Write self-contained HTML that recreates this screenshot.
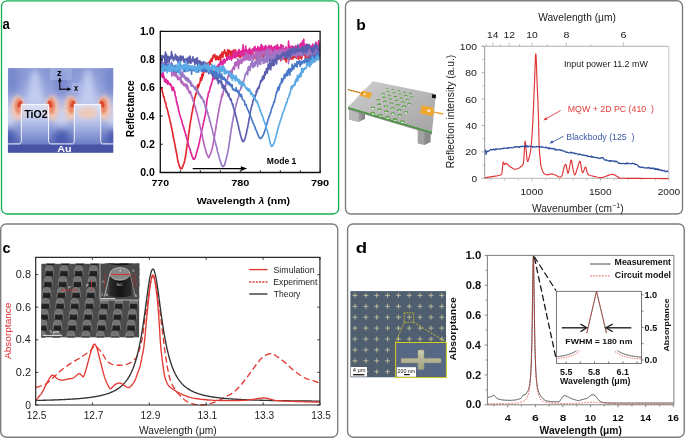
<!DOCTYPE html>
<html><head><meta charset="utf-8"><style>
html,body{margin:0;padding:0;background:#fff;}
svg{display:block;will-change:transform;}
text{font-family:"Liberation Sans", sans-serif;}
</style></head><body>
<svg width="685" height="438" viewBox="0 0 685 438">
<rect width="685" height="438" fill="#fff"/>
<rect x="1.5" y="0.8" width="337.1" height="213.2" rx="5.5" fill="none" stroke="#12b04f" stroke-width="1.3"/>
<rect x="345.5" y="0.8" width="337.0" height="213.2" rx="5.5" fill="none" stroke="#7d7d7d" stroke-width="1.4"/>
<rect x="0.7" y="224.0" width="337.0" height="213.2" rx="5.5" fill="none" stroke="#7d7d7d" stroke-width="1.4"/>
<rect x="347.6" y="224.0" width="336.6" height="213.2" rx="5.5" fill="none" stroke="#7d7d7d" stroke-width="1.4"/>
<defs>
<clipPath id="fmclip"><rect x="7.9" y="68.1" width="105.4" height="77"/></clipPath>
<filter id="blur3" x="-50%" y="-50%" width="200%" height="200%"><feGaussianBlur stdDeviation="3"/></filter>
<filter id="blur2" x="-50%" y="-50%" width="200%" height="200%"><feGaussianBlur stdDeviation="2"/></filter>
<filter id="blur1" x="-50%" y="-50%" width="200%" height="200%"><feGaussianBlur stdDeviation="1.2"/></filter>
<filter id="blur05a" x="-50%" y="-50%" width="200%" height="200%"><feGaussianBlur stdDeviation="0.7"/></filter>
<linearGradient id="fmbase" x1="0" y1="0" x2="0" y2="1">
<stop offset="0" stop-color="#8797d5"/><stop offset="0.35" stop-color="#97a5dc"/><stop offset="0.56" stop-color="#c2ccee"/><stop offset="0.78" stop-color="#8e9cd6"/><stop offset="1" stop-color="#5a6ab8"/>
</linearGradient>
<radialGradient id="hot" cx="0.5" cy="0.3" r="0.5">
<stop offset="0" stop-color="#e2583a"/><stop offset="0.35" stop-color="#ee9a7c"/><stop offset="0.7" stop-color="#e8d0d4" stop-opacity="0.8"/><stop offset="1" stop-color="#d8dcf0" stop-opacity="0"/>
</radialGradient>
<linearGradient id="pill1" x1="0" y1="0" x2="0" y2="1">
<stop offset="0" stop-color="#dde3f5"/><stop offset="0.4" stop-color="#bcc7ec"/><stop offset="1" stop-color="#6f7fc6"/>
</linearGradient>
</defs>
<g clip-path="url(#fmclip)">
<rect x="7.9" y="68.1" width="105.4" height="77" fill="url(#fmbase)"/>
<g filter="url(#blur3)">
<ellipse cx="8" cy="139" rx="8" ry="9" fill="#4c5cb0"/>
<ellipse cx="61.5" cy="139" rx="8" ry="9" fill="#4c5cb0"/>
<ellipse cx="114" cy="139" rx="8" ry="9" fill="#4c5cb0"/>
<ellipse cx="12" cy="80" rx="7" ry="14" fill="#7484ca" opacity="0.85"/>
<ellipse cx="61.5" cy="80" rx="7" ry="14" fill="#7484ca" opacity="0.85"/>
<ellipse cx="111" cy="80" rx="7" ry="14" fill="#7484ca" opacity="0.85"/>
<path d="M24,105 L46,105 L37.5,70 L32.5,70 Z" fill="#c2ccef"/>
<path d="M77,105 L99,105 L90.5,70 L85.5,70 Z" fill="#c2ccef"/>
<ellipse cx="8" cy="118" rx="9" ry="7" fill="#ccd4f0"/>
<ellipse cx="61.5" cy="118" rx="9" ry="7" fill="#ccd4f0"/>
<ellipse cx="114" cy="118" rx="9" ry="7" fill="#ccd4f0"/>
</g>
<g filter="url(#blur2)">
<ellipse cx="17.7" cy="108" rx="6.6" ry="12.5" fill="#f2c6b4"/>
<ellipse cx="52.2" cy="108" rx="6.6" ry="12.5" fill="#f2c6b4"/>
<ellipse cx="70.7" cy="108" rx="6.6" ry="12.5" fill="#f2c6b4"/>
<ellipse cx="104.3" cy="108" rx="6.6" ry="12.5" fill="#f2c6b4"/>
</g>
<g filter="url(#blur1)">
<ellipse cx="18.7" cy="106" rx="4.0" ry="8" fill="#ea8a6a"/>
<ellipse cx="51.2" cy="106" rx="4.0" ry="8" fill="#ea8a6a"/>
<ellipse cx="71.7" cy="106" rx="4.0" ry="8" fill="#ea8a6a"/>
<ellipse cx="103.3" cy="106" rx="4.0" ry="8" fill="#ea8a6a"/>
</g>
<g filter="url(#blur05a)">
<ellipse cx="19.8" cy="104.2" rx="2.2" ry="3.6" fill="#dc4c30" transform="rotate(20 19.8 104.2)"/>
<ellipse cx="50.1" cy="104.2" rx="2.2" ry="3.6" fill="#dc4c30" transform="rotate(-20 50.1 104.2)"/>
<ellipse cx="72.8" cy="104.2" rx="2.2" ry="3.6" fill="#dc4c30" transform="rotate(20 72.8 104.2)"/>
<ellipse cx="102.2" cy="104.2" rx="2.2" ry="3.6" fill="#dc4c30" transform="rotate(-20 102.2 104.2)"/>
</g>
<path d="M21.3,104.4 L48.6,104.4 L48.6,143.9 L21.3,143.9 Z" fill="url(#pill1)"/>
<path d="M74.3,104.4 L100.7,104.4 L100.7,143.9 L74.3,143.9 Z" fill="url(#pill1)"/>
<g filter="url(#blur2)"><ellipse cx="87.5" cy="113" rx="10" ry="6" fill="#f2c8b2" opacity="0.9"/><ellipse cx="23.5" cy="112" rx="1.6" ry="6" fill="#f0c0a8" opacity="0.7"/><ellipse cx="46.4" cy="112" rx="1.6" ry="6" fill="#f0c0a8" opacity="0.7"/></g>
<rect x="50" y="68.1" width="21.7" height="12" fill="#b4c0ea" opacity="0.45"/>
<rect x="71.7" y="82.9" width="12.9" height="10" fill="#b4c0ea" opacity="0.45"/>
</g>
<rect x="7.9" y="145" width="105.4" height="7.8" fill="#4953a6"/>
<path d="M7.9,143.9 L19.6,143.9 Q21.3,143.5 21.3,140.8 L21.3,104.4 L48.6,104.4 L48.6,140.8 Q48.6,143.5 50.3,143.9 L72.6,143.9 Q74.3,143.5 74.3,140.8 L74.3,104.4 L100.7,104.4 L100.7,140.8 Q100.7,143.5 102.4,143.9 L113.3,143.9" fill="none" stroke="#fff" stroke-width="0.9"/>
<text x="24.40" y="118.00" font-size="10.2" font-weight="bold" fill="#000" textLength="23.12" lengthAdjust="spacingAndGlyphs" >TiO2</text>
<text x="57.23" y="152.30" font-size="9.4" font-weight="bold" fill="#fff" textLength="14.30" lengthAdjust="spacingAndGlyphs" >Au</text>
<text x="57.13" y="75.90" font-size="8.4" font-weight="bold" fill="#000" textLength="4.59" lengthAdjust="spacingAndGlyphs" >z</text>
<text x="74.03" y="91.40" font-size="8.4" font-weight="bold" fill="#000" textLength="4.16" lengthAdjust="spacingAndGlyphs" >x</text>
<line x1="59.80" y1="89.60" x2="59.80" y2="80.50" stroke="#000" stroke-width="1.1" />
<line x1="59.30" y1="89.20" x2="68.50" y2="89.20" stroke="#000" stroke-width="1.1" />
<path d="M59.8,77.6 L57.9,81.4 L61.7,81.4 Z" fill="#000"/>
<path d="M71.2,89.2 L67.4,87.3 L67.4,91.1 Z" fill="#000"/>
<g fill="none" stroke-width="1.65" stroke-linejoin="round">
<path d="M160.9,89.1 L161.2,87.7 L161.6,88.6 L161.9,87.7 L162.2,91.6 L162.6,92.4 L162.9,93.4 L163.2,95.5 L163.5,96.8 L163.9,96.5 L164.2,97.9 L164.5,99.4 L164.9,101.5 L165.2,102.5 L165.5,102.2 L165.9,103.5 L166.2,105.9 L166.5,107.5 L166.8,107.6 L167.2,108.5 L167.5,110.6 L167.8,111.2 L168.2,112.9 L168.5,114.6 L168.8,115.6 L169.2,116.8 L169.5,118.5 L169.8,119.6 L170.1,121.2 L170.5,122.6 L170.8,124.2 L171.1,125.7 L171.5,127.4 L171.8,128.9 L172.1,130.6 L172.5,132.2 L172.8,133.9 L173.1,136.0 L173.4,136.8 L173.8,139.4 L174.1,140.6 L174.4,142.1 L174.8,144.1 L175.1,145.9 L175.4,147.9 L175.8,149.0 L176.1,151.1 L176.4,152.8 L176.7,154.1 L177.1,156.0 L177.4,158.2 L177.7,159.9 L178.1,161.5 L178.4,162.7 L178.7,163.9 L179.1,165.1 L179.4,166.5 L179.7,166.8 L180.0,167.8 L180.4,168.4 L180.7,168.1 L181.0,169.0 L181.4,168.2 L181.7,168.1 L182.0,168.4 L182.4,167.0 L182.7,166.4 L183.0,166.3 L183.3,164.7 L183.7,164.0 L184.0,163.2 L184.3,162.0 L184.7,160.7 L185.0,159.0 L185.3,157.5 L185.7,155.5 L186.0,153.3 L186.3,150.7 L186.6,148.5 L187.0,145.9 L187.3,144.5 L187.6,141.5 L188.0,140.0 L188.3,137.9 L188.6,134.5 L189.0,132.2 L189.3,129.8 L189.6,127.9 L189.9,125.1 L190.3,123.2 L190.6,121.1 L190.9,119.1 L191.3,117.6 L191.6,115.0 L191.9,113.5 L192.3,111.7 L192.6,110.2 L192.9,107.3 L193.2,106.9 L193.6,104.8 L193.9,103.4 L194.2,101.1 L194.6,97.9 L194.9,97.1 L195.2,97.0 L195.6,94.8 L195.9,93.4 L196.2,94.2 L196.5,93.7 L196.9,90.0 L197.2,91.5 L197.5,85.7 L197.9,84.7 L198.2,87.6 L198.5,85.2 L198.9,86.0 L199.2,84.6 L199.5,82.8 L199.8,83.0 L200.2,81.3 L200.5,77.8 L200.8,79.5 L201.2,78.5 L201.5,80.4 L201.8,74.5 L202.2,78.7 L202.5,73.8 L202.8,73.5 L203.1,75.9 L203.5,72.9 L203.8,70.7 L204.1,71.2 L204.5,71.7 L204.8,67.9 L205.1,68.7 L205.5,71.7 L205.8,70.0 L206.1,67.8 L206.4,66.5 L206.8,66.8 L207.1,63.6 L207.4,68.1 L207.8,66.5 L208.1,65.7 L208.4,62.3 L208.8,63.1 L209.1,65.1 L209.4,64.2 L209.7,62.3 L210.1,60.6 L210.4,64.4 L210.7,60.7 L211.1,59.0 L211.4,59.3 L211.7,58.2 L212.1,61.5 L212.4,58.0 L212.7,59.3 L213.0,55.6 L213.4,55.3 L213.7,56.7 L214.0,55.6 L214.4,56.2 L214.7,54.3 L215.0,56.8 L215.4,59.1 L215.7,58.7 L216.0,59.9 L216.3,56.2 L216.7,58.3 L217.0,56.1 L217.3,59.1 L217.7,56.9 L218.0,57.0 L218.3,57.0 L218.7,59.8 L219.0,57.5 L219.3,58.8 L219.6,55.9 L220.0,56.3 L220.3,54.7 L220.6,60.2 L221.0,56.6 L221.3,56.8 L221.6,55.8 L222.0,52.4 L222.3,52.4 L222.6,54.8 L222.9,57.5 L223.3,52.1 L223.6,52.6 L223.9,53.7 L224.3,52.2 L224.6,49.9 L224.9,52.4 L225.3,53.0 L225.6,52.3 L225.9,56.1 L226.2,52.7 L226.6,53.7 L226.9,56.5 L227.2,56.4 L227.6,49.9 L227.9,52.3 L228.2,55.4 L228.6,50.4 L228.9,50.1 L229.2,50.6 L229.5,50.6 L229.9,51.1 L230.2,53.8 L230.5,56.0 L230.9,56.6 L231.2,53.6 L231.5,51.3 L231.9,56.6 L232.2,53.1 L232.5,54.6 L232.8,53.7 L233.2,50.4 L233.5,54.9 L233.8,50.0 L234.2,52.8 L234.5,54.8 L234.8,55.0 L235.2,57.5 L235.5,49.7 L235.8,55.1 L236.1,55.9 L236.5,53.9 L236.8,55.9 L237.1,52.5 L237.5,56.0 L237.8,55.8 L238.1,52.8 L238.5,53.5 L238.8,54.5 L239.1,56.5 L239.4,57.0 L239.8,54.6 L240.1,57.6 L240.4,57.4 L240.8,55.2 L241.1,55.2 L241.4,53.2 L241.8,53.5 L242.1,53.6 L242.4,55.9 L242.7,53.4 L243.1,55.4 L243.4,55.6 L243.7,54.3 L244.1,54.9 L244.4,58.2 L244.7,58.6 L245.1,53.8 L245.4,55.0 L245.7,54.7 L246.0,54.9 L246.4,58.5 L246.7,56.8 L247.0,58.0 L247.4,59.0 L247.7,54.6 L248.0,55.1 L248.4,55.6 L248.7,57.6 L249.0,55.4 L249.3,56.9 L249.7,57.9 L250.0,57.3 L250.3,56.5 L250.7,54.1 L251.0,52.5 L251.3,57.9 L251.7,56.6 L252.0,55.5 L252.3,55.3 L252.6,54.8 L253.0,52.4 L253.3,56.3 L253.6,54.2 L254.0,55.2 L254.3,58.3 L254.6,55.6 L255.0,56.9 L255.3,56.7 L255.6,55.9 L255.9,55.9 L256.3,59.6 L256.6,55.5 L256.9,58.0 L257.3,54.1 L257.6,57.4 L257.9,56.3 L258.3,54.5 L258.6,50.7 L258.9,59.1 L259.2,53.7 L259.6,54.1 L259.9,56.3 L260.2,56.1 L260.6,56.6 L260.9,55.5 L261.2,53.0 L261.6,57.8 L261.9,54.3 L262.2,56.5 L262.5,57.2 L262.9,58.5 L263.2,55.7 L263.5,55.5 L263.9,55.7 L264.2,52.4 L264.5,54.6 L264.9,54.2 L265.2,53.9 L265.5,56.5 L265.8,55.6 L266.2,59.4 L266.5,59.2 L266.8,52.5 L267.2,56.5 L267.5,54.2 L267.8,57.4 L268.2,56.6 L268.5,58.1 L268.8,56.9 L269.1,57.8 L269.5,55.7 L269.8,51.3 L270.1,53.9 L270.5,54.6 L270.8,55.4 L271.1,54.3 L271.5,59.6 L271.8,56.0 L272.1,59.0 L272.4,55.7 L272.8,59.7 L273.1,54.0 L273.4,57.6 L273.8,53.7 L274.1,57.3 L274.4,59.6 L274.8,53.1 L275.1,54.7 L275.4,56.9 L275.7,56.1 L276.1,53.7 L276.4,58.8 L276.7,56.6 L277.1,59.0 L277.4,57.1 L277.7,53.7 L278.1,55.5 L278.4,59.2 L278.7,53.7 L279.0,55.6 L279.4,57.7 L279.7,58.5 L280.0,58.2 L280.4,53.6 L280.7,60.7 L281.0,56.2 L281.4,59.1 L281.7,56.5 L282.0,56.1 L282.3,54.6 L282.7,55.9 L283.0,59.2 L283.3,53.8 L283.7,51.7 L284.0,57.6 L284.3,57.2 L284.7,58.0 L285.0,60.0 L285.3,55.1 L285.6,56.9 L286.0,57.6 L286.3,62.1 L286.6,58.6 L287.0,54.9 L287.3,53.8 L287.6,56.0 L288.0,53.3 L288.3,58.8 L288.6,55.8 L288.9,55.8 L289.3,56.1 L289.6,59.6 L289.9,57.1 L290.3,55.7 L290.6,57.8 L290.9,52.1 L291.3,57.7 L291.6,59.2 L291.9,56.0 L292.2,58.1 L292.6,57.5 L292.9,58.8 L293.2,57.7 L293.6,56.6 L293.9,55.3 L294.2,57.1 L294.6,54.5 L294.9,55.5 L295.2,56.7 L295.5,57.6 L295.9,55.5 L296.2,54.9 L296.5,54.7 L296.9,58.7 L297.2,56.1 L297.5,56.1 L297.9,52.9 L298.2,56.4 L298.5,49.6 L298.8,59.2 L299.2,56.0 L299.5,56.5 L299.8,53.6 L300.2,57.1 L300.5,57.7 L300.8,56.1 L301.2,57.3 L301.5,59.0 L301.8,57.8 L302.1,52.7 L302.5,54.5 L302.8,54.2 L303.1,54.6 L303.5,52.3 L303.8,52.3 L304.1,54.9 L304.5,55.2 L304.8,55.3 L305.1,53.5 L305.4,59.2 L305.8,52.7 L306.1,53.6 L306.4,56.9 L306.8,55.8 L307.1,54.4 L307.4,57.9 L307.8,58.5 L308.1,59.0 L308.4,55.5 L308.7,56.3 L309.1,55.9 L309.4,56.4 L309.7,58.3 L310.1,55.3 L310.4,57.0 L310.7,51.8 L311.1,55.5 L311.4,59.5 L311.7,56.2 L312.0,58.3 L312.4,52.9 L312.7,55.5 L313.0,53.1 L313.4,56.8 L313.7,57.2 L314.0,53.4 L314.4,54.5 L314.7,55.0 L315.0,61.0 L315.3,55.4 L315.7,56.4 L316.0,56.8 L316.3,55.6 L316.7,53.2 L317.0,53.4 L317.3,56.9 L317.7,59.3 L318.0,56.6 L318.3,53.5 L318.6,53.3 L319.0,55.9 L319.3,56.1 L319.6,54.7" stroke="#e2262c"/>
<path d="M160.9,76.0 L161.2,73.7 L161.6,74.1 L161.9,75.1 L162.2,77.3 L162.6,73.2 L162.9,75.0 L163.2,72.7 L163.5,76.8 L163.9,78.2 L164.2,76.8 L164.5,81.2 L164.9,79.9 L165.2,81.9 L165.5,79.4 L165.9,82.4 L166.2,79.2 L166.5,81.0 L166.8,81.0 L167.2,80.6 L167.5,84.1 L167.8,84.0 L168.2,81.4 L168.5,83.7 L168.8,83.2 L169.2,83.6 L169.5,84.6 L169.8,83.4 L170.1,84.7 L170.5,85.2 L170.8,84.3 L171.1,85.4 L171.5,87.2 L171.8,86.5 L172.1,90.1 L172.5,90.4 L172.8,88.3 L173.1,89.3 L173.4,87.2 L173.8,89.7 L174.1,90.4 L174.4,91.6 L174.8,91.3 L175.1,95.1 L175.4,96.2 L175.8,96.6 L176.1,98.7 L176.4,101.0 L176.7,103.0 L177.1,102.2 L177.4,105.7 L177.7,105.0 L178.1,107.1 L178.4,108.8 L178.7,111.1 L179.1,111.9 L179.4,113.2 L179.7,114.7 L180.0,115.4 L180.4,116.3 L180.7,118.1 L181.0,118.7 L181.4,119.5 L181.7,120.5 L182.0,122.1 L182.4,123.8 L182.7,124.5 L183.0,125.4 L183.3,126.8 L183.7,127.1 L184.0,128.8 L184.3,129.6 L184.7,131.3 L185.0,131.7 L185.3,133.4 L185.7,134.3 L186.0,135.5 L186.3,136.9 L186.6,137.8 L187.0,139.5 L187.3,140.2 L187.6,140.8 L188.0,143.2 L188.3,144.3 L188.6,145.3 L189.0,146.7 L189.3,147.6 L189.6,148.2 L189.9,148.9 L190.3,150.2 L190.6,151.5 L190.9,152.8 L191.3,153.2 L191.6,154.4 L191.9,156.2 L192.3,156.4 L192.6,157.2 L192.9,157.8 L193.2,159.1 L193.6,159.1 L193.9,159.3 L194.2,159.4 L194.6,158.8 L194.9,158.4 L195.2,157.4 L195.6,156.6 L195.9,155.6 L196.2,154.5 L196.5,152.7 L196.9,151.8 L197.2,150.5 L197.5,149.2 L197.9,148.1 L198.2,147.5 L198.5,145.9 L198.9,144.2 L199.2,142.9 L199.5,141.7 L199.8,139.4 L200.2,138.3 L200.5,137.1 L200.8,135.6 L201.2,133.8 L201.5,132.1 L201.8,129.9 L202.2,128.8 L202.5,127.5 L202.8,126.2 L203.1,124.7 L203.5,122.4 L203.8,121.5 L204.1,120.3 L204.5,118.4 L204.8,117.1 L205.1,115.7 L205.5,113.9 L205.8,112.0 L206.1,109.6 L206.4,105.6 L206.8,101.9 L207.1,99.4 L207.4,98.0 L207.8,96.6 L208.1,95.8 L208.4,92.7 L208.8,92.1 L209.1,91.3 L209.4,91.9 L209.7,89.7 L210.1,87.7 L210.4,87.9 L210.7,85.9 L211.1,84.9 L211.4,85.0 L211.7,82.9 L212.1,82.0 L212.4,80.4 L212.7,78.6 L213.0,78.6 L213.4,74.1 L213.7,75.9 L214.0,78.3 L214.4,79.1 L214.7,74.0 L215.0,72.5 L215.4,70.6 L215.7,72.6 L216.0,70.9 L216.3,72.3 L216.7,66.3 L217.0,68.9 L217.3,67.5 L217.7,66.3 L218.0,69.0 L218.3,64.8 L218.7,64.2 L219.0,70.2 L219.3,64.6 L219.6,63.9 L220.0,64.8 L220.3,61.5 L220.6,63.9 L221.0,63.4 L221.3,61.6 L221.6,61.1 L222.0,64.7 L222.3,63.0 L222.6,65.2 L222.9,64.7 L223.3,59.7 L223.6,62.0 L223.9,59.8 L224.3,59.2 L224.6,62.7 L224.9,63.0 L225.3,60.2 L225.6,60.4 L225.9,60.1 L226.2,60.0 L226.6,59.9 L226.9,57.0 L227.2,60.1 L227.6,57.3 L227.9,56.1 L228.2,58.0 L228.6,58.7 L228.9,56.3 L229.2,58.6 L229.5,59.3 L229.9,56.1 L230.2,58.1 L230.5,57.6 L230.9,57.6 L231.2,58.0 L231.5,60.1 L231.9,58.0 L232.2,57.7 L232.5,56.4 L232.8,55.5 L233.2,57.7 L233.5,50.9 L233.8,54.7 L234.2,54.8 L234.5,56.4 L234.8,54.5 L235.2,57.8 L235.5,51.3 L235.8,57.8 L236.1,55.2 L236.5,56.3 L236.8,53.3 L237.1,56.2 L237.5,53.4 L237.8,54.4 L238.1,50.8 L238.5,54.7 L238.8,53.8 L239.1,49.6 L239.4,53.1 L239.8,52.7 L240.1,54.7 L240.4,51.6 L240.8,53.2 L241.1,55.3 L241.4,50.9 L241.8,56.3 L242.1,53.0 L242.4,51.9 L242.7,49.6 L243.1,44.8 L243.4,54.1 L243.7,51.1 L244.1,49.7 L244.4,54.0 L244.7,53.2 L245.1,52.0 L245.4,51.4 L245.7,46.1 L246.0,49.5 L246.4,51.4 L246.7,50.9 L247.0,53.1 L247.4,50.4 L247.7,51.9 L248.0,55.5 L248.4,52.3 L248.7,49.9 L249.0,49.3 L249.3,53.3 L249.7,48.3 L250.0,52.5 L250.3,54.0 L250.7,50.5 L251.0,52.3 L251.3,50.7 L251.7,53.4 L252.0,51.0 L252.3,49.0 L252.6,51.1 L253.0,50.2 L253.3,49.0 L253.6,49.7 L254.0,47.7 L254.3,48.4 L254.6,51.4 L255.0,46.3 L255.3,50.6 L255.6,50.0 L255.9,48.7 L256.3,52.7 L256.6,50.6 L256.9,48.6 L257.3,50.2 L257.6,54.9 L257.9,46.5 L258.3,50.1 L258.6,49.1 L258.9,50.4 L259.2,53.8 L259.6,48.2 L259.9,48.8 L260.2,47.1 L260.6,49.9 L260.9,50.7 L261.2,44.5 L261.6,52.4 L261.9,49.8 L262.2,45.7 L262.5,46.3 L262.9,50.3 L263.2,49.5 L263.5,53.5 L263.9,52.7 L264.2,51.8 L264.5,46.5 L264.9,50.0 L265.2,48.3 L265.5,48.2 L265.8,45.6 L266.2,48.3 L266.5,51.9 L266.8,47.8 L267.2,48.6 L267.5,49.3 L267.8,47.1 L268.2,49.6 L268.5,50.2 L268.8,48.5 L269.1,45.3 L269.5,52.1 L269.8,49.1 L270.1,48.9 L270.5,48.0 L270.8,47.7 L271.1,45.6 L271.5,48.8 L271.8,49.2 L272.1,50.9 L272.4,52.2 L272.8,47.4 L273.1,52.1 L273.4,49.0 L273.8,50.0 L274.1,46.8 L274.4,49.5 L274.8,46.9 L275.1,50.1 L275.4,46.2 L275.7,46.0 L276.1,47.9 L276.4,49.4 L276.7,49.9 L277.1,49.0 L277.4,44.6 L277.7,50.4 L278.1,50.5 L278.4,47.1 L278.7,50.1 L279.0,47.3 L279.4,48.3 L279.7,48.4 L280.0,48.4 L280.4,50.2 L280.7,44.9 L281.0,52.1 L281.4,45.0 L281.7,51.0 L282.0,49.7 L282.3,45.5 L282.7,49.2 L283.0,47.9 L283.3,46.1 L283.7,50.9 L284.0,50.7 L284.3,49.2 L284.7,51.8 L285.0,48.7 L285.3,52.9 L285.6,51.1 L286.0,46.9 L286.3,50.0 L286.6,50.6 L287.0,48.8 L287.3,48.6 L287.6,49.3 L288.0,48.8 L288.3,46.9 L288.6,41.1 L288.9,48.5 L289.3,45.3 L289.6,50.2 L289.9,47.3 L290.3,48.7 L290.6,49.7 L290.9,50.3 L291.3,46.3 L291.6,52.6 L291.9,51.8 L292.2,49.6 L292.6,46.3 L292.9,52.2 L293.2,49.4 L293.6,48.9 L293.9,47.5 L294.2,51.9 L294.6,51.0 L294.9,47.8 L295.2,54.3 L295.5,45.8 L295.9,49.7 L296.2,49.3 L296.5,49.3 L296.9,46.3 L297.2,47.1 L297.5,49.8 L297.9,50.0 L298.2,50.5 L298.5,47.2 L298.8,46.7 L299.2,50.4 L299.5,47.4 L299.8,46.5 L300.2,43.8 L300.5,44.0 L300.8,45.3 L301.2,43.4 L301.5,46.7 L301.8,46.8 L302.1,45.4 L302.5,41.2 L302.8,47.2 L303.1,43.8 L303.5,48.8 L303.8,39.2 L304.1,51.2 L304.5,44.3 L304.8,47.3 L305.1,46.5 L305.4,48.0 L305.8,53.1 L306.1,48.3 L306.4,44.0 L306.8,48.7 L307.1,46.6 L307.4,47.9 L307.8,49.2 L308.1,44.7 L308.4,48.3 L308.7,45.5 L309.1,46.8 L309.4,47.4 L309.7,48.5 L310.1,47.4 L310.4,46.4 L310.7,48.1 L311.1,49.0 L311.4,48.9 L311.7,51.2 L312.0,45.6 L312.4,47.3 L312.7,44.1 L313.0,45.4 L313.4,48.1 L313.7,49.4 L314.0,45.8 L314.4,47.7 L314.7,46.9 L315.0,47.8 L315.3,47.2 L315.7,45.8 L316.0,42.2 L316.3,43.7 L316.7,47.4 L317.0,49.0 L317.3,50.8 L317.7,46.7 L318.0,48.5 L318.3,44.2 L318.6,40.9 L319.0,45.8 L319.3,49.9 L319.6,50.1" stroke="#e0249a"/>
<path d="M160.9,62.9 L161.2,63.7 L161.6,64.2 L161.9,63.9 L162.2,62.0 L162.6,66.8 L162.9,64.8 L163.2,66.3 L163.5,66.9 L163.9,64.8 L164.2,63.5 L164.5,64.6 L164.9,65.2 L165.2,64.7 L165.5,65.9 L165.9,63.8 L166.2,66.0 L166.5,65.9 L166.8,67.8 L167.2,68.5 L167.5,71.3 L167.8,70.3 L168.2,69.5 L168.5,68.5 L168.8,68.8 L169.2,69.7 L169.5,68.8 L169.8,69.6 L170.1,68.2 L170.5,70.9 L170.8,68.8 L171.1,69.9 L171.5,70.1 L171.8,76.2 L172.1,72.0 L172.5,73.9 L172.8,70.2 L173.1,73.8 L173.4,72.6 L173.8,75.1 L174.1,73.1 L174.4,72.1 L174.8,75.8 L175.1,74.9 L175.4,72.9 L175.8,75.5 L176.1,73.4 L176.4,77.3 L176.7,76.6 L177.1,77.4 L177.4,75.6 L177.7,79.7 L178.1,76.9 L178.4,78.7 L178.7,78.1 L179.1,79.0 L179.4,77.3 L179.7,79.7 L180.0,80.0 L180.4,77.7 L180.7,82.2 L181.0,79.5 L181.4,80.5 L181.7,80.8 L182.0,83.9 L182.4,81.7 L182.7,82.2 L183.0,83.7 L183.3,83.8 L183.7,85.5 L184.0,83.7 L184.3,83.8 L184.7,83.8 L185.0,84.2 L185.3,86.3 L185.7,86.7 L186.0,85.9 L186.3,86.0 L186.6,84.2 L187.0,88.5 L187.3,89.2 L187.6,85.6 L188.0,87.5 L188.3,89.1 L188.6,91.4 L189.0,90.5 L189.3,92.2 L189.6,93.2 L189.9,92.8 L190.3,91.6 L190.6,91.9 L190.9,93.8 L191.3,95.7 L191.6,96.2 L191.9,95.8 L192.3,98.3 L192.6,97.8 L192.9,99.2 L193.2,101.2 L193.6,101.8 L193.9,102.4 L194.2,103.3 L194.6,105.1 L194.9,106.4 L195.2,107.2 L195.6,108.0 L195.9,109.9 L196.2,111.2 L196.5,111.5 L196.9,113.4 L197.2,114.2 L197.5,115.6 L197.9,117.2 L198.2,117.9 L198.5,119.6 L198.9,121.5 L199.2,122.8 L199.5,123.5 L199.8,124.8 L200.2,126.9 L200.5,128.0 L200.8,129.4 L201.2,130.3 L201.5,132.2 L201.8,133.2 L202.2,135.1 L202.5,137.3 L202.8,138.7 L203.1,140.4 L203.5,141.5 L203.8,143.2 L204.1,144.4 L204.5,146.5 L204.8,147.1 L205.1,148.0 L205.5,149.5 L205.8,151.2 L206.1,151.8 L206.4,153.2 L206.8,153.7 L207.1,154.8 L207.4,155.4 L207.8,156.0 L208.1,156.7 L208.4,157.2 L208.8,157.6 L209.1,156.9 L209.4,156.0 L209.7,155.5 L210.1,154.6 L210.4,154.2 L210.7,153.0 L211.1,152.2 L211.4,150.9 L211.7,150.5 L212.1,148.7 L212.4,147.7 L212.7,145.9 L213.0,145.0 L213.4,142.1 L213.7,140.8 L214.0,139.2 L214.4,136.8 L214.7,135.1 L215.0,132.9 L215.4,131.4 L215.7,129.0 L216.0,127.5 L216.3,124.5 L216.7,123.2 L217.0,120.7 L217.3,118.8 L217.7,117.1 L218.0,114.9 L218.3,113.0 L218.7,111.7 L219.0,109.0 L219.3,107.7 L219.6,106.8 L220.0,104.0 L220.3,104.0 L220.6,100.8 L221.0,100.5 L221.3,99.0 L221.6,95.9 L222.0,97.2 L222.3,93.8 L222.6,95.5 L222.9,94.6 L223.3,91.0 L223.6,90.7 L223.9,89.3 L224.3,86.6 L224.6,86.3 L224.9,86.2 L225.3,85.3 L225.6,86.1 L225.9,83.6 L226.2,81.6 L226.6,82.5 L226.9,81.8 L227.2,79.3 L227.6,79.1 L227.9,76.9 L228.2,76.7 L228.6,72.5 L228.9,72.3 L229.2,76.1 L229.5,72.7 L229.9,71.2 L230.2,73.5 L230.5,75.8 L230.9,73.3 L231.2,71.6 L231.5,70.3 L231.9,73.4 L232.2,72.8 L232.5,69.6 L232.8,67.8 L233.2,68.2 L233.5,68.6 L233.8,66.8 L234.2,65.6 L234.5,69.4 L234.8,62.8 L235.2,64.9 L235.5,65.6 L235.8,62.0 L236.1,62.5 L236.5,65.9 L236.8,62.0 L237.1,64.1 L237.5,60.8 L237.8,58.8 L238.1,62.2 L238.5,68.4 L238.8,62.4 L239.1,60.9 L239.4,64.4 L239.8,60.6 L240.1,59.4 L240.4,61.4 L240.8,62.8 L241.1,61.2 L241.4,62.4 L241.8,63.3 L242.1,58.4 L242.4,59.6 L242.7,59.1 L243.1,60.7 L243.4,56.1 L243.7,61.2 L244.1,56.3 L244.4,59.7 L244.7,56.1 L245.1,56.6 L245.4,59.7 L245.7,54.1 L246.0,59.5 L246.4,57.5 L246.7,53.1 L247.0,60.0 L247.4,55.4 L247.7,59.0 L248.0,56.8 L248.4,56.8 L248.7,60.2 L249.0,54.5 L249.3,56.8 L249.7,58.9 L250.0,56.2 L250.3,60.2 L250.7,55.7 L251.0,57.9 L251.3,55.6 L251.7,58.1 L252.0,54.8 L252.3,56.3 L252.6,57.8 L253.0,53.7 L253.3,60.1 L253.6,58.6 L254.0,55.1 L254.3,55.3 L254.6,57.3 L255.0,57.6 L255.3,52.7 L255.6,53.9 L255.9,50.4 L256.3,55.4 L256.6,56.7 L256.9,53.6 L257.3,52.8 L257.6,56.1 L257.9,54.1 L258.3,59.2 L258.6,58.0 L258.9,51.3 L259.2,56.3 L259.6,56.2 L259.9,56.2 L260.2,54.7 L260.6,51.8 L260.9,54.9 L261.2,53.5 L261.6,58.1 L261.9,55.7 L262.2,56.7 L262.5,51.0 L262.9,54.3 L263.2,53.8 L263.5,52.4 L263.9,53.2 L264.2,51.0 L264.5,54.3 L264.9,52.2 L265.2,54.2 L265.5,51.0 L265.8,53.3 L266.2,52.3 L266.5,55.3 L266.8,55.3 L267.2,52.6 L267.5,54.8 L267.8,48.3 L268.2,53.8 L268.5,54.4 L268.8,53.4 L269.1,50.1 L269.5,53.4 L269.8,55.3 L270.1,54.1 L270.5,49.1 L270.8,53.4 L271.1,56.8 L271.5,55.8 L271.8,56.3 L272.1,53.1 L272.4,54.8 L272.8,53.2 L273.1,53.1 L273.4,51.1 L273.8,53.2 L274.1,55.2 L274.4,53.4 L274.8,49.4 L275.1,54.3 L275.4,50.9 L275.7,54.1 L276.1,51.4 L276.4,55.7 L276.7,52.6 L277.1,55.0 L277.4,51.1 L277.7,52.5 L278.1,53.1 L278.4,50.0 L278.7,51.7 L279.0,51.7 L279.4,52.9 L279.7,52.8 L280.0,49.4 L280.4,55.0 L280.7,53.9 L281.0,51.4 L281.4,54.5 L281.7,52.1 L282.0,51.4 L282.3,49.8 L282.7,47.2 L283.0,58.4 L283.3,54.7 L283.7,53.6 L284.0,53.6 L284.3,56.2 L284.7,49.4 L285.0,53.7 L285.3,56.3 L285.6,52.0 L286.0,57.1 L286.3,51.7 L286.6,52.2 L287.0,48.4 L287.3,53.4 L287.6,53.9 L288.0,53.4 L288.3,52.7 L288.6,53.7 L288.9,51.8 L289.3,48.7 L289.6,52.7 L289.9,53.2 L290.3,57.6 L290.6,51.2 L290.9,52.3 L291.3,48.5 L291.6,48.4 L291.9,49.8 L292.2,54.8 L292.6,52.1 L292.9,50.7 L293.2,50.2 L293.6,52.3 L293.9,53.5 L294.2,52.9 L294.6,51.6 L294.9,52.0 L295.2,53.0 L295.5,53.0 L295.9,52.4 L296.2,51.0 L296.5,48.8 L296.9,50.6 L297.2,51.5 L297.5,51.3 L297.9,48.3 L298.2,49.1 L298.5,53.5 L298.8,50.0 L299.2,51.1 L299.5,50.3 L299.8,48.6 L300.2,52.6 L300.5,48.0 L300.8,51.1 L301.2,50.2 L301.5,51.1 L301.8,49.5 L302.1,53.0 L302.5,53.6 L302.8,52.4 L303.1,50.0 L303.5,48.2 L303.8,55.4 L304.1,46.9 L304.5,48.4 L304.8,51.5 L305.1,51.8 L305.4,45.6 L305.8,51.7 L306.1,47.9 L306.4,52.2 L306.8,51.5 L307.1,50.7 L307.4,52.9 L307.8,51.4 L308.1,46.0 L308.4,52.3 L308.7,51.2 L309.1,52.6 L309.4,50.2 L309.7,52.2 L310.1,49.9 L310.4,51.5 L310.7,52.4 L311.1,49.5 L311.4,49.3 L311.7,50.7 L312.0,52.1 L312.4,51.3 L312.7,50.9 L313.0,51.9 L313.4,51.2 L313.7,48.4 L314.0,53.1 L314.4,53.0 L314.7,50.5 L315.0,47.0 L315.3,52.8 L315.7,48.2 L316.0,50.3 L316.3,49.9 L316.7,53.6 L317.0,52.2 L317.3,51.2 L317.7,51.2 L318.0,49.0 L318.3,48.0 L318.6,51.5 L319.0,51.7 L319.3,50.2 L319.6,53.2" stroke="#b566bf"/>
<path d="M160.9,65.3 L161.2,59.9 L161.6,62.5 L161.9,58.4 L162.2,64.8 L162.6,63.4 L162.9,67.0 L163.2,67.3 L163.5,62.8 L163.9,64.8 L164.2,65.3 L164.5,62.2 L164.9,62.5 L165.2,64.0 L165.5,59.8 L165.9,60.0 L166.2,64.3 L166.5,63.7 L166.8,63.2 L167.2,68.8 L167.5,64.8 L167.8,66.9 L168.2,65.2 L168.5,64.9 L168.8,63.9 L169.2,61.9 L169.5,65.4 L169.8,64.1 L170.1,66.7 L170.5,63.8 L170.8,64.1 L171.1,65.7 L171.5,62.3 L171.8,64.2 L172.1,65.9 L172.5,65.6 L172.8,65.7 L173.1,66.8 L173.4,67.2 L173.8,71.9 L174.1,67.0 L174.4,65.8 L174.8,69.6 L175.1,68.7 L175.4,67.8 L175.8,71.4 L176.1,65.3 L176.4,69.6 L176.7,68.5 L177.1,70.1 L177.4,70.4 L177.7,70.7 L178.1,71.7 L178.4,69.4 L178.7,69.9 L179.1,73.0 L179.4,71.6 L179.7,71.2 L180.0,70.4 L180.4,72.4 L180.7,70.7 L181.0,75.7 L181.4,78.0 L181.7,74.7 L182.0,72.7 L182.4,76.3 L182.7,72.0 L183.0,76.0 L183.3,75.0 L183.7,77.1 L184.0,75.0 L184.3,76.5 L184.7,78.1 L185.0,76.5 L185.3,79.5 L185.7,77.0 L186.0,77.6 L186.3,80.6 L186.6,78.0 L187.0,78.8 L187.3,77.9 L187.6,78.2 L188.0,81.8 L188.3,80.7 L188.6,78.9 L189.0,80.1 L189.3,81.3 L189.6,83.0 L189.9,83.0 L190.3,83.1 L190.6,81.1 L190.9,86.0 L191.3,82.8 L191.6,84.1 L191.9,83.9 L192.3,86.4 L192.6,85.4 L192.9,86.4 L193.2,85.8 L193.6,86.0 L193.9,87.0 L194.2,87.9 L194.6,88.6 L194.9,89.0 L195.2,89.6 L195.6,86.5 L195.9,89.6 L196.2,90.4 L196.5,91.5 L196.9,90.2 L197.2,89.8 L197.5,89.6 L197.9,92.4 L198.2,91.1 L198.5,93.2 L198.9,94.9 L199.2,93.2 L199.5,94.0 L199.8,94.7 L200.2,94.7 L200.5,97.4 L200.8,95.8 L201.2,98.2 L201.5,97.6 L201.8,97.2 L202.2,98.7 L202.5,99.2 L202.8,99.0 L203.1,100.1 L203.5,102.1 L203.8,102.2 L204.1,100.8 L204.5,104.2 L204.8,104.8 L205.1,105.5 L205.5,108.0 L205.8,105.9 L206.1,108.1 L206.4,109.4 L206.8,109.0 L207.1,111.4 L207.4,112.0 L207.8,112.8 L208.1,114.9 L208.4,115.8 L208.8,116.4 L209.1,117.9 L209.4,118.7 L209.7,121.1 L210.1,121.2 L210.4,122.8 L210.7,123.9 L211.1,125.7 L211.4,126.5 L211.7,127.8 L212.1,129.2 L212.4,130.2 L212.7,131.8 L213.0,133.5 L213.4,134.9 L213.7,134.9 L214.0,137.0 L214.4,138.6 L214.7,139.8 L215.0,141.5 L215.4,142.4 L215.7,144.1 L216.0,144.7 L216.3,146.0 L216.7,147.1 L217.0,149.1 L217.3,150.4 L217.7,152.0 L218.0,152.9 L218.3,154.2 L218.7,155.1 L219.0,157.0 L219.3,157.8 L219.6,158.9 L220.0,160.5 L220.3,160.6 L220.6,162.1 L221.0,163.0 L221.3,164.1 L221.6,165.0 L222.0,165.8 L222.3,165.7 L222.6,166.5 L222.9,166.4 L223.3,166.6 L223.6,165.9 L223.9,166.1 L224.3,165.4 L224.6,165.0 L224.9,163.1 L225.3,162.2 L225.6,161.4 L225.9,160.3 L226.2,158.5 L226.6,157.4 L226.9,156.1 L227.2,154.8 L227.6,153.1 L227.9,151.2 L228.2,149.9 L228.6,148.0 L228.9,145.9 L229.2,143.8 L229.5,141.9 L229.9,139.4 L230.2,137.5 L230.5,134.3 L230.9,132.2 L231.2,130.0 L231.5,128.0 L231.9,125.7 L232.2,123.4 L232.5,122.0 L232.8,120.7 L233.2,118.3 L233.5,116.8 L233.8,115.1 L234.2,113.3 L234.5,111.4 L234.8,110.0 L235.2,109.4 L235.5,107.4 L235.8,105.9 L236.1,104.3 L236.5,103.3 L236.8,102.9 L237.1,101.7 L237.5,99.7 L237.8,98.6 L238.1,98.5 L238.5,97.5 L238.8,95.5 L239.1,93.0 L239.4,90.7 L239.8,90.1 L240.1,90.1 L240.4,90.0 L240.8,88.3 L241.1,86.7 L241.4,88.0 L241.8,85.5 L242.1,83.7 L242.4,82.3 L242.7,83.9 L243.1,81.3 L243.4,81.7 L243.7,80.6 L244.1,79.5 L244.4,78.4 L244.7,78.2 L245.1,74.7 L245.4,74.8 L245.7,74.3 L246.0,73.3 L246.4,73.5 L246.7,72.2 L247.0,72.4 L247.4,70.5 L247.7,74.9 L248.0,67.6 L248.4,70.1 L248.7,68.3 L249.0,66.4 L249.3,69.0 L249.7,70.7 L250.0,66.6 L250.3,69.8 L250.7,63.9 L251.0,66.6 L251.3,64.0 L251.7,62.9 L252.0,59.8 L252.3,63.2 L252.6,65.2 L253.0,67.6 L253.3,65.7 L253.6,67.1 L254.0,63.3 L254.3,62.2 L254.6,66.2 L255.0,66.0 L255.3,61.3 L255.6,62.6 L255.9,64.0 L256.3,62.5 L256.6,60.1 L256.9,63.1 L257.3,56.3 L257.6,66.7 L257.9,62.7 L258.3,59.5 L258.6,63.7 L258.9,63.9 L259.2,63.8 L259.6,63.4 L259.9,58.5 L260.2,59.2 L260.6,64.4 L260.9,60.2 L261.2,59.0 L261.6,59.6 L261.9,57.1 L262.2,59.3 L262.5,60.6 L262.9,58.8 L263.2,63.4 L263.5,57.9 L263.9,62.1 L264.2,60.7 L264.5,62.9 L264.9,60.2 L265.2,55.6 L265.5,56.8 L265.8,61.9 L266.2,57.4 L266.5,61.5 L266.8,50.3 L267.2,62.5 L267.5,58.1 L267.8,59.7 L268.2,60.4 L268.5,54.6 L268.8,57.2 L269.1,59.3 L269.5,61.5 L269.8,56.9 L270.1,57.1 L270.5,57.9 L270.8,57.2 L271.1,59.1 L271.5,61.1 L271.8,55.5 L272.1,55.2 L272.4,55.7 L272.8,58.9 L273.1,61.4 L273.4,56.1 L273.8,56.3 L274.1,52.8 L274.4,59.7 L274.8,57.1 L275.1,56.1 L275.4,57.9 L275.7,57.9 L276.1,59.6 L276.4,55.1 L276.7,57.2 L277.1,54.7 L277.4,56.7 L277.7,55.6 L278.1,53.7 L278.4,54.5 L278.7,57.5 L279.0,54.8 L279.4,55.4 L279.7,52.0 L280.0,56.8 L280.4,51.1 L280.7,55.0 L281.0,56.3 L281.4,60.3 L281.7,56.4 L282.0,54.0 L282.3,54.7 L282.7,56.3 L283.0,56.4 L283.3,54.9 L283.7,57.3 L284.0,56.8 L284.3,53.8 L284.7,55.7 L285.0,56.4 L285.3,52.7 L285.6,53.4 L286.0,55.5 L286.3,57.1 L286.6,57.5 L287.0,56.2 L287.3,53.9 L287.6,55.3 L288.0,54.9 L288.3,56.2 L288.6,63.6 L288.9,53.2 L289.3,51.4 L289.6,57.8 L289.9,53.2 L290.3,53.1 L290.6,56.5 L290.9,53.6 L291.3,49.6 L291.6,56.9 L291.9,53.6 L292.2,52.4 L292.6,54.7 L292.9,54.2 L293.2,52.4 L293.6,55.6 L293.9,51.4 L294.2,54.3 L294.6,52.9 L294.9,55.0 L295.2,54.8 L295.5,51.9 L295.9,52.5 L296.2,57.0 L296.5,57.4 L296.9,55.2 L297.2,55.5 L297.5,54.1 L297.9,50.5 L298.2,52.6 L298.5,52.9 L298.8,53.5 L299.2,49.0 L299.5,56.2 L299.8,51.9 L300.2,54.7 L300.5,48.7 L300.8,53.8 L301.2,51.4 L301.5,55.4 L301.8,51.5 L302.1,55.2 L302.5,55.4 L302.8,50.7 L303.1,50.9 L303.5,54.0 L303.8,52.8 L304.1,53.3 L304.5,50.8 L304.8,51.8 L305.1,52.4 L305.4,53.8 L305.8,50.9 L306.1,53.2 L306.4,53.6 L306.8,56.3 L307.1,47.8 L307.4,55.0 L307.8,55.4 L308.1,56.0 L308.4,52.5 L308.7,53.5 L309.1,51.6 L309.4,52.3 L309.7,54.2 L310.1,51.8 L310.4,51.9 L310.7,52.0 L311.1,52.6 L311.4,54.3 L311.7,54.2 L312.0,49.6 L312.4,52.2 L312.7,52.0 L313.0,54.4 L313.4,54.3 L313.7,51.4 L314.0,51.2 L314.4,48.1 L314.7,53.2 L315.0,52.9 L315.3,51.9 L315.7,49.4 L316.0,51.7 L316.3,51.0 L316.7,50.3 L317.0,51.4 L317.3,48.6 L317.7,50.1 L318.0,46.1 L318.3,52.0 L318.6,55.0 L319.0,47.9 L319.3,52.4 L319.6,50.6" stroke="#9a78c6"/>
<path d="M160.9,56.6 L161.2,63.1 L161.6,60.8 L161.9,55.6 L162.2,60.0 L162.6,56.0 L162.9,57.9 L163.2,57.7 L163.5,57.4 L163.9,57.5 L164.2,57.1 L164.5,55.3 L164.9,61.5 L165.2,60.9 L165.5,52.1 L165.9,67.2 L166.2,57.0 L166.5,54.4 L166.8,57.5 L167.2,62.5 L167.5,60.9 L167.8,60.6 L168.2,56.4 L168.5,61.4 L168.8,61.5 L169.2,61.4 L169.5,60.3 L169.8,57.4 L170.1,56.5 L170.5,56.6 L170.8,58.1 L171.1,58.8 L171.5,51.5 L171.8,56.8 L172.1,54.3 L172.5,57.1 L172.8,56.4 L173.1,59.3 L173.4,60.6 L173.8,57.9 L174.1,59.7 L174.4,58.9 L174.8,58.2 L175.1,56.2 L175.4,54.4 L175.8,58.1 L176.1,55.6 L176.4,60.1 L176.7,57.9 L177.1,58.5 L177.4,57.7 L177.7,56.7 L178.1,62.9 L178.4,59.6 L178.7,59.7 L179.1,58.1 L179.4,57.6 L179.7,58.7 L180.0,56.2 L180.4,61.5 L180.7,56.0 L181.0,57.2 L181.4,60.4 L181.7,59.1 L182.0,56.4 L182.4,57.2 L182.7,59.1 L183.0,56.4 L183.3,58.0 L183.7,62.0 L184.0,62.0 L184.3,61.4 L184.7,59.2 L185.0,62.2 L185.3,59.5 L185.7,59.4 L186.0,61.8 L186.3,58.5 L186.6,59.0 L187.0,58.8 L187.3,60.1 L187.6,59.3 L188.0,63.9 L188.3,57.3 L188.6,61.2 L189.0,58.5 L189.3,60.4 L189.6,62.7 L189.9,56.1 L190.3,57.1 L190.6,61.7 L190.9,63.3 L191.3,60.6 L191.6,59.5 L191.9,59.7 L192.3,61.5 L192.6,59.8 L192.9,56.8 L193.2,59.7 L193.6,61.0 L193.9,61.1 L194.2,59.5 L194.6,62.9 L194.9,65.0 L195.2,59.0 L195.6,62.9 L195.9,61.3 L196.2,61.5 L196.5,58.5 L196.9,63.6 L197.2,57.8 L197.5,60.7 L197.9,69.2 L198.2,61.5 L198.5,64.0 L198.9,60.9 L199.2,60.8 L199.5,63.8 L199.8,64.2 L200.2,62.1 L200.5,61.3 L200.8,62.3 L201.2,67.1 L201.5,63.1 L201.8,66.1 L202.2,62.7 L202.5,63.3 L202.8,62.8 L203.1,62.0 L203.5,65.8 L203.8,61.6 L204.1,66.2 L204.5,65.6 L204.8,71.5 L205.1,68.8 L205.5,70.9 L205.8,62.7 L206.1,67.4 L206.4,68.8 L206.8,65.5 L207.1,68.6 L207.4,67.0 L207.8,71.6 L208.1,68.4 L208.4,68.9 L208.8,73.8 L209.1,69.5 L209.4,68.0 L209.7,71.4 L210.1,69.4 L210.4,68.7 L210.7,71.7 L211.1,73.1 L211.4,69.7 L211.7,74.5 L212.1,70.4 L212.4,73.0 L212.7,76.5 L213.0,75.1 L213.4,72.2 L213.7,74.0 L214.0,73.4 L214.4,72.2 L214.7,77.0 L215.0,78.7 L215.4,74.9 L215.7,74.0 L216.0,76.2 L216.3,78.2 L216.7,79.0 L217.0,77.2 L217.3,80.6 L217.7,77.9 L218.0,78.6 L218.3,83.7 L218.7,80.8 L219.0,80.8 L219.3,81.9 L219.6,81.0 L220.0,81.8 L220.3,80.7 L220.6,80.7 L221.0,80.8 L221.3,84.1 L221.6,81.7 L222.0,84.6 L222.3,87.9 L222.6,86.1 L222.9,84.7 L223.3,86.5 L223.6,88.4 L223.9,86.1 L224.3,89.1 L224.6,85.9 L224.9,87.2 L225.3,90.5 L225.6,88.2 L225.9,92.2 L226.2,90.5 L226.6,92.1 L226.9,92.2 L227.2,91.8 L227.6,94.5 L227.9,94.3 L228.2,96.0 L228.6,94.2 L228.9,93.8 L229.2,96.9 L229.5,97.6 L229.9,98.1 L230.2,99.7 L230.5,100.0 L230.9,99.0 L231.2,100.0 L231.5,101.4 L231.9,102.7 L232.2,103.5 L232.5,104.7 L232.8,103.9 L233.2,107.0 L233.5,107.4 L233.8,108.7 L234.2,110.4 L234.5,111.0 L234.8,111.6 L235.2,112.9 L235.5,114.8 L235.8,115.5 L236.1,116.9 L236.5,118.0 L236.8,119.8 L237.1,121.4 L237.5,121.8 L237.8,123.3 L238.1,124.7 L238.5,126.1 L238.8,128.6 L239.1,129.9 L239.4,130.4 L239.8,131.9 L240.1,133.7 L240.4,134.6 L240.8,136.2 L241.1,136.9 L241.4,138.7 L241.8,138.8 L242.1,140.3 L242.4,140.7 L242.7,141.3 L243.1,141.7 L243.4,141.3 L243.7,141.1 L244.1,140.5 L244.4,140.5 L244.7,138.7 L245.1,138.1 L245.4,137.4 L245.7,135.7 L246.0,134.4 L246.4,133.7 L246.7,131.5 L247.0,129.8 L247.4,128.8 L247.7,126.9 L248.0,125.5 L248.4,123.1 L248.7,121.9 L249.0,119.8 L249.3,117.9 L249.7,116.7 L250.0,114.9 L250.3,112.1 L250.7,110.5 L251.0,109.1 L251.3,107.9 L251.7,106.2 L252.0,104.8 L252.3,105.0 L252.6,103.1 L253.0,100.6 L253.3,99.9 L253.6,99.2 L254.0,99.7 L254.3,98.8 L254.6,95.9 L255.0,97.3 L255.3,95.7 L255.6,95.1 L255.9,94.8 L256.3,91.1 L256.6,90.3 L256.9,92.3 L257.3,89.2 L257.6,89.8 L257.9,89.4 L258.3,87.2 L258.6,88.1 L258.9,87.3 L259.2,88.0 L259.6,84.9 L259.9,83.8 L260.2,83.3 L260.6,80.8 L260.9,82.4 L261.2,80.0 L261.6,80.6 L261.9,80.8 L262.2,79.6 L262.5,76.7 L262.9,79.8 L263.2,78.0 L263.5,75.6 L263.9,76.3 L264.2,78.5 L264.5,74.8 L264.9,71.8 L265.2,75.1 L265.5,74.1 L265.8,72.4 L266.2,69.6 L266.5,68.5 L266.8,68.7 L267.2,73.2 L267.5,70.7 L267.8,68.5 L268.2,64.1 L268.5,66.6 L268.8,69.7 L269.1,67.7 L269.5,65.6 L269.8,59.3 L270.1,65.0 L270.5,63.6 L270.8,69.8 L271.1,63.6 L271.5,64.4 L271.8,65.6 L272.1,61.6 L272.4,60.1 L272.8,60.7 L273.1,63.0 L273.4,65.7 L273.8,63.0 L274.1,59.8 L274.4,65.2 L274.8,59.8 L275.1,59.2 L275.4,59.7 L275.7,62.0 L276.1,58.2 L276.4,59.5 L276.7,64.0 L277.1,55.3 L277.4,59.1 L277.7,59.1 L278.1,55.3 L278.4,58.7 L278.7,55.8 L279.0,56.7 L279.4,56.4 L279.7,56.5 L280.0,58.6 L280.4,55.7 L280.7,57.3 L281.0,57.4 L281.4,55.4 L281.7,55.1 L282.0,54.4 L282.3,56.3 L282.7,54.0 L283.0,52.9 L283.3,54.7 L283.7,55.1 L284.0,54.7 L284.3,54.4 L284.7,52.8 L285.0,58.2 L285.3,56.3 L285.6,53.0 L286.0,56.3 L286.3,57.4 L286.6,55.3 L287.0,51.3 L287.3,55.5 L287.6,57.8 L288.0,54.1 L288.3,50.6 L288.6,54.4 L288.9,55.8 L289.3,54.1 L289.6,51.5 L289.9,48.7 L290.3,57.7 L290.6,53.3 L290.9,49.5 L291.3,52.6 L291.6,50.3 L291.9,49.2 L292.2,49.1 L292.6,54.5 L292.9,51.0 L293.2,48.5 L293.6,50.2 L293.9,46.8 L294.2,48.0 L294.6,47.7 L294.9,51.8 L295.2,53.3 L295.5,49.4 L295.9,52.5 L296.2,48.9 L296.5,50.5 L296.9,52.0 L297.2,51.7 L297.5,48.2 L297.9,44.7 L298.2,50.3 L298.5,49.0 L298.8,50.4 L299.2,51.4 L299.5,50.6 L299.8,49.3 L300.2,51.3 L300.5,49.7 L300.8,48.2 L301.2,51.0 L301.5,47.5 L301.8,48.0 L302.1,51.6 L302.5,48.8 L302.8,49.6 L303.1,46.7 L303.5,50.0 L303.8,53.7 L304.1,50.0 L304.5,50.0 L304.8,47.3 L305.1,50.7 L305.4,45.6 L305.8,46.6 L306.1,49.0 L306.4,52.9 L306.8,50.3 L307.1,47.6 L307.4,45.1 L307.8,50.5 L308.1,44.6 L308.4,44.8 L308.7,45.2 L309.1,48.1 L309.4,44.9 L309.7,46.4 L310.1,48.6 L310.4,47.2 L310.7,48.7 L311.1,49.6 L311.4,51.0 L311.7,51.7 L312.0,49.7 L312.4,48.2 L312.7,47.7 L313.0,53.1 L313.4,47.9 L313.7,47.5 L314.0,46.2 L314.4,51.3 L314.7,49.0 L315.0,46.2 L315.3,43.5 L315.7,46.0 L316.0,47.0 L316.3,47.6 L316.7,45.3 L317.0,46.7 L317.3,48.7 L317.7,50.4 L318.0,49.2 L318.3,48.5 L318.6,52.1 L319.0,49.5 L319.3,49.2 L319.6,44.6" stroke="#5b5daf"/>
<path d="M160.9,71.2 L161.2,69.6 L161.6,66.4 L161.9,68.9 L162.2,64.9 L162.6,69.9 L162.9,65.3 L163.2,69.4 L163.5,68.4 L163.9,71.1 L164.2,63.9 L164.5,67.7 L164.9,70.0 L165.2,69.7 L165.5,65.2 L165.9,70.6 L166.2,66.9 L166.5,68.4 L166.8,66.9 L167.2,66.7 L167.5,66.7 L167.8,64.8 L168.2,66.5 L168.5,70.7 L168.8,65.7 L169.2,70.1 L169.5,69.5 L169.8,68.4 L170.1,67.7 L170.5,67.7 L170.8,67.4 L171.1,69.3 L171.5,67.6 L171.8,71.0 L172.1,64.0 L172.5,66.8 L172.8,66.1 L173.1,69.1 L173.4,66.8 L173.8,71.3 L174.1,70.6 L174.4,67.5 L174.8,65.7 L175.1,69.4 L175.4,66.1 L175.8,66.7 L176.1,70.8 L176.4,72.1 L176.7,72.6 L177.1,67.3 L177.4,68.4 L177.7,66.9 L178.1,66.8 L178.4,66.9 L178.7,71.8 L179.1,70.4 L179.4,68.9 L179.7,66.0 L180.0,68.0 L180.4,69.6 L180.7,68.2 L181.0,67.2 L181.4,67.4 L181.7,67.2 L182.0,66.9 L182.4,67.3 L182.7,65.8 L183.0,69.2 L183.3,65.9 L183.7,70.2 L184.0,71.2 L184.3,71.2 L184.7,68.2 L185.0,69.3 L185.3,71.6 L185.7,67.8 L186.0,68.5 L186.3,69.4 L186.6,67.0 L187.0,69.6 L187.3,65.9 L187.6,70.3 L188.0,65.9 L188.3,68.9 L188.6,70.8 L189.0,69.8 L189.3,67.6 L189.6,68.2 L189.9,70.1 L190.3,69.8 L190.6,65.9 L190.9,67.9 L191.3,68.3 L191.6,74.3 L191.9,67.3 L192.3,68.7 L192.6,70.3 L192.9,69.1 L193.2,68.8 L193.6,68.6 L193.9,71.0 L194.2,69.6 L194.6,67.4 L194.9,67.8 L195.2,69.8 L195.6,68.0 L195.9,69.0 L196.2,71.9 L196.5,71.5 L196.9,70.8 L197.2,71.9 L197.5,69.4 L197.9,70.4 L198.2,71.1 L198.5,72.0 L198.9,69.5 L199.2,65.3 L199.5,67.4 L199.8,69.0 L200.2,69.1 L200.5,68.5 L200.8,70.5 L201.2,70.1 L201.5,71.5 L201.8,69.7 L202.2,70.2 L202.5,71.3 L202.8,71.3 L203.1,67.8 L203.5,68.1 L203.8,71.2 L204.1,71.0 L204.5,68.8 L204.8,70.1 L205.1,69.9 L205.5,69.4 L205.8,70.0 L206.1,70.2 L206.4,67.9 L206.8,72.0 L207.1,68.4 L207.4,68.0 L207.8,70.2 L208.1,67.9 L208.4,70.3 L208.8,68.8 L209.1,71.9 L209.4,69.9 L209.7,70.0 L210.1,69.8 L210.4,69.1 L210.7,69.4 L211.1,73.0 L211.4,73.2 L211.7,69.4 L212.1,72.5 L212.4,72.3 L212.7,73.4 L213.0,70.3 L213.4,73.7 L213.7,72.7 L214.0,72.9 L214.4,72.0 L214.7,77.2 L215.0,71.1 L215.4,70.6 L215.7,73.9 L216.0,73.4 L216.3,76.1 L216.7,74.0 L217.0,71.4 L217.3,72.4 L217.7,74.8 L218.0,76.7 L218.3,74.6 L218.7,75.4 L219.0,78.2 L219.3,75.3 L219.6,71.9 L220.0,76.4 L220.3,76.6 L220.6,76.1 L221.0,79.2 L221.3,78.3 L221.6,74.1 L222.0,76.3 L222.3,76.5 L222.6,79.3 L222.9,79.5 L223.3,78.4 L223.6,79.2 L223.9,77.2 L224.3,79.5 L224.6,79.2 L224.9,78.2 L225.3,80.7 L225.6,79.6 L225.9,81.7 L226.2,81.3 L226.6,80.7 L226.9,82.3 L227.2,81.7 L227.6,83.6 L227.9,82.4 L228.2,84.3 L228.6,83.7 L228.9,82.1 L229.2,82.6 L229.5,83.4 L229.9,85.2 L230.2,84.0 L230.5,84.6 L230.9,84.3 L231.2,86.6 L231.5,85.7 L231.9,85.8 L232.2,84.8 L232.5,89.2 L232.8,88.7 L233.2,89.5 L233.5,90.0 L233.8,89.1 L234.2,90.3 L234.5,90.3 L234.8,90.2 L235.2,90.8 L235.5,90.3 L235.8,90.8 L236.1,87.5 L236.5,91.1 L236.8,90.4 L237.1,90.5 L237.5,90.2 L237.8,91.5 L238.1,92.8 L238.5,93.0 L238.8,91.9 L239.1,92.7 L239.4,94.6 L239.8,93.8 L240.1,94.6 L240.4,96.4 L240.8,96.6 L241.1,95.2 L241.4,94.5 L241.8,96.8 L242.1,97.9 L242.4,99.4 L242.7,99.8 L243.1,99.9 L243.4,100.0 L243.7,100.6 L244.1,101.1 L244.4,101.3 L244.7,102.6 L245.1,105.2 L245.4,104.3 L245.7,105.0 L246.0,104.5 L246.4,105.0 L246.7,107.3 L247.0,107.9 L247.4,108.9 L247.7,109.6 L248.0,110.0 L248.4,110.9 L248.7,111.5 L249.0,112.5 L249.3,113.6 L249.7,113.5 L250.0,115.1 L250.3,115.6 L250.7,116.4 L251.0,117.7 L251.3,118.1 L251.7,119.3 L252.0,119.8 L252.3,120.5 L252.6,122.0 L253.0,122.6 L253.3,123.4 L253.6,123.8 L254.0,125.1 L254.3,125.8 L254.6,126.3 L255.0,126.9 L255.3,128.2 L255.6,129.4 L255.9,129.8 L256.3,130.1 L256.6,131.4 L256.9,132.2 L257.3,133.0 L257.6,134.1 L257.9,135.0 L258.3,135.2 L258.6,136.3 L258.9,136.7 L259.2,137.2 L259.6,138.2 L259.9,138.0 L260.2,138.6 L260.6,138.3 L260.9,138.2 L261.2,138.1 L261.6,137.7 L261.9,137.1 L262.2,136.7 L262.5,136.0 L262.9,135.8 L263.2,135.1 L263.5,134.9 L263.9,133.3 L264.2,132.5 L264.5,132.1 L264.9,130.5 L265.2,129.5 L265.5,128.9 L265.8,127.2 L266.2,126.2 L266.5,125.3 L266.8,124.2 L267.2,122.8 L267.5,121.9 L267.8,120.1 L268.2,119.2 L268.5,118.6 L268.8,117.2 L269.1,116.3 L269.5,115.8 L269.8,114.3 L270.1,114.0 L270.5,112.6 L270.8,112.6 L271.1,110.7 L271.5,108.8 L271.8,107.9 L272.1,108.0 L272.4,106.4 L272.8,106.1 L273.1,104.6 L273.4,104.3 L273.8,101.9 L274.1,101.5 L274.4,102.2 L274.8,99.8 L275.1,98.3 L275.4,97.9 L275.7,95.4 L276.1,93.8 L276.4,93.4 L276.7,91.6 L277.1,92.1 L277.4,91.4 L277.7,87.9 L278.1,89.5 L278.4,89.8 L278.7,86.6 L279.0,89.9 L279.4,86.4 L279.7,87.3 L280.0,83.7 L280.4,83.7 L280.7,84.1 L281.0,82.9 L281.4,81.3 L281.7,78.7 L282.0,82.7 L282.3,80.7 L282.7,81.6 L283.0,80.1 L283.3,78.1 L283.7,78.4 L284.0,77.7 L284.3,74.6 L284.7,78.3 L285.0,76.6 L285.3,75.8 L285.6,76.6 L286.0,74.1 L286.3,73.1 L286.6,73.5 L287.0,75.3 L287.3,70.5 L287.6,75.7 L288.0,73.1 L288.3,73.1 L288.6,71.6 L288.9,68.6 L289.3,72.0 L289.6,71.2 L289.9,75.2 L290.3,69.4 L290.6,71.5 L290.9,68.5 L291.3,69.6 L291.6,70.8 L291.9,70.0 L292.2,64.4 L292.6,69.8 L292.9,67.1 L293.2,65.9 L293.6,66.7 L293.9,68.6 L294.2,65.9 L294.6,66.3 L294.9,63.6 L295.2,64.5 L295.5,65.9 L295.9,65.3 L296.2,66.4 L296.5,66.3 L296.9,61.6 L297.2,67.0 L297.5,62.3 L297.9,61.7 L298.2,63.1 L298.5,62.6 L298.8,62.6 L299.2,63.6 L299.5,60.5 L299.8,64.0 L300.2,66.3 L300.5,62.7 L300.8,61.3 L301.2,63.2 L301.5,61.8 L301.8,64.1 L302.1,62.9 L302.5,61.4 L302.8,62.8 L303.1,62.4 L303.5,60.9 L303.8,61.7 L304.1,62.6 L304.5,62.8 L304.8,61.4 L305.1,59.0 L305.4,62.5 L305.8,58.7 L306.1,61.1 L306.4,59.6 L306.8,59.6 L307.1,63.1 L307.4,59.1 L307.8,58.7 L308.1,59.5 L308.4,58.5 L308.7,59.1 L309.1,62.8 L309.4,59.0 L309.7,62.4 L310.1,59.6 L310.4,56.1 L310.7,60.0 L311.1,59.9 L311.4,55.7 L311.7,57.4 L312.0,59.0 L312.4,57.6 L312.7,55.6 L313.0,55.5 L313.4,62.1 L313.7,55.0 L314.0,56.1 L314.4,58.0 L314.7,56.4 L315.0,60.8 L315.3,56.7 L315.7,59.5 L316.0,54.5 L316.3,52.6 L316.7,56.4 L317.0,56.7 L317.3,55.5 L317.7,54.6 L318.0,57.3 L318.3,55.4 L318.6,52.8 L319.0,56.2 L319.3,54.5 L319.6,53.1" stroke="#4a78c8"/>
<path d="M160.9,68.5 L161.2,71.5 L161.6,72.6 L161.9,69.2 L162.2,68.3 L162.6,70.1 L162.9,70.8 L163.2,64.6 L163.5,70.9 L163.9,68.5 L164.2,69.1 L164.5,66.9 L164.9,67.9 L165.2,65.7 L165.5,67.5 L165.9,66.9 L166.2,68.7 L166.5,68.0 L166.8,67.7 L167.2,72.7 L167.5,69.9 L167.8,65.8 L168.2,69.7 L168.5,70.0 L168.8,65.4 L169.2,70.5 L169.5,71.3 L169.8,69.6 L170.1,63.7 L170.5,64.1 L170.8,69.2 L171.1,71.0 L171.5,69.5 L171.8,67.4 L172.1,69.9 L172.5,71.2 L172.8,69.3 L173.1,65.8 L173.4,68.9 L173.8,69.2 L174.1,67.6 L174.4,68.7 L174.8,69.3 L175.1,68.2 L175.4,67.9 L175.8,71.0 L176.1,65.1 L176.4,71.1 L176.7,69.5 L177.1,68.6 L177.4,70.3 L177.7,68.3 L178.1,65.1 L178.4,63.2 L178.7,66.8 L179.1,62.1 L179.4,73.4 L179.7,74.3 L180.0,69.5 L180.4,62.2 L180.7,68.0 L181.0,64.3 L181.4,66.4 L181.7,68.6 L182.0,66.6 L182.4,68.1 L182.7,66.5 L183.0,69.9 L183.3,67.9 L183.7,64.8 L184.0,64.4 L184.3,67.0 L184.7,64.3 L185.0,67.8 L185.3,69.5 L185.7,68.2 L186.0,61.1 L186.3,70.9 L186.6,68.2 L187.0,67.5 L187.3,67.1 L187.6,71.5 L188.0,69.1 L188.3,66.3 L188.6,65.4 L189.0,68.0 L189.3,67.4 L189.6,67.9 L189.9,66.3 L190.3,68.8 L190.6,65.8 L190.9,67.1 L191.3,68.6 L191.6,69.2 L191.9,67.2 L192.3,69.4 L192.6,65.9 L192.9,69.6 L193.2,67.8 L193.6,69.5 L193.9,67.0 L194.2,66.8 L194.6,66.7 L194.9,67.8 L195.2,67.8 L195.6,71.4 L195.9,66.7 L196.2,68.0 L196.5,72.4 L196.9,67.2 L197.2,71.2 L197.5,66.6 L197.9,68.4 L198.2,66.3 L198.5,67.3 L198.9,64.1 L199.2,65.6 L199.5,70.3 L199.8,67.4 L200.2,70.1 L200.5,65.5 L200.8,68.6 L201.2,66.8 L201.5,68.0 L201.8,69.1 L202.2,66.7 L202.5,66.2 L202.8,66.4 L203.1,65.3 L203.5,66.8 L203.8,66.4 L204.1,66.3 L204.5,67.2 L204.8,64.7 L205.1,67.4 L205.5,68.1 L205.8,67.7 L206.1,64.7 L206.4,64.1 L206.8,68.7 L207.1,66.7 L207.4,69.5 L207.8,67.0 L208.1,67.2 L208.4,63.7 L208.8,71.9 L209.1,66.2 L209.4,69.2 L209.7,68.4 L210.1,68.1 L210.4,69.0 L210.7,67.4 L211.1,69.0 L211.4,68.4 L211.7,64.3 L212.1,69.6 L212.4,65.2 L212.7,69.0 L213.0,68.6 L213.4,67.5 L213.7,66.6 L214.0,65.7 L214.4,68.1 L214.7,65.4 L215.0,69.5 L215.4,66.8 L215.7,67.4 L216.0,71.0 L216.3,67.9 L216.7,67.2 L217.0,68.7 L217.3,70.3 L217.7,71.7 L218.0,67.8 L218.3,69.0 L218.7,70.5 L219.0,69.8 L219.3,69.6 L219.6,66.8 L220.0,66.3 L220.3,68.9 L220.6,71.7 L221.0,66.5 L221.3,71.4 L221.6,68.8 L222.0,66.7 L222.3,71.6 L222.6,68.5 L222.9,69.6 L223.3,66.2 L223.6,67.3 L223.9,66.7 L224.3,74.0 L224.6,69.5 L224.9,73.6 L225.3,69.0 L225.6,69.5 L225.9,73.4 L226.2,72.6 L226.6,72.1 L226.9,72.9 L227.2,72.5 L227.6,72.2 L227.9,70.9 L228.2,71.7 L228.6,72.3 L228.9,72.5 L229.2,74.4 L229.5,71.8 L229.9,72.7 L230.2,73.3 L230.5,73.2 L230.9,77.9 L231.2,74.1 L231.5,76.4 L231.9,75.6 L232.2,80.5 L232.5,76.9 L232.8,74.6 L233.2,75.4 L233.5,76.7 L233.8,78.5 L234.2,76.1 L234.5,77.0 L234.8,77.5 L235.2,81.0 L235.5,79.6 L235.8,80.0 L236.1,75.6 L236.5,78.8 L236.8,78.6 L237.1,79.9 L237.5,78.5 L237.8,81.5 L238.1,81.6 L238.5,81.9 L238.8,82.2 L239.1,83.6 L239.4,79.7 L239.8,80.4 L240.1,81.3 L240.4,84.5 L240.8,83.0 L241.1,81.5 L241.4,85.3 L241.8,84.1 L242.1,85.5 L242.4,82.9 L242.7,85.2 L243.1,85.5 L243.4,83.8 L243.7,84.7 L244.1,83.4 L244.4,85.8 L244.7,85.0 L245.1,87.0 L245.4,87.1 L245.7,87.3 L246.0,88.5 L246.4,88.6 L246.7,89.3 L247.0,88.1 L247.4,89.2 L247.7,90.2 L248.0,88.4 L248.4,91.1 L248.7,89.4 L249.0,89.3 L249.3,90.9 L249.7,89.4 L250.0,91.5 L250.3,91.2 L250.7,94.5 L251.0,92.9 L251.3,92.3 L251.7,93.4 L252.0,93.4 L252.3,94.2 L252.6,95.4 L253.0,96.7 L253.3,95.2 L253.6,94.9 L254.0,96.6 L254.3,97.1 L254.6,98.2 L255.0,97.6 L255.3,99.6 L255.6,99.6 L255.9,101.4 L256.3,100.6 L256.6,100.7 L256.9,102.1 L257.3,101.5 L257.6,103.6 L257.9,103.8 L258.3,104.0 L258.6,106.8 L258.9,106.4 L259.2,106.6 L259.6,108.1 L259.9,110.4 L260.2,109.7 L260.6,111.2 L260.9,112.1 L261.2,113.3 L261.6,114.2 L261.9,114.4 L262.2,115.5 L262.5,116.7 L262.9,117.1 L263.2,118.1 L263.5,119.7 L263.9,120.6 L264.2,121.1 L264.5,122.1 L264.9,122.9 L265.2,124.5 L265.5,125.1 L265.8,126.1 L266.2,127.1 L266.5,128.5 L266.8,129.3 L267.2,130.2 L267.5,131.4 L267.8,133.0 L268.2,133.9 L268.5,135.2 L268.8,137.1 L269.1,138.6 L269.5,139.9 L269.8,141.1 L270.1,142.3 L270.5,144.0 L270.8,144.6 L271.1,145.8 L271.5,146.2 L271.8,146.4 L272.1,146.3 L272.4,145.5 L272.8,145.4 L273.1,145.1 L273.4,144.4 L273.8,143.2 L274.1,143.2 L274.4,142.2 L274.8,140.7 L275.1,139.3 L275.4,138.5 L275.7,137.8 L276.1,136.2 L276.4,134.7 L276.7,134.0 L277.1,132.6 L277.4,131.0 L277.7,129.4 L278.1,128.6 L278.4,127.1 L278.7,125.7 L279.0,125.1 L279.4,124.0 L279.7,123.2 L280.0,122.0 L280.4,120.8 L280.7,120.0 L281.0,118.5 L281.4,118.2 L281.7,116.9 L282.0,115.8 L282.3,114.5 L282.7,113.3 L283.0,112.4 L283.3,111.7 L283.7,111.1 L284.0,110.4 L284.3,109.0 L284.7,108.6 L285.0,106.5 L285.3,106.2 L285.6,104.8 L286.0,105.0 L286.3,102.8 L286.6,102.3 L287.0,102.5 L287.3,101.7 L287.6,98.7 L288.0,98.5 L288.3,97.9 L288.6,97.5 L288.9,96.7 L289.3,94.3 L289.6,94.8 L289.9,93.7 L290.3,92.3 L290.6,90.8 L290.9,89.1 L291.3,86.3 L291.6,89.0 L291.9,87.3 L292.2,88.2 L292.6,85.7 L292.9,86.7 L293.2,86.3 L293.6,86.5 L293.9,84.5 L294.2,84.8 L294.6,84.8 L294.9,81.8 L295.2,84.9 L295.5,81.2 L295.9,79.7 L296.2,81.7 L296.5,78.1 L296.9,79.4 L297.2,79.9 L297.5,75.3 L297.9,81.0 L298.2,77.8 L298.5,78.0 L298.8,75.8 L299.2,77.7 L299.5,74.0 L299.8,77.0 L300.2,74.3 L300.5,75.0 L300.8,72.6 L301.2,76.5 L301.5,68.4 L301.8,72.4 L302.1,72.0 L302.5,68.5 L302.8,71.3 L303.1,72.4 L303.5,69.7 L303.8,68.7 L304.1,69.7 L304.5,68.2 L304.8,68.6 L305.1,68.1 L305.4,68.8 L305.8,68.7 L306.1,68.0 L306.4,68.0 L306.8,62.9 L307.1,65.6 L307.4,64.3 L307.8,65.3 L308.1,64.4 L308.4,64.4 L308.7,63.3 L309.1,66.0 L309.4,63.4 L309.7,67.0 L310.1,63.2 L310.4,62.0 L310.7,60.7 L311.1,63.0 L311.4,64.6 L311.7,60.3 L312.0,63.2 L312.4,62.7 L312.7,57.3 L313.0,60.6 L313.4,59.8 L313.7,60.4 L314.0,62.3 L314.4,61.5 L314.7,59.5 L315.0,60.0 L315.3,61.0 L315.7,60.9 L316.0,59.0 L316.3,57.4 L316.7,58.5 L317.0,59.7 L317.3,55.8 L317.7,58.1 L318.0,56.9 L318.3,56.5 L318.6,59.8 L319.0,57.4 L319.3,56.6 L319.6,56.3" stroke="#5aaae6"/>
</g>
<path d="M160.3,31.3 L320.1,31.3 L320.1,172.5 L160.3,172.5 Z" fill="none" stroke="#111" stroke-width="1.3"/>
<line x1="160.30" y1="172.50" x2="162.70" y2="172.50" stroke="#111" stroke-width="1" />
<text x="140.18" y="176.10" font-size="10.2" font-weight="bold" fill="#000" textLength="14.64" lengthAdjust="spacingAndGlyphs" >0.0</text>
<line x1="160.30" y1="144.26" x2="162.70" y2="144.26" stroke="#111" stroke-width="1" />
<text x="140.18" y="147.86" font-size="10.2" font-weight="bold" fill="#000" textLength="14.64" lengthAdjust="spacingAndGlyphs" >0.2</text>
<line x1="160.30" y1="116.02" x2="162.70" y2="116.02" stroke="#111" stroke-width="1" />
<text x="140.19" y="119.62" font-size="10.2" font-weight="bold" fill="#000" textLength="14.26" lengthAdjust="spacingAndGlyphs" >0.4</text>
<line x1="160.30" y1="87.78" x2="162.70" y2="87.78" stroke="#111" stroke-width="1" />
<text x="140.18" y="91.38" font-size="10.2" font-weight="bold" fill="#000" textLength="14.59" lengthAdjust="spacingAndGlyphs" >0.6</text>
<line x1="160.30" y1="59.54" x2="162.70" y2="59.54" stroke="#111" stroke-width="1" />
<text x="140.18" y="63.14" font-size="10.2" font-weight="bold" fill="#000" textLength="14.53" lengthAdjust="spacingAndGlyphs" >0.8</text>
<line x1="160.30" y1="31.30" x2="162.70" y2="31.30" stroke="#111" stroke-width="1" />
<text x="139.90" y="34.90" font-size="10.2" font-weight="bold" fill="#000" textLength="14.93" lengthAdjust="spacingAndGlyphs" >1.0</text>
<line x1="160.30" y1="172.50" x2="160.30" y2="170.30" stroke="#111" stroke-width="1" />
<line x1="180.30" y1="172.50" x2="180.30" y2="170.30" stroke="#111" stroke-width="1" />
<line x1="200.30" y1="172.50" x2="200.30" y2="170.30" stroke="#111" stroke-width="1" />
<line x1="220.30" y1="172.50" x2="220.30" y2="170.30" stroke="#111" stroke-width="1" />
<line x1="240.30" y1="172.50" x2="240.30" y2="170.30" stroke="#111" stroke-width="1" />
<line x1="260.30" y1="172.50" x2="260.30" y2="170.30" stroke="#111" stroke-width="1" />
<line x1="280.30" y1="172.50" x2="280.30" y2="170.30" stroke="#111" stroke-width="1" />
<line x1="300.30" y1="172.50" x2="300.30" y2="170.30" stroke="#111" stroke-width="1" />
<line x1="320.30" y1="172.50" x2="320.30" y2="170.30" stroke="#111" stroke-width="1" />
<text x="151.53" y="186.30" font-size="9.8" font-weight="bold" fill="#000" textLength="17.58" lengthAdjust="spacingAndGlyphs" >770</text>
<text x="231.21" y="186.30" font-size="9.8" font-weight="bold" fill="#000" textLength="18.21" lengthAdjust="spacingAndGlyphs" >780</text>
<text x="310.91" y="186.30" font-size="9.8" font-weight="bold" fill="#000" textLength="18.32" lengthAdjust="spacingAndGlyphs" >790</text>
<text x="196.70" y="203.90" font-size="9.8" font-weight="bold" fill="#000" textLength="93.40" lengthAdjust="spacingAndGlyphs" >Wavelength <tspan font-style="italic">λ</tspan> (nm)</text>
<text x="0" y="0" font-size="10.0" font-weight="bold" fill="#000" textLength="56.90" lengthAdjust="spacingAndGlyphs" transform="translate(133.60,137.16) rotate(-90)" >Reflectance</text>
<line x1="192.70" y1="168.60" x2="242.00" y2="168.60" stroke="#000" stroke-width="1.2" />
<path d="M247.2,168.6 L240.8,166.2 L240.8,171.0 Z" fill="#000"/>
<text x="266.85" y="164.00" font-size="8.8" font-weight="bold" fill="#000" textLength="29.41" lengthAdjust="spacingAndGlyphs" >Mode 1</text>
<defs>
<linearGradient id="topg" x1="0" y1="0" x2="1" y2="1">
<stop offset="0" stop-color="#cfcfcf"/><stop offset="0.5" stop-color="#b9b9b9"/><stop offset="1" stop-color="#a4a4a4"/>
</linearGradient>
<linearGradient id="legg" x1="0" y1="0" x2="1" y2="0">
<stop offset="0" stop-color="#b4b4b4"/><stop offset="0.6" stop-color="#a0a0a0"/><stop offset="1" stop-color="#7e7e7e"/>
</linearGradient>
</defs>
<path d="M349.0,108 L365,112 L365,119 L358.6,121.9 L349.0,119.5 Z" fill="url(#legg)"/>
<path d="M349.0,108 L358.6,110.5 L358.6,121.9 L349.0,119.5 Z" fill="#b9b9b9"/>
<path d="M417.7,128 L430.5,131.5 L430.5,142 L424.5,145.1 L417.7,143.5 Z" fill="#a2a2a2"/>
<path d="M424.5,130 L430.5,131.5 L430.5,142 L424.5,145.1 Z" fill="#8a8a8a"/>
<path d="M348.2,106.8 L432,131.5 L432,134.5 L348.2,109.6 Z" fill="#8c8c8c"/>
<path d="M348.2,106.8 L432,131.5 L432,133.4 L348.2,108.7 Z" fill="#4f9a45"/>
<path d="M373,81.2 L436,94 L432,131.5 L348.2,106.8 Z" fill="url(#topg)"/>
<ellipse cx="387.07" cy="88.52" rx="1.47" ry="0.79" fill="#5fa24a"/>
<ellipse cx="387.07" cy="88.95" rx="0.91" ry="0.33" fill="#f2f2f2"/>
<ellipse cx="392.87" cy="89.81" rx="1.52" ry="0.81" fill="#5fa24a"/>
<ellipse cx="392.87" cy="90.26" rx="0.94" ry="0.34" fill="#f2f2f2"/>
<ellipse cx="398.67" cy="91.11" rx="1.56" ry="0.84" fill="#5fa24a"/>
<ellipse cx="398.67" cy="91.57" rx="0.97" ry="0.35" fill="#f2f2f2"/>
<ellipse cx="404.47" cy="92.40" rx="1.60" ry="0.87" fill="#5fa24a"/>
<ellipse cx="404.47" cy="92.88" rx="0.99" ry="0.36" fill="#f2f2f2"/>
<ellipse cx="410.27" cy="93.70" rx="1.64" ry="0.89" fill="#5fa24a"/>
<ellipse cx="410.27" cy="94.19" rx="1.02" ry="0.37" fill="#f2f2f2"/>
<ellipse cx="388.02" cy="91.59" rx="1.60" ry="0.86" fill="#5fa24a"/>
<ellipse cx="388.02" cy="92.06" rx="0.99" ry="0.36" fill="#f2f2f2"/>
<ellipse cx="393.97" cy="92.98" rx="1.64" ry="0.89" fill="#5fa24a"/>
<ellipse cx="393.97" cy="93.47" rx="1.02" ry="0.37" fill="#f2f2f2"/>
<ellipse cx="399.91" cy="94.37" rx="1.68" ry="0.92" fill="#5fa24a"/>
<ellipse cx="399.91" cy="94.87" rx="1.04" ry="0.38" fill="#f2f2f2"/>
<ellipse cx="405.86" cy="95.76" rx="1.72" ry="0.94" fill="#5fa24a"/>
<ellipse cx="405.86" cy="96.28" rx="1.07" ry="0.40" fill="#f2f2f2"/>
<ellipse cx="411.80" cy="97.15" rx="1.77" ry="0.97" fill="#5fa24a"/>
<ellipse cx="411.80" cy="97.68" rx="1.10" ry="0.41" fill="#f2f2f2"/>
<ellipse cx="383.23" cy="93.98" rx="1.72" ry="0.94" fill="#5fa24a"/>
<ellipse cx="383.23" cy="94.50" rx="1.07" ry="0.39" fill="#f2f2f2"/>
<ellipse cx="389.27" cy="95.42" rx="1.76" ry="0.96" fill="#5fa24a"/>
<ellipse cx="389.27" cy="95.95" rx="1.09" ry="0.40" fill="#f2f2f2"/>
<ellipse cx="395.31" cy="96.86" rx="1.80" ry="0.99" fill="#5fa24a"/>
<ellipse cx="395.31" cy="97.41" rx="1.12" ry="0.42" fill="#f2f2f2"/>
<ellipse cx="401.35" cy="98.30" rx="1.85" ry="1.02" fill="#5fa24a"/>
<ellipse cx="401.35" cy="98.86" rx="1.14" ry="0.43" fill="#f2f2f2"/>
<ellipse cx="407.39" cy="99.74" rx="1.89" ry="1.04" fill="#5fa24a"/>
<ellipse cx="407.39" cy="100.31" rx="1.17" ry="0.44" fill="#f2f2f2"/>
<ellipse cx="383.90" cy="97.63" rx="1.84" ry="1.01" fill="#5fa24a"/>
<ellipse cx="383.90" cy="98.18" rx="1.14" ry="0.43" fill="#f2f2f2"/>
<ellipse cx="390.23" cy="99.21" rx="1.88" ry="1.04" fill="#5fa24a"/>
<ellipse cx="390.23" cy="99.78" rx="1.17" ry="0.44" fill="#f2f2f2"/>
<ellipse cx="396.56" cy="100.79" rx="1.92" ry="1.06" fill="#5fa24a"/>
<ellipse cx="396.56" cy="101.38" rx="1.19" ry="0.45" fill="#f2f2f2"/>
<ellipse cx="402.89" cy="102.37" rx="1.97" ry="1.09" fill="#5fa24a"/>
<ellipse cx="402.89" cy="102.97" rx="1.22" ry="0.46" fill="#f2f2f2"/>
<ellipse cx="409.21" cy="103.96" rx="2.01" ry="1.12" fill="#5fa24a"/>
<ellipse cx="409.21" cy="104.57" rx="1.25" ry="0.47" fill="#f2f2f2"/>
<ellipse cx="378.44" cy="100.02" rx="1.96" ry="1.09" fill="#5fa24a"/>
<ellipse cx="378.44" cy="100.62" rx="1.22" ry="0.46" fill="#f2f2f2"/>
<ellipse cx="384.86" cy="101.70" rx="2.00" ry="1.11" fill="#5fa24a"/>
<ellipse cx="384.86" cy="102.32" rx="1.24" ry="0.47" fill="#f2f2f2"/>
<ellipse cx="391.28" cy="103.38" rx="2.05" ry="1.14" fill="#5fa24a"/>
<ellipse cx="391.28" cy="104.01" rx="1.27" ry="0.48" fill="#f2f2f2"/>
<ellipse cx="397.71" cy="105.06" rx="2.09" ry="1.17" fill="#5fa24a"/>
<ellipse cx="397.71" cy="105.70" rx="1.29" ry="0.49" fill="#f2f2f2"/>
<ellipse cx="404.13" cy="106.74" rx="2.13" ry="1.19" fill="#5fa24a"/>
<ellipse cx="404.13" cy="107.39" rx="1.32" ry="0.50" fill="#f2f2f2"/>
<ellipse cx="379.11" cy="104.53" rx="2.08" ry="1.16" fill="#5fa24a"/>
<ellipse cx="379.11" cy="105.17" rx="1.29" ry="0.49" fill="#f2f2f2"/>
<ellipse cx="385.82" cy="106.45" rx="2.12" ry="1.19" fill="#5fa24a"/>
<ellipse cx="385.82" cy="107.10" rx="1.32" ry="0.50" fill="#f2f2f2"/>
<ellipse cx="392.53" cy="108.37" rx="2.17" ry="1.22" fill="#5fa24a"/>
<ellipse cx="392.53" cy="109.03" rx="1.34" ry="0.51" fill="#f2f2f2"/>
<ellipse cx="399.24" cy="110.28" rx="2.21" ry="1.24" fill="#5fa24a"/>
<ellipse cx="399.24" cy="110.97" rx="1.37" ry="0.52" fill="#f2f2f2"/>
<ellipse cx="405.95" cy="112.20" rx="2.25" ry="1.27" fill="#5fa24a"/>
<ellipse cx="405.95" cy="112.90" rx="1.40" ry="0.53" fill="#f2f2f2"/>
<ellipse cx="372.88" cy="107.70" rx="2.20" ry="1.24" fill="#5fa24a"/>
<ellipse cx="372.88" cy="108.38" rx="1.37" ry="0.52" fill="#f2f2f2"/>
<ellipse cx="379.59" cy="109.61" rx="2.25" ry="1.26" fill="#5fa24a"/>
<ellipse cx="379.59" cy="110.31" rx="1.39" ry="0.53" fill="#f2f2f2"/>
<ellipse cx="386.30" cy="111.53" rx="2.29" ry="1.29" fill="#5fa24a"/>
<ellipse cx="386.30" cy="112.24" rx="1.42" ry="0.54" fill="#f2f2f2"/>
<ellipse cx="393.01" cy="113.45" rx="2.33" ry="1.32" fill="#5fa24a"/>
<ellipse cx="393.01" cy="114.17" rx="1.45" ry="0.55" fill="#f2f2f2"/>
<ellipse cx="399.72" cy="115.37" rx="2.37" ry="1.34" fill="#5fa24a"/>
<ellipse cx="399.72" cy="116.10" rx="1.47" ry="0.56" fill="#f2f2f2"/>
<ellipse cx="372.88" cy="113.16" rx="2.33" ry="1.31" fill="#5fa24a"/>
<ellipse cx="372.88" cy="113.88" rx="1.44" ry="0.55" fill="#f2f2f2"/>
<ellipse cx="380.26" cy="115.27" rx="2.37" ry="1.34" fill="#5fa24a"/>
<ellipse cx="380.26" cy="116.01" rx="1.47" ry="0.56" fill="#f2f2f2"/>
<ellipse cx="387.64" cy="117.38" rx="2.41" ry="1.37" fill="#5fa24a"/>
<ellipse cx="387.64" cy="118.13" rx="1.49" ry="0.57" fill="#f2f2f2"/>
<ellipse cx="395.02" cy="119.49" rx="2.45" ry="1.39" fill="#5fa24a"/>
<ellipse cx="395.02" cy="120.25" rx="1.52" ry="0.58" fill="#f2f2f2"/>
<ellipse cx="402.41" cy="121.60" rx="2.50" ry="1.42" fill="#5fa24a"/>
<ellipse cx="402.41" cy="122.38" rx="1.55" ry="0.60" fill="#f2f2f2"/>
<path d="M362.6,90.5 L372.5,93.2 L369.8,98.4 L359.4,95.6 Z" fill="#f0a832"/>
<ellipse cx="364.6" cy="94.1" rx="1.3" ry="0.9" fill="#fff" opacity="0.9"/>
<path d="M421.7,105.2 L433.7,107.6 L432.9,116.3 L420.1,113.5 Z" fill="#f0a832"/>
<ellipse cx="428.9" cy="110.7" rx="1.7" ry="1.1" fill="#fff" opacity="0.9"/>
<path d="M347.9,89.6 L362.8,93.4" stroke="#e8a030" stroke-width="1.3"/>
<path d="M347.9,89.6 L362.8,93.4" stroke="#6a4a20" stroke-width="1.3" stroke-dasharray="1.2,1.6" opacity="0.6"/>
<path d="M432.9,111.8 L443.3,114" stroke="#e8a030" stroke-width="1.3"/>
<path d="M432.1,94.2 L436,94.9 L435.7,98.5 L431.9,97.8 Z" fill="#111"/>
<line x1="484.70" y1="46.30" x2="484.70" y2="178.30" stroke="#8c8c8c" stroke-width="0.9" />
<line x1="481.70" y1="46.30" x2="668.80" y2="46.30" stroke="#a8a8a8" stroke-width="0.9" />
<line x1="668.80" y1="46.30" x2="668.80" y2="178.30" stroke="#c4c4c4" stroke-width="1.0" />
<line x1="484.70" y1="178.30" x2="668.80" y2="178.30" stroke="#c4c4c4" stroke-width="1.3" />
<line x1="481.70" y1="178.30" x2="484.70" y2="178.30" stroke="#999" stroke-width="0.8" />
<text x="471.40" y="181.84" font-size="9.9" font-weight="normal" fill="#1a1a1a" textLength="5.62" lengthAdjust="spacingAndGlyphs" >0</text>
<line x1="482.70" y1="165.10" x2="484.70" y2="165.10" stroke="#999" stroke-width="0.8" />
<line x1="481.70" y1="151.90" x2="484.70" y2="151.90" stroke="#999" stroke-width="0.8" />
<text x="465.17" y="155.44" font-size="9.9" font-weight="normal" fill="#1a1a1a" textLength="11.83" lengthAdjust="spacingAndGlyphs" >20</text>
<line x1="482.70" y1="138.70" x2="484.70" y2="138.70" stroke="#999" stroke-width="0.8" />
<line x1="481.70" y1="125.50" x2="484.70" y2="125.50" stroke="#999" stroke-width="0.8" />
<text x="465.44" y="129.04" font-size="9.9" font-weight="normal" fill="#1a1a1a" textLength="11.55" lengthAdjust="spacingAndGlyphs" >40</text>
<line x1="482.70" y1="112.30" x2="484.70" y2="112.30" stroke="#999" stroke-width="0.8" />
<line x1="481.70" y1="99.10" x2="484.70" y2="99.10" stroke="#999" stroke-width="0.8" />
<text x="465.17" y="102.64" font-size="9.9" font-weight="normal" fill="#1a1a1a" textLength="11.83" lengthAdjust="spacingAndGlyphs" >60</text>
<line x1="482.70" y1="85.90" x2="484.70" y2="85.90" stroke="#999" stroke-width="0.8" />
<line x1="481.70" y1="72.70" x2="484.70" y2="72.70" stroke="#999" stroke-width="0.8" />
<text x="465.22" y="76.24" font-size="9.9" font-weight="normal" fill="#1a1a1a" textLength="11.77" lengthAdjust="spacingAndGlyphs" >80</text>
<line x1="482.70" y1="59.50" x2="484.70" y2="59.50" stroke="#999" stroke-width="0.8" />
<line x1="481.70" y1="46.30" x2="484.70" y2="46.30" stroke="#999" stroke-width="0.8" />
<text x="459.83" y="49.84" font-size="9.9" font-weight="normal" fill="#1a1a1a" textLength="17.17" lengthAdjust="spacingAndGlyphs" >100</text>
<line x1="490.90" y1="178.30" x2="490.90" y2="180.60" stroke="#bdbdbd" stroke-width="0.9" />
<line x1="504.60" y1="178.30" x2="504.60" y2="180.60" stroke="#bdbdbd" stroke-width="0.9" />
<line x1="518.30" y1="178.30" x2="518.30" y2="180.60" stroke="#bdbdbd" stroke-width="0.9" />
<line x1="532.00" y1="178.30" x2="532.00" y2="181.30" stroke="#bdbdbd" stroke-width="0.9" />
<line x1="545.70" y1="178.30" x2="545.70" y2="180.60" stroke="#bdbdbd" stroke-width="0.9" />
<line x1="559.40" y1="178.30" x2="559.40" y2="180.60" stroke="#bdbdbd" stroke-width="0.9" />
<line x1="573.10" y1="178.30" x2="573.10" y2="180.60" stroke="#bdbdbd" stroke-width="0.9" />
<line x1="586.80" y1="178.30" x2="586.80" y2="180.60" stroke="#bdbdbd" stroke-width="0.9" />
<line x1="600.50" y1="178.30" x2="600.50" y2="181.30" stroke="#bdbdbd" stroke-width="0.9" />
<line x1="614.20" y1="178.30" x2="614.20" y2="180.60" stroke="#bdbdbd" stroke-width="0.9" />
<line x1="627.90" y1="178.30" x2="627.90" y2="180.60" stroke="#bdbdbd" stroke-width="0.9" />
<line x1="641.60" y1="178.30" x2="641.60" y2="180.60" stroke="#bdbdbd" stroke-width="0.9" />
<line x1="655.30" y1="178.30" x2="655.30" y2="180.60" stroke="#bdbdbd" stroke-width="0.9" />
<line x1="669.00" y1="178.30" x2="669.00" y2="181.30" stroke="#bdbdbd" stroke-width="0.9" />
<text x="520.43" y="195.44" font-size="9.9" font-weight="normal" fill="#1a1a1a" textLength="22.77" lengthAdjust="spacingAndGlyphs" >1000</text>
<text x="588.93" y="195.44" font-size="9.9" font-weight="normal" fill="#1a1a1a" textLength="22.77" lengthAdjust="spacingAndGlyphs" >1500</text>
<text x="657.69" y="195.44" font-size="9.9" font-weight="normal" fill="#1a1a1a" textLength="22.51" lengthAdjust="spacingAndGlyphs" >2000</text>
<line x1="623.33" y1="46.30" x2="623.33" y2="42.70" stroke="#aaa" stroke-width="0.8" />
<text x="620.49" y="38.24" font-size="9.9" font-weight="normal" fill="#1a1a1a" textLength="6.05" lengthAdjust="spacingAndGlyphs" >6</text>
<line x1="590.71" y1="46.30" x2="590.71" y2="44.40" stroke="#aaa" stroke-width="0.8" />
<line x1="566.25" y1="46.30" x2="566.25" y2="42.70" stroke="#aaa" stroke-width="0.8" />
<text x="563.47" y="38.24" font-size="9.9" font-weight="normal" fill="#1a1a1a" textLength="5.92" lengthAdjust="spacingAndGlyphs" >8</text>
<line x1="547.22" y1="46.30" x2="547.22" y2="44.40" stroke="#aaa" stroke-width="0.8" />
<line x1="532.00" y1="46.30" x2="532.00" y2="42.70" stroke="#aaa" stroke-width="0.8" />
<text x="526.28" y="38.24" font-size="9.9" font-weight="normal" fill="#1a1a1a" textLength="11.46" lengthAdjust="spacingAndGlyphs" >10</text>
<line x1="519.55" y1="46.30" x2="519.55" y2="44.40" stroke="#aaa" stroke-width="0.8" />
<line x1="509.17" y1="46.30" x2="509.17" y2="42.70" stroke="#aaa" stroke-width="0.8" />
<text x="503.43" y="38.24" font-size="9.9" font-weight="normal" fill="#1a1a1a" textLength="11.63" lengthAdjust="spacingAndGlyphs" >12</text>
<line x1="500.38" y1="46.30" x2="500.38" y2="44.40" stroke="#aaa" stroke-width="0.8" />
<line x1="492.86" y1="46.30" x2="492.86" y2="42.70" stroke="#aaa" stroke-width="0.8" />
<text x="487.14" y="38.24" font-size="9.9" font-weight="normal" fill="#1a1a1a" textLength="11.34" lengthAdjust="spacingAndGlyphs" >14</text>
<line x1="486.33" y1="46.30" x2="486.33" y2="44.40" stroke="#aaa" stroke-width="0.8" />
<text x="538.15" y="20.80" font-size="10.0" font-weight="normal" fill="#1a1a1a" textLength="77.78" lengthAdjust="spacingAndGlyphs" >Wavelength (μm)</text>
<text x="531.94" y="211.60" font-size="10.0" font-weight="normal" fill="#1a1a1a" textLength="91.74" lengthAdjust="spacingAndGlyphs" >Wavenumber (cm<tspan dy="-3.8" font-size="7">−1</tspan><tspan dy="3.8">)</tspan></text>
<text x="0" y="0" font-size="10.1" font-weight="normal" fill="#1a1a1a" textLength="113.44" lengthAdjust="spacingAndGlyphs" transform="translate(453.60,168.22) rotate(-90)" >Reflection intensity (a.u.)</text>
<path d="M484.60,178.00 L485.39,177.85 L486.47,177.66 L487.75,177.42 L489.16,177.16 L490.60,176.88 L492.00,176.60 L493.47,176.34 L495.10,176.11 L496.78,175.86 L498.36,175.56 L499.75,175.18 L500.80,174.70 L501.47,174.11 L501.83,173.46 L501.99,172.72 L502.04,171.90 L502.08,171.00 L502.20,170.00 L502.39,168.76 L502.55,167.26 L502.70,165.66 L502.85,164.17 L503.01,162.95 L503.20,162.20 L503.41,162.04 L503.62,162.34 L503.85,162.93 L504.09,163.61 L504.34,164.20 L504.60,164.50 L504.86,164.46 L505.10,164.23 L505.36,163.90 L505.65,163.58 L505.99,163.38 L506.40,163.40 L506.89,163.68 L507.44,164.14 L508.04,164.72 L508.67,165.35 L509.33,165.96 L510.00,166.50 L510.70,167.00 L511.44,167.52 L512.20,168.03 L512.96,168.49 L513.70,168.86 L514.40,169.10 L515.06,169.20 L515.69,169.18 L516.31,169.07 L516.90,168.91 L517.46,168.71 L518.00,168.50 L518.50,168.29 L518.97,168.04 L519.41,167.76 L519.84,167.45 L520.27,167.09 L520.70,166.70 L521.16,166.37 L521.63,166.12 L522.10,165.83 L522.55,165.38 L522.95,164.65 L523.30,163.50 L523.57,161.79 L523.79,159.59 L523.97,157.10 L524.12,154.53 L524.26,152.10 L524.40,150.00 L524.54,148.06 L524.65,146.07 L524.76,144.21 L524.86,142.66 L524.97,141.59 L525.10,141.20 L525.25,141.62 L525.40,142.74 L525.56,144.36 L525.73,146.24 L525.91,148.20 L526.10,150.00 L526.30,151.88 L526.50,154.06 L526.71,156.29 L526.93,158.37 L527.16,160.05 L527.40,161.10 L527.64,161.50 L527.89,161.42 L528.15,160.95 L528.42,160.17 L528.70,159.16 L529.00,158.00 L529.32,156.77 L529.67,155.41 L530.04,153.83 L530.40,151.91 L530.76,149.57 L531.10,146.70 L531.42,143.30 L531.73,139.43 L532.03,135.14 L532.32,130.46 L532.61,125.40 L532.90,120.00 L533.19,113.94 L533.49,107.14 L533.79,99.97 L534.07,92.80 L534.35,86.02 L534.60,80.00 L534.83,74.23 L535.04,68.30 L535.23,62.76 L535.42,58.14 L535.61,54.97 L535.80,53.80 L536.00,55.03 L536.19,58.33 L536.39,63.07 L536.59,68.67 L536.79,74.52 L537.00,80.00 L537.23,85.36 L537.47,91.14 L537.73,97.16 L537.97,103.25 L538.20,109.26 L538.40,115.00 L538.56,120.69 L538.70,126.49 L538.82,132.21 L538.93,137.62 L539.06,142.52 L539.20,146.70 L539.37,150.06 L539.55,152.73 L539.74,154.90 L539.94,156.72 L540.12,158.37 L540.30,160.00 L540.45,161.53 L540.56,162.81 L540.68,163.92 L540.80,164.92 L540.97,165.89 L541.20,166.90 L541.49,167.97 L541.82,169.05 L542.19,170.10 L542.59,171.08 L543.03,171.96 L543.50,172.70 L544.00,173.30 L544.53,173.79 L545.10,174.17 L545.70,174.46 L546.33,174.67 L547.00,174.80 L547.73,174.80 L548.52,174.65 L549.35,174.41 L550.18,174.16 L550.97,173.97 L551.70,173.90 L552.34,173.96 L552.91,174.08 L553.45,174.26 L553.99,174.49 L554.56,174.74 L555.20,175.00 L555.94,175.34 L556.77,175.78 L557.62,176.25 L558.47,176.67 L559.24,176.98 L559.90,177.10 L560.43,177.05 L560.87,176.89 L561.24,176.62 L561.57,176.22 L561.88,175.68 L562.20,175.00 L562.51,174.08 L562.80,172.90 L563.07,171.59 L563.33,170.26 L563.61,169.02 L563.90,168.00 L564.21,167.07 L564.54,166.12 L564.87,165.26 L565.21,164.63 L565.56,164.33 L565.90,164.50 L566.25,165.44 L566.60,167.13 L566.96,169.16 L567.32,171.13 L567.67,172.64 L568.00,173.30 L568.32,172.96 L568.63,171.91 L568.94,170.40 L569.23,168.69 L569.52,167.04 L569.80,165.70 L570.06,164.47 L570.30,163.10 L570.54,161.78 L570.77,160.71 L571.02,160.09 L571.30,160.10 L571.61,160.96 L571.94,162.57 L572.29,164.62 L572.64,166.81 L572.98,168.84 L573.30,170.40 L573.59,171.61 L573.86,172.74 L574.11,173.70 L574.38,174.42 L574.67,174.81 L575.00,174.80 L575.38,174.25 L575.81,173.19 L576.26,171.81 L576.71,170.29 L577.17,168.79 L577.60,167.50 L578.02,166.21 L578.43,164.74 L578.84,163.31 L579.24,162.11 L579.63,161.37 L580.00,161.30 L580.37,162.16 L580.73,163.84 L581.08,165.98 L581.41,168.20 L581.72,170.17 L582.00,171.50 L582.23,172.22 L582.41,172.62 L582.57,172.75 L582.74,172.67 L582.94,172.44 L583.20,172.10 L583.53,171.45 L583.91,170.41 L584.33,169.21 L584.76,168.10 L585.19,167.32 L585.60,167.10 L585.96,167.60 L586.29,168.67 L586.61,170.06 L586.96,171.54 L587.38,172.90 L587.90,173.90 L588.51,174.53 L589.16,174.97 L589.89,175.28 L590.69,175.51 L591.59,175.73 L592.60,176.00 L593.79,176.33 L595.17,176.67 L596.65,177.01 L598.13,177.29 L599.51,177.50 L600.70,177.60 L601.65,177.57 L602.43,177.44 L603.11,177.22 L603.77,176.96 L604.51,176.68 L605.40,176.40 L606.47,176.06 L607.67,175.62 L608.94,175.16 L610.23,174.76 L611.46,174.48 L612.60,174.40 L613.63,174.58 L614.60,174.98 L615.53,175.50 L616.43,176.07 L617.31,176.59 L618.20,177.00 L618.61,177.29 L618.45,177.53 L618.27,177.74 L618.65,177.91 L620.14,178.06 L623.30,178.20 L629.04,178.32 L637.07,178.41 L646.22,178.47 L655.30,178.53 L663.12,178.57 L668.50,178.60" fill="none" stroke="#e03434" stroke-width="1.15" stroke-linejoin="round"/>
<path d="M484.9,150.4 L485.5,150.1 L486.1,154.3 L486.7,151.4 L487.3,151.0 L487.9,151.7 L488.5,151.2 L489.1,150.9 L489.7,150.2 L490.3,149.9 L490.9,149.5 L491.5,149.8 L492.1,149.6 L492.7,149.9 L493.3,149.0 L493.9,149.3 L494.5,149.9 L495.1,150.1 L495.7,148.8 L496.3,149.5 L496.9,148.9 L497.5,148.8 L498.1,148.8 L498.7,148.9 L499.3,149.3 L499.9,149.1 L500.5,148.8 L501.1,148.6 L501.7,148.6 L502.3,148.5 L502.9,148.8 L503.5,148.2 L504.1,148.3 L504.7,148.2 L505.3,148.2 L505.9,148.2 L506.5,148.1 L507.1,148.4 L507.7,147.9 L508.3,148.4 L508.9,147.7 L509.5,147.5 L510.1,147.7 L510.7,147.7 L511.3,147.6 L511.9,147.9 L512.5,147.8 L513.1,147.5 L513.7,147.1 L514.3,147.1 L514.9,147.6 L515.5,147.1 L516.1,146.5 L516.7,146.7 L517.3,146.7 L517.9,147.2 L518.5,146.7 L519.1,147.5 L519.7,146.9 L520.3,146.6 L520.9,146.4 L521.5,146.8 L522.1,146.4 L522.7,146.2 L523.3,146.6 L523.9,146.4 L524.5,146.8 L525.1,146.3 L525.7,145.4 L526.3,146.6 L526.9,145.7 L527.5,146.9 L528.1,147.0 L528.7,146.3 L529.3,146.0 L529.9,146.0 L530.5,146.8 L531.1,146.4 L531.7,146.3 L532.3,146.5 L532.9,147.3 L533.5,146.7 L534.1,146.9 L534.7,146.9 L535.3,147.0 L535.9,147.0 L536.5,146.4 L537.1,146.6 L537.7,146.5 L538.3,146.5 L538.9,147.2 L539.5,146.7 L540.1,146.9 L540.7,146.7 L541.3,146.8 L541.9,147.3 L542.5,146.9 L543.1,147.0 L543.7,147.4 L544.3,147.5 L544.9,147.7 L545.5,147.5 L546.1,147.0 L546.7,147.9 L547.3,147.9 L547.9,148.2 L548.5,147.7 L549.1,149.0 L549.7,147.8 L550.3,148.6 L550.9,148.5 L551.5,148.4 L552.1,149.0 L552.7,148.7 L553.3,148.1 L553.9,148.7 L554.5,149.4 L555.1,150.1 L555.7,148.9 L556.3,149.6 L556.9,150.2 L557.5,150.1 L558.1,149.8 L558.7,149.6 L559.3,149.6 L559.9,150.1 L560.5,150.4 L561.1,149.8 L561.7,150.2 L562.3,151.0 L562.9,150.9 L563.5,150.9 L564.1,151.1 L564.7,151.1 L565.3,151.8 L565.9,152.2 L566.5,152.4 L567.1,152.1 L567.7,152.2 L568.3,152.6 L568.9,152.8 L569.5,152.8 L570.1,152.9 L570.7,152.3 L571.3,152.1 L571.9,153.1 L572.5,152.9 L573.1,153.0 L573.7,152.8 L574.3,152.8 L574.9,153.9 L575.5,153.7 L576.1,153.3 L576.7,153.9 L577.3,154.0 L577.9,154.2 L578.5,154.9 L579.1,154.2 L579.7,153.9 L580.3,154.5 L580.9,154.4 L581.5,154.9 L582.1,154.9 L582.7,155.1 L583.3,154.9 L583.9,155.4 L584.5,155.2 L585.1,155.7 L585.7,155.5 L586.3,155.3 L586.9,156.0 L587.5,155.7 L588.1,156.6 L588.7,156.4 L589.3,156.5 L589.9,156.5 L590.5,156.6 L591.1,155.9 L591.7,157.3 L592.3,156.7 L592.9,157.4 L593.5,157.0 L594.1,157.3 L594.7,157.4 L595.3,157.2 L595.9,157.6 L596.5,158.0 L597.1,157.8 L597.7,157.6 L598.3,157.9 L598.9,158.2 L599.5,158.6 L600.1,158.4 L600.7,158.2 L601.3,157.6 L601.9,158.1 L602.5,157.7 L603.1,157.7 L603.7,158.7 L604.3,159.8 L604.9,160.2 L605.5,159.8 L606.1,160.1 L606.7,159.9 L607.3,160.6 L607.9,160.6 L608.5,161.0 L609.1,160.9 L609.7,160.7 L610.3,161.6 L610.9,160.6 L611.5,160.5 L612.1,160.9 L612.7,161.3 L613.3,161.1 L613.9,161.1 L614.5,160.9 L615.1,161.9 L615.7,161.3 L616.3,161.2 L616.9,161.8 L617.5,161.8 L618.1,162.6 L618.7,163.5 L619.3,163.1 L619.9,163.3 L620.5,163.3 L621.1,163.4 L621.7,163.8 L622.3,163.7 L622.9,163.5 L623.5,163.3 L624.1,163.6 L624.7,163.9 L625.3,163.6 L625.9,163.6 L626.5,163.0 L627.1,164.0 L627.7,163.2 L628.3,163.2 L628.9,163.6 L629.5,163.7 L630.1,163.7 L630.7,163.5 L631.3,163.6 L631.9,163.6 L632.5,163.2 L633.1,163.7 L633.7,163.6 L634.3,164.1 L634.9,163.9 L635.5,164.4 L636.1,164.4 L636.7,164.7 L637.3,165.1 L637.9,165.6 L638.5,166.2 L639.1,167.2 L639.7,166.6 L640.3,167.1 L640.9,167.5 L641.5,167.2 L642.1,167.6 L642.7,167.2 L643.3,167.3 L643.9,167.8 L644.5,167.9 L645.1,168.1 L645.7,167.7 L646.3,167.8 L646.9,168.0 L647.5,168.0 L648.1,167.4 L648.7,167.7 L649.3,168.5 L649.9,167.6 L650.5,168.3 L651.1,168.1 L651.7,168.7 L652.3,168.1 L652.9,168.5 L653.5,167.9 L654.1,168.7 L654.7,169.3 L655.3,168.5 L655.9,169.6 L656.5,169.0 L657.1,169.4 L657.7,168.6 L658.3,170.1 L658.9,169.5 L659.5,169.8 L660.1,169.6 L660.7,169.8 L661.3,170.7 L661.9,170.2 L662.5,170.8 L663.1,170.5 L663.7,170.8 L664.3,170.6 L664.9,171.0 L665.5,171.8 L666.1,171.2 L666.7,171.3 L667.3,171.0 L667.9,171.6 L668.5,171.8" fill="none" stroke="#2f4f9f" stroke-width="1.25" stroke-linejoin="round"/>
<text x="563.90" y="67.42" font-size="9.0" font-weight="normal" fill="#1a1a1a" textLength="83.95" lengthAdjust="spacingAndGlyphs" >Input power 11.2 mW</text>
<text x="567.80" y="112.12" font-size="9.0" font-weight="normal" fill="#e03a3a" textLength="86.25" lengthAdjust="spacingAndGlyphs" >MQW + 2D PC (410&#160;&#160;)</text>
<text x="566.30" y="140.42" font-size="9.0" font-weight="normal" fill="#3a58a8" textLength="68.24" lengthAdjust="spacingAndGlyphs" >Blackbody (125&#160;&#160;)</text>
<line x1="560.60" y1="110.50" x2="545.50" y2="119.10" stroke="#e03434" stroke-width="0.9" />
<path d="M543.2,120.4 L546.0,116.9 L547.6,119.6 Z" fill="#e03434"/>
<line x1="563.50" y1="136.30" x2="551.80" y2="142.40" stroke="#3a58a8" stroke-width="0.9" />
<path d="M549.4,143.6 L552.0,140.3 L553.5,143.0 Z" fill="#3a58a8"/>
<defs><clipPath id="semc"><rect x="41.2" y="263.6" width="98.2" height="74"/></clipPath><clipPath id="semc2"><rect x="100" y="263.6" width="39.2" height="36.4"/></clipPath><linearGradient id="bigp" x1="0" y1="0" x2="1" y2="0"><stop offset="0" stop-color="#6a6a6a"/><stop offset="0.18" stop-color="#2a2a2a"/><stop offset="0.5" stop-color="#141414"/><stop offset="0.85" stop-color="#2a2a2a"/><stop offset="1" stop-color="#6a6a6a"/></linearGradient><linearGradient id="pbody" x1="0" y1="0" x2="0" y2="1"><stop offset="0" stop-color="#6e6e6e"/><stop offset="0.3" stop-color="#626262"/><stop offset="0.45" stop-color="#242424"/><stop offset="1" stop-color="#1c1c1c"/></linearGradient></defs>
<g clip-path="url(#semc)">
<rect x="41.2" y="263.6" width="98.2" height="74" fill="#4b4b4b"/>
<path d="M47.00,257.10 L46.10,264.50 Q50.60,265.90 55.10,264.50 L54.20,257.10 Z" fill="url(#pbody)"/><path d="M47.00,257.10 L46.10,264.50" stroke="#8e8e8e" stroke-width="0.70"/><path d="M54.20,257.10 L55.10,264.50" stroke="#8e8e8e" stroke-width="0.70"/><ellipse cx="50.60" cy="257.20" rx="3.60" ry="2.50" fill="#727272" stroke="#8c8c8c" stroke-width="0.50"/>
<path d="M61.70,257.10 L60.80,264.50 Q65.30,265.90 69.80,264.50 L68.90,257.10 Z" fill="url(#pbody)"/><path d="M61.70,257.10 L60.80,264.50" stroke="#8e8e8e" stroke-width="0.70"/><path d="M68.90,257.10 L69.80,264.50" stroke="#8e8e8e" stroke-width="0.70"/><ellipse cx="65.30" cy="257.20" rx="3.60" ry="2.50" fill="#727272" stroke="#8c8c8c" stroke-width="0.50"/>
<path d="M76.40,257.10 L75.50,264.50 Q80.00,265.90 84.50,264.50 L83.60,257.10 Z" fill="url(#pbody)"/><path d="M76.40,257.10 L75.50,264.50" stroke="#8e8e8e" stroke-width="0.70"/><path d="M83.60,257.10 L84.50,264.50" stroke="#8e8e8e" stroke-width="0.70"/><ellipse cx="80.00" cy="257.20" rx="3.60" ry="2.50" fill="#727272" stroke="#8c8c8c" stroke-width="0.50"/>
<path d="M91.10,257.10 L90.20,264.50 Q94.70,265.90 99.20,264.50 L98.30,257.10 Z" fill="url(#pbody)"/><path d="M91.10,257.10 L90.20,264.50" stroke="#8e8e8e" stroke-width="0.70"/><path d="M98.30,257.10 L99.20,264.50" stroke="#8e8e8e" stroke-width="0.70"/><ellipse cx="94.70" cy="257.20" rx="3.60" ry="2.50" fill="#727272" stroke="#8c8c8c" stroke-width="0.50"/>
<path d="M105.80,257.10 L104.90,264.50 Q109.40,265.90 113.90,264.50 L113.00,257.10 Z" fill="url(#pbody)"/><path d="M105.80,257.10 L104.90,264.50" stroke="#8e8e8e" stroke-width="0.70"/><path d="M113.00,257.10 L113.90,264.50" stroke="#8e8e8e" stroke-width="0.70"/><ellipse cx="109.40" cy="257.20" rx="3.60" ry="2.50" fill="#727272" stroke="#8c8c8c" stroke-width="0.50"/>
<path d="M120.50,257.10 L119.60,264.50 Q124.10,265.90 128.60,264.50 L127.70,257.10 Z" fill="url(#pbody)"/><path d="M120.50,257.10 L119.60,264.50" stroke="#8e8e8e" stroke-width="0.70"/><path d="M127.70,257.10 L128.60,264.50" stroke="#8e8e8e" stroke-width="0.70"/><ellipse cx="124.10" cy="257.20" rx="3.60" ry="2.50" fill="#727272" stroke="#8c8c8c" stroke-width="0.50"/>
<path d="M135.20,257.10 L134.30,264.50 Q138.80,265.90 143.30,264.50 L142.40,257.10 Z" fill="url(#pbody)"/><path d="M135.20,257.10 L134.30,264.50" stroke="#8e8e8e" stroke-width="0.70"/><path d="M142.40,257.10 L143.30,264.50" stroke="#8e8e8e" stroke-width="0.70"/><ellipse cx="138.80" cy="257.20" rx="3.60" ry="2.50" fill="#727272" stroke="#8c8c8c" stroke-width="0.50"/>
<path d="M149.90,257.10 L149.00,264.50 Q153.50,265.90 158.00,264.50 L157.10,257.10 Z" fill="url(#pbody)"/><path d="M149.90,257.10 L149.00,264.50" stroke="#8e8e8e" stroke-width="0.70"/><path d="M157.10,257.10 L158.00,264.50" stroke="#8e8e8e" stroke-width="0.70"/><ellipse cx="153.50" cy="257.20" rx="3.60" ry="2.50" fill="#727272" stroke="#8c8c8c" stroke-width="0.50"/>
<path d="M45.70,268.00 L44.80,275.40 Q49.30,276.80 53.80,275.40 L52.90,268.00 Z" fill="url(#pbody)"/><path d="M45.70,268.00 L44.80,275.40" stroke="#8e8e8e" stroke-width="0.70"/><path d="M52.90,268.00 L53.80,275.40" stroke="#8e8e8e" stroke-width="0.70"/><ellipse cx="49.30" cy="268.10" rx="3.60" ry="2.50" fill="#727272" stroke="#8c8c8c" stroke-width="0.50"/>
<path d="M60.40,268.00 L59.50,275.40 Q64.00,276.80 68.50,275.40 L67.60,268.00 Z" fill="url(#pbody)"/><path d="M60.40,268.00 L59.50,275.40" stroke="#8e8e8e" stroke-width="0.70"/><path d="M67.60,268.00 L68.50,275.40" stroke="#8e8e8e" stroke-width="0.70"/><ellipse cx="64.00" cy="268.10" rx="3.60" ry="2.50" fill="#727272" stroke="#8c8c8c" stroke-width="0.50"/>
<path d="M75.10,268.00 L74.20,275.40 Q78.70,276.80 83.20,275.40 L82.30,268.00 Z" fill="url(#pbody)"/><path d="M75.10,268.00 L74.20,275.40" stroke="#8e8e8e" stroke-width="0.70"/><path d="M82.30,268.00 L83.20,275.40" stroke="#8e8e8e" stroke-width="0.70"/><ellipse cx="78.70" cy="268.10" rx="3.60" ry="2.50" fill="#727272" stroke="#8c8c8c" stroke-width="0.50"/>
<path d="M89.80,268.00 L88.90,275.40 Q93.40,276.80 97.90,275.40 L97.00,268.00 Z" fill="url(#pbody)"/><path d="M89.80,268.00 L88.90,275.40" stroke="#8e8e8e" stroke-width="0.70"/><path d="M97.00,268.00 L97.90,275.40" stroke="#8e8e8e" stroke-width="0.70"/><ellipse cx="93.40" cy="268.10" rx="3.60" ry="2.50" fill="#727272" stroke="#8c8c8c" stroke-width="0.50"/>
<path d="M104.50,268.00 L103.60,275.40 Q108.10,276.80 112.60,275.40 L111.70,268.00 Z" fill="url(#pbody)"/><path d="M104.50,268.00 L103.60,275.40" stroke="#8e8e8e" stroke-width="0.70"/><path d="M111.70,268.00 L112.60,275.40" stroke="#8e8e8e" stroke-width="0.70"/><ellipse cx="108.10" cy="268.10" rx="3.60" ry="2.50" fill="#727272" stroke="#8c8c8c" stroke-width="0.50"/>
<path d="M119.20,268.00 L118.30,275.40 Q122.80,276.80 127.30,275.40 L126.40,268.00 Z" fill="url(#pbody)"/><path d="M119.20,268.00 L118.30,275.40" stroke="#8e8e8e" stroke-width="0.70"/><path d="M126.40,268.00 L127.30,275.40" stroke="#8e8e8e" stroke-width="0.70"/><ellipse cx="122.80" cy="268.10" rx="3.60" ry="2.50" fill="#727272" stroke="#8c8c8c" stroke-width="0.50"/>
<path d="M133.90,268.00 L133.00,275.40 Q137.50,276.80 142.00,275.40 L141.10,268.00 Z" fill="url(#pbody)"/><path d="M133.90,268.00 L133.00,275.40" stroke="#8e8e8e" stroke-width="0.70"/><path d="M141.10,268.00 L142.00,275.40" stroke="#8e8e8e" stroke-width="0.70"/><ellipse cx="137.50" cy="268.10" rx="3.60" ry="2.50" fill="#727272" stroke="#8c8c8c" stroke-width="0.50"/>
<path d="M148.60,268.00 L147.70,275.40 Q152.20,276.80 156.70,275.40 L155.80,268.00 Z" fill="url(#pbody)"/><path d="M148.60,268.00 L147.70,275.40" stroke="#8e8e8e" stroke-width="0.70"/><path d="M155.80,268.00 L156.70,275.40" stroke="#8e8e8e" stroke-width="0.70"/><ellipse cx="152.20" cy="268.10" rx="3.60" ry="2.50" fill="#727272" stroke="#8c8c8c" stroke-width="0.50"/>
<path d="M44.40,278.90 L43.50,286.30 Q48.00,287.70 52.50,286.30 L51.60,278.90 Z" fill="url(#pbody)"/><path d="M44.40,278.90 L43.50,286.30" stroke="#8e8e8e" stroke-width="0.70"/><path d="M51.60,278.90 L52.50,286.30" stroke="#8e8e8e" stroke-width="0.70"/><ellipse cx="48.00" cy="279.00" rx="3.60" ry="2.50" fill="#727272" stroke="#8c8c8c" stroke-width="0.50"/>
<path d="M59.10,278.90 L58.20,286.30 Q62.70,287.70 67.20,286.30 L66.30,278.90 Z" fill="url(#pbody)"/><path d="M59.10,278.90 L58.20,286.30" stroke="#8e8e8e" stroke-width="0.70"/><path d="M66.30,278.90 L67.20,286.30" stroke="#8e8e8e" stroke-width="0.70"/><ellipse cx="62.70" cy="279.00" rx="3.60" ry="2.50" fill="#727272" stroke="#8c8c8c" stroke-width="0.50"/>
<path d="M73.80,278.90 L72.90,286.30 Q77.40,287.70 81.90,286.30 L81.00,278.90 Z" fill="url(#pbody)"/><path d="M73.80,278.90 L72.90,286.30" stroke="#8e8e8e" stroke-width="0.70"/><path d="M81.00,278.90 L81.90,286.30" stroke="#8e8e8e" stroke-width="0.70"/><ellipse cx="77.40" cy="279.00" rx="3.60" ry="2.50" fill="#727272" stroke="#8c8c8c" stroke-width="0.50"/>
<path d="M88.50,278.90 L87.60,286.30 Q92.10,287.70 96.60,286.30 L95.70,278.90 Z" fill="url(#pbody)"/><path d="M88.50,278.90 L87.60,286.30" stroke="#8e8e8e" stroke-width="0.70"/><path d="M95.70,278.90 L96.60,286.30" stroke="#8e8e8e" stroke-width="0.70"/><ellipse cx="92.10" cy="279.00" rx="3.60" ry="2.50" fill="#727272" stroke="#8c8c8c" stroke-width="0.50"/>
<path d="M103.20,278.90 L102.30,286.30 Q106.80,287.70 111.30,286.30 L110.40,278.90 Z" fill="url(#pbody)"/><path d="M103.20,278.90 L102.30,286.30" stroke="#8e8e8e" stroke-width="0.70"/><path d="M110.40,278.90 L111.30,286.30" stroke="#8e8e8e" stroke-width="0.70"/><ellipse cx="106.80" cy="279.00" rx="3.60" ry="2.50" fill="#727272" stroke="#8c8c8c" stroke-width="0.50"/>
<path d="M117.90,278.90 L117.00,286.30 Q121.50,287.70 126.00,286.30 L125.10,278.90 Z" fill="url(#pbody)"/><path d="M117.90,278.90 L117.00,286.30" stroke="#8e8e8e" stroke-width="0.70"/><path d="M125.10,278.90 L126.00,286.30" stroke="#8e8e8e" stroke-width="0.70"/><ellipse cx="121.50" cy="279.00" rx="3.60" ry="2.50" fill="#727272" stroke="#8c8c8c" stroke-width="0.50"/>
<path d="M132.60,278.90 L131.70,286.30 Q136.20,287.70 140.70,286.30 L139.80,278.90 Z" fill="url(#pbody)"/><path d="M132.60,278.90 L131.70,286.30" stroke="#8e8e8e" stroke-width="0.70"/><path d="M139.80,278.90 L140.70,286.30" stroke="#8e8e8e" stroke-width="0.70"/><ellipse cx="136.20" cy="279.00" rx="3.60" ry="2.50" fill="#727272" stroke="#8c8c8c" stroke-width="0.50"/>
<path d="M147.30,278.90 L146.40,286.30 Q150.90,287.70 155.40,286.30 L154.50,278.90 Z" fill="url(#pbody)"/><path d="M147.30,278.90 L146.40,286.30" stroke="#8e8e8e" stroke-width="0.70"/><path d="M154.50,278.90 L155.40,286.30" stroke="#8e8e8e" stroke-width="0.70"/><ellipse cx="150.90" cy="279.00" rx="3.60" ry="2.50" fill="#727272" stroke="#8c8c8c" stroke-width="0.50"/>
<path d="M43.10,289.80 L42.20,297.20 Q46.70,298.60 51.20,297.20 L50.30,289.80 Z" fill="url(#pbody)"/><path d="M43.10,289.80 L42.20,297.20" stroke="#8e8e8e" stroke-width="0.70"/><path d="M50.30,289.80 L51.20,297.20" stroke="#8e8e8e" stroke-width="0.70"/><ellipse cx="46.70" cy="289.90" rx="3.60" ry="2.50" fill="#727272" stroke="#8c8c8c" stroke-width="0.50"/>
<path d="M57.80,289.80 L56.90,297.20 Q61.40,298.60 65.90,297.20 L65.00,289.80 Z" fill="url(#pbody)"/><path d="M57.80,289.80 L56.90,297.20" stroke="#8e8e8e" stroke-width="0.70"/><path d="M65.00,289.80 L65.90,297.20" stroke="#8e8e8e" stroke-width="0.70"/><ellipse cx="61.40" cy="289.90" rx="3.60" ry="2.50" fill="#727272" stroke="#8c8c8c" stroke-width="0.50"/>
<path d="M72.50,289.80 L71.60,297.20 Q76.10,298.60 80.60,297.20 L79.70,289.80 Z" fill="url(#pbody)"/><path d="M72.50,289.80 L71.60,297.20" stroke="#8e8e8e" stroke-width="0.70"/><path d="M79.70,289.80 L80.60,297.20" stroke="#8e8e8e" stroke-width="0.70"/><ellipse cx="76.10" cy="289.90" rx="3.60" ry="2.50" fill="#727272" stroke="#8c8c8c" stroke-width="0.50"/>
<path d="M87.20,289.80 L86.30,297.20 Q90.80,298.60 95.30,297.20 L94.40,289.80 Z" fill="url(#pbody)"/><path d="M87.20,289.80 L86.30,297.20" stroke="#8e8e8e" stroke-width="0.70"/><path d="M94.40,289.80 L95.30,297.20" stroke="#8e8e8e" stroke-width="0.70"/><ellipse cx="90.80" cy="289.90" rx="3.60" ry="2.50" fill="#727272" stroke="#8c8c8c" stroke-width="0.50"/>
<path d="M101.90,289.80 L101.00,297.20 Q105.50,298.60 110.00,297.20 L109.10,289.80 Z" fill="url(#pbody)"/><path d="M101.90,289.80 L101.00,297.20" stroke="#8e8e8e" stroke-width="0.70"/><path d="M109.10,289.80 L110.00,297.20" stroke="#8e8e8e" stroke-width="0.70"/><ellipse cx="105.50" cy="289.90" rx="3.60" ry="2.50" fill="#727272" stroke="#8c8c8c" stroke-width="0.50"/>
<path d="M116.60,289.80 L115.70,297.20 Q120.20,298.60 124.70,297.20 L123.80,289.80 Z" fill="url(#pbody)"/><path d="M116.60,289.80 L115.70,297.20" stroke="#8e8e8e" stroke-width="0.70"/><path d="M123.80,289.80 L124.70,297.20" stroke="#8e8e8e" stroke-width="0.70"/><ellipse cx="120.20" cy="289.90" rx="3.60" ry="2.50" fill="#727272" stroke="#8c8c8c" stroke-width="0.50"/>
<path d="M131.30,289.80 L130.40,297.20 Q134.90,298.60 139.40,297.20 L138.50,289.80 Z" fill="url(#pbody)"/><path d="M131.30,289.80 L130.40,297.20" stroke="#8e8e8e" stroke-width="0.70"/><path d="M138.50,289.80 L139.40,297.20" stroke="#8e8e8e" stroke-width="0.70"/><ellipse cx="134.90" cy="289.90" rx="3.60" ry="2.50" fill="#727272" stroke="#8c8c8c" stroke-width="0.50"/>
<path d="M146.00,289.80 L145.10,297.20 Q149.60,298.60 154.10,297.20 L153.20,289.80 Z" fill="url(#pbody)"/><path d="M146.00,289.80 L145.10,297.20" stroke="#8e8e8e" stroke-width="0.70"/><path d="M153.20,289.80 L154.10,297.20" stroke="#8e8e8e" stroke-width="0.70"/><ellipse cx="149.60" cy="289.90" rx="3.60" ry="2.50" fill="#727272" stroke="#8c8c8c" stroke-width="0.50"/>
<path d="M41.80,300.70 L40.90,308.10 Q45.40,309.50 49.90,308.10 L49.00,300.70 Z" fill="url(#pbody)"/><path d="M41.80,300.70 L40.90,308.10" stroke="#8e8e8e" stroke-width="0.70"/><path d="M49.00,300.70 L49.90,308.10" stroke="#8e8e8e" stroke-width="0.70"/><ellipse cx="45.40" cy="300.80" rx="3.60" ry="2.50" fill="#727272" stroke="#8c8c8c" stroke-width="0.50"/>
<path d="M56.50,300.70 L55.60,308.10 Q60.10,309.50 64.60,308.10 L63.70,300.70 Z" fill="url(#pbody)"/><path d="M56.50,300.70 L55.60,308.10" stroke="#8e8e8e" stroke-width="0.70"/><path d="M63.70,300.70 L64.60,308.10" stroke="#8e8e8e" stroke-width="0.70"/><ellipse cx="60.10" cy="300.80" rx="3.60" ry="2.50" fill="#727272" stroke="#8c8c8c" stroke-width="0.50"/>
<path d="M71.20,300.70 L70.30,308.10 Q74.80,309.50 79.30,308.10 L78.40,300.70 Z" fill="url(#pbody)"/><path d="M71.20,300.70 L70.30,308.10" stroke="#8e8e8e" stroke-width="0.70"/><path d="M78.40,300.70 L79.30,308.10" stroke="#8e8e8e" stroke-width="0.70"/><ellipse cx="74.80" cy="300.80" rx="3.60" ry="2.50" fill="#727272" stroke="#8c8c8c" stroke-width="0.50"/>
<path d="M85.90,300.70 L85.00,308.10 Q89.50,309.50 94.00,308.10 L93.10,300.70 Z" fill="url(#pbody)"/><path d="M85.90,300.70 L85.00,308.10" stroke="#8e8e8e" stroke-width="0.70"/><path d="M93.10,300.70 L94.00,308.10" stroke="#8e8e8e" stroke-width="0.70"/><ellipse cx="89.50" cy="300.80" rx="3.60" ry="2.50" fill="#727272" stroke="#8c8c8c" stroke-width="0.50"/>
<path d="M100.60,300.70 L99.70,308.10 Q104.20,309.50 108.70,308.10 L107.80,300.70 Z" fill="url(#pbody)"/><path d="M100.60,300.70 L99.70,308.10" stroke="#8e8e8e" stroke-width="0.70"/><path d="M107.80,300.70 L108.70,308.10" stroke="#8e8e8e" stroke-width="0.70"/><ellipse cx="104.20" cy="300.80" rx="3.60" ry="2.50" fill="#727272" stroke="#8c8c8c" stroke-width="0.50"/>
<path d="M115.30,300.70 L114.40,308.10 Q118.90,309.50 123.40,308.10 L122.50,300.70 Z" fill="url(#pbody)"/><path d="M115.30,300.70 L114.40,308.10" stroke="#8e8e8e" stroke-width="0.70"/><path d="M122.50,300.70 L123.40,308.10" stroke="#8e8e8e" stroke-width="0.70"/><ellipse cx="118.90" cy="300.80" rx="3.60" ry="2.50" fill="#727272" stroke="#8c8c8c" stroke-width="0.50"/>
<path d="M130.00,300.70 L129.10,308.10 Q133.60,309.50 138.10,308.10 L137.20,300.70 Z" fill="url(#pbody)"/><path d="M130.00,300.70 L129.10,308.10" stroke="#8e8e8e" stroke-width="0.70"/><path d="M137.20,300.70 L138.10,308.10" stroke="#8e8e8e" stroke-width="0.70"/><ellipse cx="133.60" cy="300.80" rx="3.60" ry="2.50" fill="#727272" stroke="#8c8c8c" stroke-width="0.50"/>
<path d="M144.70,300.70 L143.80,308.10 Q148.30,309.50 152.80,308.10 L151.90,300.70 Z" fill="url(#pbody)"/><path d="M144.70,300.70 L143.80,308.10" stroke="#8e8e8e" stroke-width="0.70"/><path d="M151.90,300.70 L152.80,308.10" stroke="#8e8e8e" stroke-width="0.70"/><ellipse cx="148.30" cy="300.80" rx="3.60" ry="2.50" fill="#727272" stroke="#8c8c8c" stroke-width="0.50"/>
<path d="M40.50,311.60 L39.60,319.00 Q44.10,320.40 48.60,319.00 L47.70,311.60 Z" fill="url(#pbody)"/><path d="M40.50,311.60 L39.60,319.00" stroke="#8e8e8e" stroke-width="0.70"/><path d="M47.70,311.60 L48.60,319.00" stroke="#8e8e8e" stroke-width="0.70"/><ellipse cx="44.10" cy="311.70" rx="3.60" ry="2.50" fill="#727272" stroke="#8c8c8c" stroke-width="0.50"/>
<path d="M55.20,311.60 L54.30,319.00 Q58.80,320.40 63.30,319.00 L62.40,311.60 Z" fill="url(#pbody)"/><path d="M55.20,311.60 L54.30,319.00" stroke="#8e8e8e" stroke-width="0.70"/><path d="M62.40,311.60 L63.30,319.00" stroke="#8e8e8e" stroke-width="0.70"/><ellipse cx="58.80" cy="311.70" rx="3.60" ry="2.50" fill="#727272" stroke="#8c8c8c" stroke-width="0.50"/>
<path d="M69.90,311.60 L69.00,319.00 Q73.50,320.40 78.00,319.00 L77.10,311.60 Z" fill="url(#pbody)"/><path d="M69.90,311.60 L69.00,319.00" stroke="#8e8e8e" stroke-width="0.70"/><path d="M77.10,311.60 L78.00,319.00" stroke="#8e8e8e" stroke-width="0.70"/><ellipse cx="73.50" cy="311.70" rx="3.60" ry="2.50" fill="#727272" stroke="#8c8c8c" stroke-width="0.50"/>
<path d="M84.60,311.60 L83.70,319.00 Q88.20,320.40 92.70,319.00 L91.80,311.60 Z" fill="url(#pbody)"/><path d="M84.60,311.60 L83.70,319.00" stroke="#8e8e8e" stroke-width="0.70"/><path d="M91.80,311.60 L92.70,319.00" stroke="#8e8e8e" stroke-width="0.70"/><ellipse cx="88.20" cy="311.70" rx="3.60" ry="2.50" fill="#727272" stroke="#8c8c8c" stroke-width="0.50"/>
<path d="M99.30,311.60 L98.40,319.00 Q102.90,320.40 107.40,319.00 L106.50,311.60 Z" fill="url(#pbody)"/><path d="M99.30,311.60 L98.40,319.00" stroke="#8e8e8e" stroke-width="0.70"/><path d="M106.50,311.60 L107.40,319.00" stroke="#8e8e8e" stroke-width="0.70"/><ellipse cx="102.90" cy="311.70" rx="3.60" ry="2.50" fill="#727272" stroke="#8c8c8c" stroke-width="0.50"/>
<path d="M114.00,311.60 L113.10,319.00 Q117.60,320.40 122.10,319.00 L121.20,311.60 Z" fill="url(#pbody)"/><path d="M114.00,311.60 L113.10,319.00" stroke="#8e8e8e" stroke-width="0.70"/><path d="M121.20,311.60 L122.10,319.00" stroke="#8e8e8e" stroke-width="0.70"/><ellipse cx="117.60" cy="311.70" rx="3.60" ry="2.50" fill="#727272" stroke="#8c8c8c" stroke-width="0.50"/>
<path d="M128.70,311.60 L127.80,319.00 Q132.30,320.40 136.80,319.00 L135.90,311.60 Z" fill="url(#pbody)"/><path d="M128.70,311.60 L127.80,319.00" stroke="#8e8e8e" stroke-width="0.70"/><path d="M135.90,311.60 L136.80,319.00" stroke="#8e8e8e" stroke-width="0.70"/><ellipse cx="132.30" cy="311.70" rx="3.60" ry="2.50" fill="#727272" stroke="#8c8c8c" stroke-width="0.50"/>
<path d="M143.40,311.60 L142.50,319.00 Q147.00,320.40 151.50,319.00 L150.60,311.60 Z" fill="url(#pbody)"/><path d="M143.40,311.60 L142.50,319.00" stroke="#8e8e8e" stroke-width="0.70"/><path d="M150.60,311.60 L151.50,319.00" stroke="#8e8e8e" stroke-width="0.70"/><ellipse cx="147.00" cy="311.70" rx="3.60" ry="2.50" fill="#727272" stroke="#8c8c8c" stroke-width="0.50"/>
<path d="M39.20,322.50 L38.30,329.90 Q42.80,331.30 47.30,329.90 L46.40,322.50 Z" fill="url(#pbody)"/><path d="M39.20,322.50 L38.30,329.90" stroke="#8e8e8e" stroke-width="0.70"/><path d="M46.40,322.50 L47.30,329.90" stroke="#8e8e8e" stroke-width="0.70"/><ellipse cx="42.80" cy="322.60" rx="3.60" ry="2.50" fill="#727272" stroke="#8c8c8c" stroke-width="0.50"/>
<path d="M53.90,322.50 L53.00,329.90 Q57.50,331.30 62.00,329.90 L61.10,322.50 Z" fill="url(#pbody)"/><path d="M53.90,322.50 L53.00,329.90" stroke="#8e8e8e" stroke-width="0.70"/><path d="M61.10,322.50 L62.00,329.90" stroke="#8e8e8e" stroke-width="0.70"/><ellipse cx="57.50" cy="322.60" rx="3.60" ry="2.50" fill="#727272" stroke="#8c8c8c" stroke-width="0.50"/>
<path d="M68.60,322.50 L67.70,329.90 Q72.20,331.30 76.70,329.90 L75.80,322.50 Z" fill="url(#pbody)"/><path d="M68.60,322.50 L67.70,329.90" stroke="#8e8e8e" stroke-width="0.70"/><path d="M75.80,322.50 L76.70,329.90" stroke="#8e8e8e" stroke-width="0.70"/><ellipse cx="72.20" cy="322.60" rx="3.60" ry="2.50" fill="#727272" stroke="#8c8c8c" stroke-width="0.50"/>
<path d="M83.30,322.50 L82.40,329.90 Q86.90,331.30 91.40,329.90 L90.50,322.50 Z" fill="url(#pbody)"/><path d="M83.30,322.50 L82.40,329.90" stroke="#8e8e8e" stroke-width="0.70"/><path d="M90.50,322.50 L91.40,329.90" stroke="#8e8e8e" stroke-width="0.70"/><ellipse cx="86.90" cy="322.60" rx="3.60" ry="2.50" fill="#727272" stroke="#8c8c8c" stroke-width="0.50"/>
<path d="M98.00,322.50 L97.10,329.90 Q101.60,331.30 106.10,329.90 L105.20,322.50 Z" fill="url(#pbody)"/><path d="M98.00,322.50 L97.10,329.90" stroke="#8e8e8e" stroke-width="0.70"/><path d="M105.20,322.50 L106.10,329.90" stroke="#8e8e8e" stroke-width="0.70"/><ellipse cx="101.60" cy="322.60" rx="3.60" ry="2.50" fill="#727272" stroke="#8c8c8c" stroke-width="0.50"/>
<path d="M112.70,322.50 L111.80,329.90 Q116.30,331.30 120.80,329.90 L119.90,322.50 Z" fill="url(#pbody)"/><path d="M112.70,322.50 L111.80,329.90" stroke="#8e8e8e" stroke-width="0.70"/><path d="M119.90,322.50 L120.80,329.90" stroke="#8e8e8e" stroke-width="0.70"/><ellipse cx="116.30" cy="322.60" rx="3.60" ry="2.50" fill="#727272" stroke="#8c8c8c" stroke-width="0.50"/>
<path d="M127.40,322.50 L126.50,329.90 Q131.00,331.30 135.50,329.90 L134.60,322.50 Z" fill="url(#pbody)"/><path d="M127.40,322.50 L126.50,329.90" stroke="#8e8e8e" stroke-width="0.70"/><path d="M134.60,322.50 L135.50,329.90" stroke="#8e8e8e" stroke-width="0.70"/><ellipse cx="131.00" cy="322.60" rx="3.60" ry="2.50" fill="#727272" stroke="#8c8c8c" stroke-width="0.50"/>
<path d="M142.10,322.50 L141.20,329.90 Q145.70,331.30 150.20,329.90 L149.30,322.50 Z" fill="url(#pbody)"/><path d="M142.10,322.50 L141.20,329.90" stroke="#8e8e8e" stroke-width="0.70"/><path d="M149.30,322.50 L150.20,329.90" stroke="#8e8e8e" stroke-width="0.70"/><ellipse cx="145.70" cy="322.60" rx="3.60" ry="2.50" fill="#727272" stroke="#8c8c8c" stroke-width="0.50"/>
<path d="M37.90,333.40 L37.00,340.80 Q41.50,342.20 46.00,340.80 L45.10,333.40 Z" fill="url(#pbody)"/><path d="M37.90,333.40 L37.00,340.80" stroke="#8e8e8e" stroke-width="0.70"/><path d="M45.10,333.40 L46.00,340.80" stroke="#8e8e8e" stroke-width="0.70"/><ellipse cx="41.50" cy="333.50" rx="3.60" ry="2.50" fill="#727272" stroke="#8c8c8c" stroke-width="0.50"/>
<path d="M52.60,333.40 L51.70,340.80 Q56.20,342.20 60.70,340.80 L59.80,333.40 Z" fill="url(#pbody)"/><path d="M52.60,333.40 L51.70,340.80" stroke="#8e8e8e" stroke-width="0.70"/><path d="M59.80,333.40 L60.70,340.80" stroke="#8e8e8e" stroke-width="0.70"/><ellipse cx="56.20" cy="333.50" rx="3.60" ry="2.50" fill="#727272" stroke="#8c8c8c" stroke-width="0.50"/>
<path d="M67.30,333.40 L66.40,340.80 Q70.90,342.20 75.40,340.80 L74.50,333.40 Z" fill="url(#pbody)"/><path d="M67.30,333.40 L66.40,340.80" stroke="#8e8e8e" stroke-width="0.70"/><path d="M74.50,333.40 L75.40,340.80" stroke="#8e8e8e" stroke-width="0.70"/><ellipse cx="70.90" cy="333.50" rx="3.60" ry="2.50" fill="#727272" stroke="#8c8c8c" stroke-width="0.50"/>
<path d="M82.00,333.40 L81.10,340.80 Q85.60,342.20 90.10,340.80 L89.20,333.40 Z" fill="url(#pbody)"/><path d="M82.00,333.40 L81.10,340.80" stroke="#8e8e8e" stroke-width="0.70"/><path d="M89.20,333.40 L90.10,340.80" stroke="#8e8e8e" stroke-width="0.70"/><ellipse cx="85.60" cy="333.50" rx="3.60" ry="2.50" fill="#727272" stroke="#8c8c8c" stroke-width="0.50"/>
<path d="M96.70,333.40 L95.80,340.80 Q100.30,342.20 104.80,340.80 L103.90,333.40 Z" fill="url(#pbody)"/><path d="M96.70,333.40 L95.80,340.80" stroke="#8e8e8e" stroke-width="0.70"/><path d="M103.90,333.40 L104.80,340.80" stroke="#8e8e8e" stroke-width="0.70"/><ellipse cx="100.30" cy="333.50" rx="3.60" ry="2.50" fill="#727272" stroke="#8c8c8c" stroke-width="0.50"/>
<path d="M111.40,333.40 L110.50,340.80 Q115.00,342.20 119.50,340.80 L118.60,333.40 Z" fill="url(#pbody)"/><path d="M111.40,333.40 L110.50,340.80" stroke="#8e8e8e" stroke-width="0.70"/><path d="M118.60,333.40 L119.50,340.80" stroke="#8e8e8e" stroke-width="0.70"/><ellipse cx="115.00" cy="333.50" rx="3.60" ry="2.50" fill="#727272" stroke="#8c8c8c" stroke-width="0.50"/>
<path d="M126.10,333.40 L125.20,340.80 Q129.70,342.20 134.20,340.80 L133.30,333.40 Z" fill="url(#pbody)"/><path d="M126.10,333.40 L125.20,340.80" stroke="#8e8e8e" stroke-width="0.70"/><path d="M133.30,333.40 L134.20,340.80" stroke="#8e8e8e" stroke-width="0.70"/><ellipse cx="129.70" cy="333.50" rx="3.60" ry="2.50" fill="#727272" stroke="#8c8c8c" stroke-width="0.50"/>
<path d="M140.80,333.40 L139.90,340.80 Q144.40,342.20 148.90,340.80 L148.00,333.40 Z" fill="url(#pbody)"/><path d="M140.80,333.40 L139.90,340.80" stroke="#8e8e8e" stroke-width="0.70"/><path d="M148.00,333.40 L148.90,340.80" stroke="#8e8e8e" stroke-width="0.70"/><ellipse cx="144.40" cy="333.50" rx="3.60" ry="2.50" fill="#727272" stroke="#8c8c8c" stroke-width="0.50"/>
<path d="M36.60,344.30 L35.70,351.70 Q40.20,353.10 44.70,351.70 L43.80,344.30 Z" fill="url(#pbody)"/><path d="M36.60,344.30 L35.70,351.70" stroke="#8e8e8e" stroke-width="0.70"/><path d="M43.80,344.30 L44.70,351.70" stroke="#8e8e8e" stroke-width="0.70"/><ellipse cx="40.20" cy="344.40" rx="3.60" ry="2.50" fill="#727272" stroke="#8c8c8c" stroke-width="0.50"/>
<path d="M51.30,344.30 L50.40,351.70 Q54.90,353.10 59.40,351.70 L58.50,344.30 Z" fill="url(#pbody)"/><path d="M51.30,344.30 L50.40,351.70" stroke="#8e8e8e" stroke-width="0.70"/><path d="M58.50,344.30 L59.40,351.70" stroke="#8e8e8e" stroke-width="0.70"/><ellipse cx="54.90" cy="344.40" rx="3.60" ry="2.50" fill="#727272" stroke="#8c8c8c" stroke-width="0.50"/>
<path d="M66.00,344.30 L65.10,351.70 Q69.60,353.10 74.10,351.70 L73.20,344.30 Z" fill="url(#pbody)"/><path d="M66.00,344.30 L65.10,351.70" stroke="#8e8e8e" stroke-width="0.70"/><path d="M73.20,344.30 L74.10,351.70" stroke="#8e8e8e" stroke-width="0.70"/><ellipse cx="69.60" cy="344.40" rx="3.60" ry="2.50" fill="#727272" stroke="#8c8c8c" stroke-width="0.50"/>
<path d="M80.70,344.30 L79.80,351.70 Q84.30,353.10 88.80,351.70 L87.90,344.30 Z" fill="url(#pbody)"/><path d="M80.70,344.30 L79.80,351.70" stroke="#8e8e8e" stroke-width="0.70"/><path d="M87.90,344.30 L88.80,351.70" stroke="#8e8e8e" stroke-width="0.70"/><ellipse cx="84.30" cy="344.40" rx="3.60" ry="2.50" fill="#727272" stroke="#8c8c8c" stroke-width="0.50"/>
<path d="M95.40,344.30 L94.50,351.70 Q99.00,353.10 103.50,351.70 L102.60,344.30 Z" fill="url(#pbody)"/><path d="M95.40,344.30 L94.50,351.70" stroke="#8e8e8e" stroke-width="0.70"/><path d="M102.60,344.30 L103.50,351.70" stroke="#8e8e8e" stroke-width="0.70"/><ellipse cx="99.00" cy="344.40" rx="3.60" ry="2.50" fill="#727272" stroke="#8c8c8c" stroke-width="0.50"/>
<path d="M110.10,344.30 L109.20,351.70 Q113.70,353.10 118.20,351.70 L117.30,344.30 Z" fill="url(#pbody)"/><path d="M110.10,344.30 L109.20,351.70" stroke="#8e8e8e" stroke-width="0.70"/><path d="M117.30,344.30 L118.20,351.70" stroke="#8e8e8e" stroke-width="0.70"/><ellipse cx="113.70" cy="344.40" rx="3.60" ry="2.50" fill="#727272" stroke="#8c8c8c" stroke-width="0.50"/>
<path d="M124.80,344.30 L123.90,351.70 Q128.40,353.10 132.90,351.70 L132.00,344.30 Z" fill="url(#pbody)"/><path d="M124.80,344.30 L123.90,351.70" stroke="#8e8e8e" stroke-width="0.70"/><path d="M132.00,344.30 L132.90,351.70" stroke="#8e8e8e" stroke-width="0.70"/><ellipse cx="128.40" cy="344.40" rx="3.60" ry="2.50" fill="#727272" stroke="#8c8c8c" stroke-width="0.50"/>
<path d="M139.50,344.30 L138.60,351.70 Q143.10,353.10 147.60,351.70 L146.70,344.30 Z" fill="url(#pbody)"/><path d="M139.50,344.30 L138.60,351.70" stroke="#8e8e8e" stroke-width="0.70"/><path d="M146.70,344.30 L147.60,351.70" stroke="#8e8e8e" stroke-width="0.70"/><ellipse cx="143.10" cy="344.40" rx="3.60" ry="2.50" fill="#727272" stroke="#8c8c8c" stroke-width="0.50"/>
<line x1="62.40" y1="290.20" x2="75.80" y2="290.20" stroke="#e03030" stroke-width="0.7" />
<circle cx="62.4" cy="290.2" r="0.8" fill="#e03030"/><circle cx="75.8" cy="290.2" r="0.8" fill="#e03030"/>
<text x="69.50" y="288.60" font-size="3.5" text-anchor="middle" font-weight="normal" fill="#eee" >P</text>
<line x1="91.50" y1="280.70" x2="91.50" y2="291.00" stroke="#e03030" stroke-width="0.7" />
<text x="87.30" y="286.80" font-size="3.5" text-anchor="middle" font-weight="normal" fill="#eee" >P</text>
<text x="49.50" y="333.20" font-size="4.2" text-anchor="start" font-weight="normal" fill="#f0f0f0" >5 μm</text>
<line x1="43.10" y1="335.40" x2="62.10" y2="335.40" stroke="#f4f4f4" stroke-width="0.9" />
</g>
<g clip-path="url(#semc2)">
<rect x="100" y="263.6" width="39.2" height="36.4" fill="#4a4a4a"/>
<ellipse cx="121" cy="262" rx="14" ry="3.2" fill="#141414"/>
<path d="M109.9,274 L104.8,294.5 Q120,300 135,294.5 L129.9,274 Z" fill="url(#bigp)"/>
<path d="M109.9,274 L104.8,294.5" stroke="#c8c8c8" stroke-width="0.8"/>
<path d="M129.9,274 L135,294.5" stroke="#9a9a9a" stroke-width="0.7"/>
<ellipse cx="119.9" cy="273.9" rx="10" ry="6.3" fill="#888" stroke="#d0d0d0" stroke-width="0.7"/>
<line x1="110.60" y1="274.60" x2="130.10" y2="274.60" stroke="#e02020" stroke-width="0.9" />
<text x="120.30" y="272.00" font-size="3.6" text-anchor="middle" font-weight="normal" fill="#ddd" >d</text>
<text x="119.60" y="285.60" font-size="3.8" text-anchor="middle" font-weight="normal" fill="#ddd" >SiC</text>
<text x="102.40" y="282.50" font-size="3.6" text-anchor="start" font-weight="normal" fill="#ddd" >h</text>
<text x="132.50" y="271.50" font-size="3.4" text-anchor="start" font-weight="normal" fill="#ddd" >θ</text>
<text x="134.20" y="296.80" font-size="3.4" text-anchor="start" font-weight="normal" fill="#ddd" >Si</text>
<text x="101.60" y="296.40" font-size="3.0" text-anchor="start" font-weight="normal" fill="#ddd" >5 μm</text>
<line x1="104.80" y1="273.50" x2="104.80" y2="287.00" stroke="#e02020" stroke-width="0.6" stroke-dasharray="1,0.6"/>
<line x1="134.70" y1="273.50" x2="136.50" y2="287.00" stroke="#e02020" stroke-width="0.6" stroke-dasharray="1,0.6"/>
<line x1="132.80" y1="274.50" x2="133.60" y2="287.00" stroke="#e02020" stroke-width="0.6" stroke-dasharray="1,0.6"/>
<line x1="101.00" y1="298.60" x2="115.00" y2="298.60" stroke="#f0f0f0" stroke-width="0.9" />
</g>
<path d="M100,263.6 L100,300 L139.2,300" fill="none" stroke="#cfcfcf" stroke-width="0.8"/>
<g fill="none" stroke-linejoin="round">
<path d="M35.90,387.50 L36.70,387.24 L37.78,386.92 L39.07,386.54 L40.49,386.10 L41.97,385.61 L43.44,385.08 L44.80,384.51 L46.00,383.90 L47.03,383.25 L47.98,382.54 L48.86,381.78 L49.71,380.99 L50.55,380.15 L51.41,379.29 L52.32,378.41 L53.30,377.50 L54.35,376.55 L55.45,375.53 L56.58,374.48 L57.74,373.40 L58.91,372.32 L60.08,371.27 L61.25,370.25 L62.40,369.30 L63.54,368.41 L64.67,367.55 L65.81,366.73 L66.94,365.93 L68.08,365.15 L69.22,364.39 L70.36,363.64 L71.50,362.90 L72.65,362.18 L73.80,361.48 L74.95,360.81 L76.10,360.15 L77.25,359.49 L78.40,358.82 L79.55,358.12 L80.70,357.40 L81.88,356.62 L83.12,355.80 L84.38,354.94 L85.63,354.07 L86.82,353.23 L87.94,352.42 L88.95,351.67 L89.80,351.00 L90.49,350.41 L91.04,349.88 L91.47,349.40 L91.83,348.96 L92.13,348.55 L92.40,348.18 L92.68,347.83 L93.00,347.50 L93.33,347.17 L93.63,346.85 L93.91,346.54 L94.18,346.26 L94.45,346.04 L94.72,345.87 L95.00,345.79 L95.30,345.80 L95.61,345.92 L95.92,346.14 L96.24,346.43 L96.56,346.79 L96.90,347.20 L97.25,347.63 L97.61,348.07 L98.00,348.50 L98.42,348.93 L98.86,349.37 L99.33,349.84 L99.81,350.32 L100.30,350.83 L100.78,351.36 L101.25,351.92 L101.70,352.50 L102.13,353.13 L102.56,353.80 L102.98,354.52 L103.39,355.25 L103.79,355.98 L104.20,356.70 L104.60,357.37 L105.00,358.00 L105.38,358.58 L105.74,359.14 L106.08,359.67 L106.42,360.18 L106.78,360.66 L107.17,361.13 L107.60,361.57 L108.10,362.00 L108.64,362.42 L109.20,362.82 L109.79,363.21 L110.42,363.57 L111.10,363.91 L111.83,364.22 L112.63,364.48 L113.50,364.70 L114.48,364.88 L115.58,365.02 L116.76,365.13 L117.98,365.21 L119.22,365.24 L120.44,365.24 L121.61,365.19 L122.70,365.10 L123.71,364.97 L124.68,364.81 L125.62,364.61 L126.53,364.37 L127.41,364.08 L128.28,363.74 L129.14,363.35 L130.00,362.90 L130.87,362.39 L131.74,361.82 L132.61,361.21 L133.46,360.54 L134.28,359.82 L135.05,359.06 L135.76,358.25 L136.40,357.40 L136.95,356.51 L137.41,355.56 L137.82,354.58 L138.18,353.54 L138.50,352.47 L138.82,351.35 L139.15,350.19 L139.50,349.00 L139.87,347.81 L140.22,346.64 L140.58,345.46 L140.92,344.23 L141.27,342.90 L141.61,341.44 L141.96,339.82 L142.30,338.00 L142.64,335.91 L142.98,333.55 L143.32,331.01 L143.65,328.34 L143.98,325.64 L144.32,322.96 L144.66,320.39 L145.00,318.00 L145.35,315.78 L145.70,313.67 L146.05,311.63 L146.40,309.64 L146.75,307.66 L147.10,305.66 L147.45,303.62 L147.80,301.50 L148.14,299.23 L148.49,296.82 L148.83,294.33 L149.18,291.84 L149.51,289.42 L149.85,287.14 L150.18,285.07 L150.50,283.30 L150.81,281.75 L151.12,280.32 L151.41,279.04 L151.71,277.94 L152.00,277.04 L152.29,276.37 L152.59,275.95 L152.90,275.80 L153.21,275.95 L153.52,276.37 L153.83,277.04 L154.15,277.94 L154.47,279.04 L154.80,280.32 L155.14,281.75 L155.50,283.30 L155.88,285.06 L156.28,287.09 L156.70,289.33 L157.12,291.71 L157.54,294.18 L157.95,296.68 L158.34,299.14 L158.70,301.50 L159.03,303.80 L159.34,306.12 L159.63,308.44 L159.91,310.76 L160.18,313.09 L160.45,315.40 L160.72,317.71 L161.00,320.00 L161.29,322.30 L161.59,324.63 L161.89,326.96 L162.19,329.28 L162.48,331.56 L162.77,333.79 L163.04,335.94 L163.30,338.00 L163.53,339.90 L163.73,341.64 L163.91,343.28 L164.09,344.88 L164.27,346.49 L164.48,348.17 L164.72,349.99 L165.00,352.00 L165.34,354.28 L165.73,356.81 L166.15,359.50 L166.59,362.25 L167.04,364.97 L167.48,367.56 L167.91,369.94 L168.30,372.00 L168.65,373.74 L168.97,375.24 L169.27,376.56 L169.57,377.73 L169.87,378.81 L170.21,379.85 L170.58,380.90 L171.00,382.00 L171.48,383.13 L172.00,384.24 L172.55,385.33 L173.13,386.39 L173.73,387.42 L174.35,388.41 L174.97,389.37 L175.60,390.30 L176.24,391.19 L176.89,392.03 L177.56,392.84 L178.24,393.63 L178.93,394.38 L179.62,395.10 L180.31,395.81 L181.00,396.50 L181.68,397.18 L182.37,397.83 L183.06,398.47 L183.74,399.09 L184.43,399.67 L185.12,400.22 L185.81,400.73 L186.50,401.20 L187.19,401.62 L187.88,401.99 L188.56,402.32 L189.25,402.61 L189.94,402.88 L190.62,403.13 L191.31,403.37 L192.00,403.60 L192.69,403.82 L193.38,404.03 L194.06,404.23 L194.75,404.40 L195.44,404.56 L196.12,404.69 L196.81,404.81 L197.50,404.90 L198.19,404.97 L198.88,405.01 L199.57,405.03 L200.26,405.04 L200.94,405.02 L201.63,404.99 L202.32,404.95 L203.00,404.90 L203.69,404.83 L204.38,404.75 L205.07,404.65 L205.76,404.54 L206.44,404.41 L207.11,404.28 L207.76,404.14 L208.40,404.00 L209.00,403.86 L209.56,403.71 L210.10,403.55 L210.64,403.39 L211.18,403.21 L211.74,403.03 L212.34,402.82 L213.00,402.60 L213.71,402.37 L214.47,402.12 L215.26,401.87 L216.08,401.60 L216.91,401.31 L217.74,401.00 L218.58,400.67 L219.40,400.30 L220.21,399.90 L221.03,399.45 L221.85,398.98 L222.68,398.49 L223.50,397.98 L224.33,397.48 L225.16,396.98 L226.00,396.50 L226.84,396.05 L227.68,395.64 L228.52,395.24 L229.36,394.84 L230.21,394.41 L231.07,393.94 L231.93,393.41 L232.80,392.80 L233.68,392.12 L234.55,391.39 L235.44,390.62 L236.33,389.79 L237.22,388.92 L238.13,388.00 L239.06,387.02 L240.00,386.00 L240.96,384.91 L241.94,383.75 L242.94,382.53 L243.95,381.26 L244.96,379.96 L245.98,378.65 L246.99,377.32 L248.00,376.00 L249.01,374.65 L250.02,373.25 L251.04,371.82 L252.06,370.38 L253.07,368.95 L254.07,367.56 L255.05,366.24 L256.00,365.00 L256.92,363.82 L257.81,362.68 L258.68,361.57 L259.53,360.52 L260.38,359.52 L261.24,358.60 L262.11,357.75 L263.00,357.00 L263.92,356.32 L264.86,355.70 L265.82,355.15 L266.78,354.67 L267.74,354.28 L268.68,353.99 L269.61,353.79 L270.50,353.70 L271.35,353.74 L272.16,353.90 L272.94,354.16 L273.72,354.52 L274.50,354.95 L275.29,355.43 L276.12,355.96 L277.00,356.50 L277.93,357.09 L278.90,357.75 L279.90,358.47 L280.93,359.23 L281.96,360.03 L282.99,360.85 L284.00,361.68 L285.00,362.50 L285.98,363.35 L286.96,364.24 L287.93,365.16 L288.89,366.09 L289.85,367.01 L290.81,367.92 L291.76,368.79 L292.70,369.60 L293.64,370.37 L294.58,371.11 L295.52,371.83 L296.46,372.53 L297.38,373.19 L298.28,373.82 L299.15,374.43 L300.00,375.00 L300.80,375.54 L301.56,376.04 L302.28,376.51 L302.99,376.95 L303.70,377.37 L304.43,377.76 L305.19,378.14 L306.00,378.50 L306.87,378.83 L307.80,379.13 L308.75,379.39 L309.72,379.64 L310.70,379.89 L311.67,380.14 L312.60,380.41 L313.50,380.70 L314.40,381.04 L315.33,381.42 L316.26,381.83 L317.17,382.24 L318.02,382.63 L318.78,382.98 L319.41,383.28 L319.90,383.50" stroke="#e23a33" stroke-width="1.35" stroke-dasharray="6.2,3.2"/>
<path d="M35.50,400.47 L35.91,400.47 L36.31,400.46 L36.72,400.45 L37.13,400.44 L37.54,400.43 L37.94,400.42 L38.35,400.41 L38.76,400.40 L39.16,400.39 L39.57,400.38 L39.98,400.37 L40.38,400.36 L40.79,400.35 L41.20,400.34 L41.61,400.33 L42.01,400.32 L42.42,400.31 L42.83,400.30 L43.23,400.29 L43.64,400.28 L44.05,400.27 L44.45,400.26 L44.86,400.25 L45.27,400.24 L45.68,400.23 L46.08,400.21 L46.49,400.20 L46.90,400.19 L47.30,400.18 L47.71,400.17 L48.12,400.16 L48.52,400.14 L48.93,400.13 L49.34,400.12 L49.75,400.11 L50.15,400.09 L50.56,400.08 L50.97,400.07 L51.37,400.05 L51.78,400.04 L52.19,400.03 L52.59,400.01 L53.00,400.00 L53.41,399.98 L53.82,399.97 L54.22,399.96 L54.63,399.94 L55.04,399.93 L55.44,399.91 L55.85,399.90 L56.26,399.88 L56.66,399.87 L57.07,399.85 L57.48,399.83 L57.89,399.82 L58.29,399.80 L58.70,399.78 L59.11,399.77 L59.51,399.75 L59.92,399.73 L60.33,399.72 L60.73,399.70 L61.14,399.68 L61.55,399.66 L61.96,399.64 L62.36,399.63 L62.77,399.61 L63.18,399.59 L63.58,399.57 L63.99,399.55 L64.40,399.53 L64.80,399.51 L65.21,399.49 L65.62,399.47 L66.03,399.45 L66.43,399.43 L66.84,399.40 L67.25,399.38 L67.65,399.36 L68.06,399.34 L68.47,399.31 L68.87,399.29 L69.28,399.27 L69.69,399.24 L70.10,399.22 L70.50,399.20 L70.91,399.17 L71.32,399.15 L71.72,399.12 L72.13,399.09 L72.54,399.07 L72.94,399.04 L73.35,399.01 L73.76,398.99 L74.17,398.96 L74.57,398.93 L74.98,398.90 L75.39,398.87 L75.79,398.84 L76.20,398.81 L76.61,398.78 L77.02,398.75 L77.42,398.72 L77.83,398.69 L78.24,398.65 L78.64,398.62 L79.05,398.59 L79.46,398.55 L79.86,398.52 L80.27,398.48 L80.68,398.45 L81.09,398.41 L81.49,398.37 L81.90,398.34 L82.31,398.30 L82.71,398.26 L83.12,398.22 L83.53,398.18 L83.93,398.14 L84.34,398.10 L84.75,398.05 L85.16,398.01 L85.56,397.97 L85.97,397.92 L86.38,397.88 L86.78,397.83 L87.19,397.78 L87.60,397.74 L88.00,397.69 L88.41,397.64 L88.82,397.59 L89.23,397.53 L89.63,397.48 L90.04,397.43 L90.45,397.37 L90.85,397.32 L91.26,397.26 L91.67,397.20 L92.07,397.15 L92.48,397.09 L92.89,397.02 L93.30,396.96 L93.70,396.90 L94.11,396.83 L94.52,396.77 L94.92,396.70 L95.33,396.63 L95.74,396.56 L96.14,396.49 L96.55,396.42 L96.96,396.34 L97.37,396.27 L97.77,396.19 L98.18,396.11 L98.59,396.03 L98.99,395.95 L99.40,395.86 L99.81,395.77 L100.21,395.69 L100.62,395.60 L101.03,395.50 L101.44,395.41 L101.84,395.31 L102.25,395.21 L102.66,395.11 L103.06,395.01 L103.47,394.91 L103.88,394.80 L104.28,394.69 L104.69,394.57 L105.10,394.46 L105.51,394.34 L105.91,394.22 L106.32,394.09 L106.73,393.97 L107.13,393.84 L107.54,393.70 L107.95,393.56 L108.35,393.42 L108.76,393.28 L109.17,393.13 L109.58,392.98 L109.98,392.82 L110.39,392.66 L110.80,392.50 L111.20,392.33 L111.61,392.16 L112.02,391.98 L112.42,391.80 L112.83,391.61 L113.24,391.42 L113.65,391.22 L114.05,391.02 L114.46,390.81 L114.87,390.59 L115.27,390.37 L115.68,390.14 L116.09,389.91 L116.49,389.67 L116.90,389.42 L117.31,389.16 L117.72,388.90 L118.12,388.62 L118.53,388.34 L118.94,388.05 L119.34,387.76 L119.75,387.45 L120.16,387.13 L120.57,386.80 L120.97,386.46 L121.38,386.11 L121.79,385.75 L122.19,385.38 L122.60,384.99 L123.01,384.59 L123.41,384.18 L123.82,383.75 L124.23,383.31 L124.64,382.85 L125.04,382.37 L125.45,381.88 L125.86,381.37 L126.26,380.84 L126.67,380.30 L127.08,379.73 L127.48,379.14 L127.89,378.53 L128.30,377.89 L128.71,377.23 L129.11,376.55 L129.52,375.84 L129.93,375.10 L130.33,374.33 L130.74,373.53 L131.15,372.70 L131.55,371.83 L131.96,370.93 L132.37,369.99 L132.78,369.02 L133.18,368.00 L133.59,366.94 L134.00,365.84 L134.40,364.68 L134.81,363.49 L135.22,362.24 L135.62,360.93 L136.03,359.57 L136.44,358.16 L136.85,356.68 L137.25,355.14 L137.66,353.54 L138.07,351.86 L138.47,350.12 L138.88,348.31 L139.29,346.42 L139.69,344.45 L140.10,342.41 L140.51,340.29 L140.92,338.08 L141.32,335.79 L141.73,333.42 L142.14,330.97 L142.54,328.43 L142.95,325.82 L143.36,323.13 L143.76,320.36 L144.17,317.53 L144.58,314.63 L144.99,311.69 L145.39,308.70 L145.80,305.67 L146.21,302.63 L146.61,299.59 L147.02,296.56 L147.43,293.57 L147.83,290.64 L148.24,287.79 L148.65,285.04 L149.06,282.43 L149.46,279.98 L149.87,277.71 L150.28,275.66 L150.68,273.85 L151.09,272.30 L151.50,271.03 L151.90,270.07 L152.31,269.42 L152.72,269.10 L153.13,269.10 L153.53,269.44 L153.94,270.10 L154.35,271.08 L154.75,272.36 L155.16,273.92 L155.57,275.75 L155.97,277.81 L156.38,280.08 L156.79,282.54 L157.20,285.16 L157.60,287.92 L158.01,290.77 L158.42,293.71 L158.82,296.70 L159.23,299.73 L159.64,302.77 L160.05,305.81 L160.45,308.83 L160.86,311.82 L161.27,314.77 L161.67,317.66 L162.08,320.49 L162.49,323.25 L162.89,325.94 L163.30,328.55 L163.71,331.08 L164.12,333.53 L164.52,335.90 L164.93,338.18 L165.34,340.38 L165.74,342.50 L166.15,344.54 L166.56,346.51 L166.96,348.39 L167.37,350.20 L167.78,351.94 L168.19,353.61 L168.59,355.21 L169.00,356.75 L169.41,358.22 L169.81,359.64 L170.22,360.99 L170.63,362.29 L171.03,363.54 L171.44,364.74 L171.85,365.89 L172.26,366.99 L172.66,368.05 L173.07,369.06 L173.48,370.04 L173.88,370.97 L174.29,371.87 L174.70,372.74 L175.10,373.57 L175.51,374.36 L175.92,375.13 L176.33,375.87 L176.73,376.58 L177.14,377.26 L177.55,377.92 L177.95,378.56 L178.36,379.17 L178.77,379.75 L179.17,380.32 L179.58,380.87 L179.99,381.40 L180.40,381.90 L180.80,382.40 L181.21,382.87 L181.62,383.33 L182.02,383.77 L182.43,384.20 L182.84,384.61 L183.24,385.01 L183.65,385.39 L184.06,385.77 L184.47,386.13 L184.87,386.48 L185.28,386.82 L185.69,387.14 L186.09,387.46 L186.50,387.77 L186.91,388.07 L187.31,388.36 L187.72,388.64 L188.13,388.91 L188.54,389.17 L188.94,389.43 L189.35,389.68 L189.76,389.92 L190.16,390.15 L190.57,390.38 L190.98,390.60 L191.38,390.82 L191.79,391.03 L192.20,391.23 L192.61,391.43 L193.01,391.62 L193.42,391.81 L193.83,391.99 L194.23,392.17 L194.64,392.34 L195.05,392.51 L195.45,392.67 L195.86,392.83 L196.27,392.99 L196.68,393.14 L197.08,393.29 L197.49,393.43 L197.90,393.57 L198.30,393.71 L198.71,393.84 L199.12,393.97 L199.53,394.10 L199.93,394.22 L200.34,394.34 L200.75,394.46 L201.15,394.58 L201.56,394.69 L201.97,394.80 L202.37,394.91 L202.78,395.02 L203.19,395.12 L203.60,395.22 L204.00,395.32 L204.41,395.41 L204.82,395.51 L205.22,395.60 L205.63,395.69 L206.04,395.78 L206.44,395.87 L206.85,395.95 L207.26,396.03 L207.67,396.11 L208.07,396.19 L208.48,396.27 L208.89,396.35 L209.29,396.42 L209.70,396.49 L210.11,396.57 L210.51,396.64 L210.92,396.70 L211.33,396.77 L211.74,396.84 L212.14,396.90 L212.55,396.97 L212.96,397.03 L213.36,397.09 L213.77,397.15 L214.18,397.21 L214.58,397.26 L214.99,397.32 L215.40,397.38 L215.81,397.43 L216.21,397.48 L216.62,397.54 L217.03,397.59 L217.43,397.64 L217.84,397.69 L218.25,397.74 L218.65,397.79 L219.06,397.83 L219.47,397.88 L219.88,397.92 L220.28,397.97 L220.69,398.01 L221.10,398.06 L221.50,398.10 L221.91,398.14 L222.32,398.18 L222.72,398.22 L223.13,398.26 L223.54,398.30 L223.95,398.34 L224.35,398.38 L224.76,398.41 L225.17,398.45 L225.57,398.49 L225.98,398.52 L226.39,398.56 L226.79,398.59 L227.20,398.62 L227.61,398.66 L228.02,398.69 L228.42,398.72 L228.83,398.75 L229.24,398.78 L229.64,398.81 L230.05,398.84 L230.46,398.87 L230.86,398.90 L231.27,398.93 L231.68,398.96 L232.09,398.99 L232.49,399.02 L232.90,399.04 L233.31,399.07 L233.71,399.10 L234.12,399.12 L234.53,399.15 L234.93,399.17 L235.34,399.20 L235.75,399.22 L236.16,399.25 L236.56,399.27 L236.97,399.29 L237.38,399.32 L237.78,399.34 L238.19,399.36 L238.60,399.38 L239.01,399.41 L239.41,399.43 L239.82,399.45 L240.23,399.47 L240.63,399.49 L241.04,399.51 L241.45,399.53 L241.85,399.55 L242.26,399.57 L242.67,399.59 L243.08,399.61 L243.48,399.63 L243.89,399.65 L244.30,399.66 L244.70,399.68 L245.11,399.70 L245.52,399.72 L245.92,399.73 L246.33,399.75 L246.74,399.77 L247.15,399.79 L247.55,399.80 L247.96,399.82 L248.37,399.83 L248.77,399.85 L249.18,399.87 L249.59,399.88 L249.99,399.90 L250.40,399.91 L250.81,399.93 L251.22,399.94 L251.62,399.96 L252.03,399.97 L252.44,399.99 L252.84,400.00 L253.25,400.01 L253.66,400.03 L254.06,400.04 L254.47,400.05 L254.88,400.07 L255.29,400.08 L255.69,400.09 L256.10,400.11 L256.51,400.12 L256.91,400.13 L257.32,400.14 L257.73,400.16 L258.13,400.17 L258.54,400.18 L258.95,400.19 L259.36,400.20 L259.76,400.21 L260.17,400.23 L260.58,400.24 L260.98,400.25 L261.39,400.26 L261.80,400.27 L262.20,400.28 L262.61,400.29 L263.02,400.30 L263.43,400.31 L263.83,400.32 L264.24,400.33 L264.65,400.34 L265.05,400.35 L265.46,400.36 L265.87,400.37 L266.27,400.38 L266.68,400.39 L267.09,400.40 L267.50,400.41 L267.90,400.42 L268.31,400.43 L268.72,400.44 L269.12,400.45 L269.53,400.46 L269.94,400.47 L270.34,400.47 L270.75,400.48 L271.16,400.49 L271.57,400.50 L271.97,400.51 L272.38,400.52 L272.79,400.53 L273.19,400.53 L273.60,400.54 L274.01,400.55 L274.41,400.56 L274.82,400.57 L275.23,400.57 L275.64,400.58 L276.04,400.59 L276.45,400.60 L276.86,400.60 L277.26,400.61 L277.67,400.62 L278.08,400.63 L278.48,400.63 L278.89,400.64 L279.30,400.65 L279.71,400.65 L280.11,400.66 L280.52,400.67 L280.93,400.67 L281.33,400.68 L281.74,400.69 L282.15,400.69 L282.56,400.70 L282.96,400.71 L283.37,400.71 L283.78,400.72 L284.18,400.73 L284.59,400.73 L285.00,400.74 L285.40,400.74 L285.81,400.75 L286.22,400.76 L286.63,400.76 L287.03,400.77 L287.44,400.77 L287.85,400.78 L288.25,400.79 L288.66,400.79 L289.07,400.80 L289.47,400.80 L289.88,400.81 L290.29,400.81 L290.70,400.82 L291.10,400.82 L291.51,400.83 L291.92,400.83 L292.32,400.84 L292.73,400.84 L293.14,400.85 L293.54,400.86 L293.95,400.86 L294.36,400.87 L294.77,400.87 L295.17,400.88 L295.58,400.88 L295.99,400.89 L296.39,400.89 L296.80,400.89 L297.21,400.90 L297.61,400.90 L298.02,400.91 L298.43,400.91 L298.84,400.92 L299.24,400.92 L299.65,400.93 L300.06,400.93 L300.46,400.94 L300.87,400.94 L301.28,400.94 L301.68,400.95 L302.09,400.95 L302.50,400.96 L302.91,400.96 L303.31,400.97 L303.72,400.97 L304.13,400.97 L304.53,400.98 L304.94,400.98 L305.35,400.99 L305.75,400.99 L306.16,400.99 L306.57,401.00 L306.98,401.00 L307.38,401.01 L307.79,401.01 L308.20,401.01 L308.60,401.02 L309.01,401.02 L309.42,401.02 L309.82,401.03 L310.23,401.03 L310.64,401.04 L311.05,401.04 L311.45,401.04 L311.86,401.05 L312.27,401.05 L312.67,401.05 L313.08,401.06 L313.49,401.06 L313.89,401.06 L314.30,401.07 L314.71,401.07 L315.12,401.07 L315.52,401.08 L315.93,401.08 L316.34,401.08 L316.74,401.09 L317.15,401.09 L317.56,401.09 L317.96,401.10 L318.37,401.10 L318.78,401.10 L319.19,401.11 L319.59,401.11 L320.00,401.11" stroke="#333" stroke-width="1.35"/>
<path d="M35.90,400.30 L36.14,400.01 L36.45,399.63 L36.83,399.18 L37.24,398.68 L37.69,398.14 L38.14,397.58 L38.58,397.03 L39.00,396.50 L39.39,396.01 L39.78,395.55 L40.17,395.10 L40.56,394.63 L40.96,394.12 L41.38,393.54 L41.82,392.88 L42.30,392.10 L42.81,391.18 L43.36,390.11 L43.93,388.95 L44.52,387.73 L45.13,386.49 L45.73,385.26 L46.32,384.08 L46.90,383.00 L47.48,381.95 L48.07,380.87 L48.67,379.80 L49.26,378.76 L49.84,377.80 L50.40,376.95 L50.92,376.24 L51.40,375.70 L51.83,375.36 L52.20,375.18 L52.54,375.14 L52.86,375.21 L53.17,375.36 L53.48,375.56 L53.82,375.78 L54.20,376.00 L54.60,376.26 L55.02,376.60 L55.45,377.01 L55.89,377.44 L56.34,377.89 L56.81,378.31 L57.30,378.69 L57.80,379.00 L58.32,379.25 L58.86,379.48 L59.41,379.69 L59.98,379.86 L60.57,380.00 L61.16,380.11 L61.78,380.18 L62.40,380.20 L63.04,380.16 L63.71,380.07 L64.40,379.92 L65.09,379.74 L65.80,379.55 L66.50,379.35 L67.21,379.16 L67.90,379.00 L68.59,378.88 L69.28,378.79 L69.97,378.71 L70.66,378.63 L71.34,378.53 L72.03,378.38 L72.72,378.18 L73.40,377.90 L74.10,377.49 L74.82,376.96 L75.55,376.34 L76.28,375.69 L76.98,375.07 L77.64,374.51 L78.25,374.07 L78.80,373.80 L79.27,373.71 L79.68,373.76 L80.05,373.92 L80.37,374.16 L80.66,374.43 L80.94,374.72 L81.22,374.99 L81.50,375.20 L81.77,375.43 L82.01,375.75 L82.24,376.11 L82.45,376.44 L82.66,376.71 L82.89,376.86 L83.13,376.84 L83.40,376.60 L83.69,376.15 L84.00,375.54 L84.31,374.78 L84.64,373.89 L84.98,372.89 L85.34,371.78 L85.71,370.58 L86.10,369.30 L86.52,367.86 L86.98,366.21 L87.46,364.41 L87.95,362.53 L88.44,360.65 L88.92,358.82 L89.38,357.11 L89.80,355.60 L90.19,354.24 L90.56,352.96 L90.92,351.75 L91.26,350.62 L91.59,349.58 L91.90,348.62 L92.21,347.76 L92.50,347.00 L92.78,346.34 L93.03,345.77 L93.27,345.30 L93.50,344.92 L93.72,344.62 L93.94,344.41 L94.17,344.27 L94.40,344.20 L94.64,344.22 L94.88,344.34 L95.12,344.55 L95.36,344.84 L95.60,345.19 L95.84,345.59 L96.07,346.03 L96.30,346.50 L96.51,346.96 L96.69,347.42 L96.86,347.89 L97.04,348.43 L97.22,349.06 L97.44,349.83 L97.69,350.76 L98.00,351.90 L98.37,353.30 L98.79,354.95 L99.25,356.78 L99.73,358.74 L100.23,360.75 L100.74,362.76 L101.23,364.70 L101.70,366.50 L102.15,368.21 L102.58,369.91 L103.01,371.59 L103.44,373.24 L103.88,374.85 L104.33,376.40 L104.80,377.89 L105.30,379.30 L105.84,380.69 L106.41,382.09 L107.02,383.47 L107.63,384.77 L108.24,385.96 L108.83,386.99 L109.39,387.81 L109.90,388.40 L110.36,388.69 L110.80,388.70 L111.20,388.50 L111.59,388.15 L111.95,387.71 L112.31,387.25 L112.66,386.82 L113.00,386.50 L113.32,386.24 L113.60,385.97 L113.86,385.70 L114.11,385.42 L114.38,385.15 L114.67,384.88 L115.00,384.63 L115.40,384.40 L115.86,384.16 L116.38,383.90 L116.93,383.64 L117.51,383.40 L118.11,383.19 L118.72,383.05 L119.32,382.97 L119.90,383.00 L120.47,383.15 L121.04,383.41 L121.62,383.75 L122.19,384.15 L122.77,384.57 L123.35,384.99 L123.92,385.38 L124.50,385.70 L125.07,386.02 L125.63,386.41 L126.19,386.80 L126.75,387.17 L127.32,387.47 L127.89,387.65 L128.49,387.67 L129.10,387.50 L129.75,387.11 L130.44,386.54 L131.15,385.82 L131.87,384.98 L132.58,384.06 L133.26,383.08 L133.91,382.09 L134.50,381.10 L135.04,380.07 L135.54,378.93 L136.02,377.73 L136.46,376.49 L136.88,375.27 L137.28,374.09 L137.65,372.98 L138.00,372.00 L138.32,371.17 L138.61,370.47 L138.86,369.85 L139.09,369.27 L139.32,368.70 L139.54,368.07 L139.76,367.35 L140.00,366.50 L140.25,365.52 L140.50,364.46 L140.75,363.34 L140.99,362.16 L141.24,360.92 L141.49,359.64 L141.75,358.33 L142.00,357.00 L142.26,355.71 L142.51,354.48 L142.77,353.25 L143.02,351.97 L143.29,350.56 L143.55,348.97 L143.82,347.14 L144.10,345.00 L144.38,342.50 L144.68,339.66 L144.97,336.58 L145.27,333.31 L145.58,329.95 L145.89,326.55 L146.19,323.21 L146.50,320.00 L146.81,316.80 L147.13,313.50 L147.45,310.16 L147.78,306.84 L148.09,303.61 L148.41,300.51 L148.71,297.62 L149.00,295.00 L149.27,292.62 L149.54,290.43 L149.79,288.40 L150.04,286.53 L150.28,284.82 L150.52,283.25 L150.76,281.81 L151.00,280.50 L151.24,279.31 L151.48,278.23 L151.72,277.29 L151.96,276.50 L152.19,275.86 L152.43,275.39 L152.66,275.10 L152.90,275.00 L153.14,275.09 L153.37,275.37 L153.60,275.82 L153.83,276.44 L154.07,277.22 L154.30,278.16 L154.55,279.26 L154.80,280.50 L155.06,281.90 L155.33,283.47 L155.61,285.21 L155.89,287.09 L156.18,289.13 L156.46,291.29 L156.73,293.59 L157.00,296.00 L157.26,298.59 L157.52,301.38 L157.78,304.33 L158.04,307.41 L158.29,310.55 L158.53,313.73 L158.77,316.89 L159.00,320.00 L159.22,323.13 L159.42,326.37 L159.62,329.65 L159.81,332.94 L160.00,336.17 L160.19,339.29 L160.39,342.25 L160.60,345.00 L160.82,347.53 L161.05,349.89 L161.28,352.11 L161.52,354.21 L161.76,356.22 L162.00,358.17 L162.25,360.09 L162.50,362.00 L162.75,363.91 L163.00,365.81 L163.26,367.66 L163.52,369.46 L163.78,371.18 L164.05,372.80 L164.32,374.32 L164.60,375.70 L164.88,376.94 L165.16,378.05 L165.45,379.05 L165.74,379.96 L166.04,380.79 L166.35,381.56 L166.67,382.29 L167.00,383.00 L167.32,383.65 L167.60,384.21 L167.89,384.69 L168.19,385.14 L168.53,385.56 L168.93,386.00 L169.41,386.47 L170.00,387.00 L170.71,387.59 L171.51,388.23 L172.40,388.88 L173.35,389.56 L174.34,390.23 L175.36,390.88 L176.39,391.51 L177.40,392.10 L178.41,392.65 L179.44,393.19 L180.49,393.71 L181.56,394.21 L182.64,394.69 L183.74,395.15 L184.86,395.59 L186.00,396.00 L187.10,396.38 L188.15,396.74 L189.18,397.07 L190.25,397.38 L191.39,397.68 L192.65,397.96 L194.07,398.23 L195.70,398.50 L197.51,398.77 L199.47,399.04 L201.56,399.30 L203.77,399.54 L206.12,399.77 L208.60,399.98 L211.19,400.16 L213.90,400.30 L216.88,400.41 L220.20,400.49 L223.73,400.54 L227.34,400.58 L230.90,400.58 L234.28,400.57 L237.36,400.54 L240.00,400.50 L242.22,400.43 L244.13,400.33 L245.80,400.21 L247.26,400.07 L248.56,399.93 L249.75,399.78 L250.88,399.63 L252.00,399.50 L253.04,399.37 L253.93,399.24 L254.70,399.10 L255.39,398.97 L256.04,398.84 L256.66,398.71 L257.31,398.60 L258.00,398.50 L258.73,398.40 L259.46,398.31 L260.18,398.22 L260.89,398.14 L261.60,398.07 L262.31,398.02 L263.01,398.00 L263.70,398.00 L264.37,398.03 L265.01,398.09 L265.64,398.17 L266.27,398.26 L266.91,398.38 L267.56,398.51 L268.26,398.65 L269.00,398.80 L269.75,398.98 L270.47,399.18 L271.19,399.41 L271.96,399.65 L272.79,399.89 L273.72,400.12 L274.78,400.32 L276.00,400.50 L277.31,400.64 L278.64,400.76 L280.04,400.86 L281.57,400.95 L283.28,401.03 L285.22,401.11 L287.44,401.20 L290.00,401.30 L293.18,401.41 L297.06,401.54 L301.36,401.67 L305.82,401.80 L310.18,401.92 L314.15,402.04 L317.48,402.13 L319.90,402.20" stroke="#e23a33" stroke-width="1.35"/>
</g>
<path d="M35.7,257.3 L319.9,257.3 L319.9,405.0 L35.7,405.0 Z" fill="none" stroke="#2a2a2a" stroke-width="1.2"/>
<line x1="35.70" y1="405.00" x2="38.30" y2="405.00" stroke="#2a2a2a" stroke-width="0.9" />
<line x1="319.90" y1="405.00" x2="317.30" y2="405.00" stroke="#2a2a2a" stroke-width="0.9" />
<text x="25.19" y="408.65" font-size="10.2" font-weight="normal" fill="#222" textLength="5.74" lengthAdjust="spacingAndGlyphs" >0</text>
<line x1="35.70" y1="372.40" x2="38.30" y2="372.40" stroke="#2a2a2a" stroke-width="0.9" />
<line x1="319.90" y1="372.40" x2="317.30" y2="372.40" stroke="#2a2a2a" stroke-width="0.9" />
<text x="15.86" y="376.05" font-size="10.2" font-weight="normal" fill="#222" textLength="15.18" lengthAdjust="spacingAndGlyphs" >0.2</text>
<line x1="35.70" y1="339.80" x2="38.30" y2="339.80" stroke="#2a2a2a" stroke-width="0.9" />
<line x1="319.90" y1="339.80" x2="317.30" y2="339.80" stroke="#2a2a2a" stroke-width="0.9" />
<text x="15.87" y="343.45" font-size="10.2" font-weight="normal" fill="#222" textLength="14.95" lengthAdjust="spacingAndGlyphs" >0.4</text>
<line x1="35.70" y1="307.20" x2="38.30" y2="307.20" stroke="#2a2a2a" stroke-width="0.9" />
<line x1="319.90" y1="307.20" x2="317.30" y2="307.20" stroke="#2a2a2a" stroke-width="0.9" />
<text x="15.86" y="310.85" font-size="10.2" font-weight="normal" fill="#222" textLength="15.13" lengthAdjust="spacingAndGlyphs" >0.6</text>
<line x1="35.70" y1="274.60" x2="38.30" y2="274.60" stroke="#2a2a2a" stroke-width="0.9" />
<line x1="319.90" y1="274.60" x2="317.30" y2="274.60" stroke="#2a2a2a" stroke-width="0.9" />
<text x="15.86" y="278.25" font-size="10.2" font-weight="normal" fill="#222" textLength="15.13" lengthAdjust="spacingAndGlyphs" >0.8</text>
<line x1="35.50" y1="405.00" x2="35.50" y2="402.40" stroke="#2a2a2a" stroke-width="0.9" />
<line x1="35.50" y1="257.30" x2="35.50" y2="259.90" stroke="#2a2a2a" stroke-width="0.9" />
<text x="26.79" y="418.75" font-size="10.2" font-weight="normal" fill="#222" textLength="19.68" lengthAdjust="spacingAndGlyphs" >12.5</text>
<line x1="92.40" y1="405.00" x2="92.40" y2="402.40" stroke="#2a2a2a" stroke-width="0.9" />
<line x1="92.40" y1="257.30" x2="92.40" y2="259.90" stroke="#2a2a2a" stroke-width="0.9" />
<text x="83.69" y="418.75" font-size="10.2" font-weight="normal" fill="#222" textLength="19.78" lengthAdjust="spacingAndGlyphs" >12.7</text>
<line x1="149.30" y1="405.00" x2="149.30" y2="402.40" stroke="#2a2a2a" stroke-width="0.9" />
<line x1="149.30" y1="257.30" x2="149.30" y2="259.90" stroke="#2a2a2a" stroke-width="0.9" />
<text x="140.59" y="418.75" font-size="10.2" font-weight="normal" fill="#222" textLength="19.73" lengthAdjust="spacingAndGlyphs" >12.9</text>
<line x1="206.20" y1="405.00" x2="206.20" y2="402.40" stroke="#2a2a2a" stroke-width="0.9" />
<line x1="206.20" y1="257.30" x2="206.20" y2="259.90" stroke="#2a2a2a" stroke-width="0.9" />
<text x="197.49" y="418.75" font-size="10.2" font-weight="normal" fill="#222" textLength="19.73" lengthAdjust="spacingAndGlyphs" >13.1</text>
<line x1="263.10" y1="405.00" x2="263.10" y2="402.40" stroke="#2a2a2a" stroke-width="0.9" />
<line x1="263.10" y1="257.30" x2="263.10" y2="259.90" stroke="#2a2a2a" stroke-width="0.9" />
<text x="254.39" y="418.75" font-size="10.2" font-weight="normal" fill="#222" textLength="19.73" lengthAdjust="spacingAndGlyphs" >13.3</text>
<line x1="320.00" y1="405.00" x2="320.00" y2="402.40" stroke="#2a2a2a" stroke-width="0.9" />
<line x1="320.00" y1="257.30" x2="320.00" y2="259.90" stroke="#2a2a2a" stroke-width="0.9" />
<text x="311.29" y="418.75" font-size="10.2" font-weight="normal" fill="#222" textLength="19.68" lengthAdjust="spacingAndGlyphs" >13.5</text>
<text x="139.05" y="433.90" font-size="10.2" font-weight="normal" fill="#222" textLength="77.68" lengthAdjust="spacingAndGlyphs" >Wavelength (μm)</text>
<text x="0" y="0" font-size="8.6" font-weight="normal" fill="#e02a2a" textLength="56.40" lengthAdjust="spacingAndGlyphs" transform="translate(10.50,358.95) rotate(-90)" >Absorptance</text>
<line x1="249.20" y1="269.60" x2="267.50" y2="269.60" stroke="#e23a33" stroke-width="1.35" />
<line x1="249.20" y1="282.00" x2="267.50" y2="282.00" stroke="#e23a33" stroke-width="1.35" stroke-dasharray="2,1.3"/>
<line x1="249.20" y1="294.00" x2="267.50" y2="294.00" stroke="#333" stroke-width="1.35" />
<text x="273.50" y="272.82" font-size="9.0" font-weight="normal" fill="#222" textLength="41.06" lengthAdjust="spacingAndGlyphs" >Simulation</text>
<text x="273.20" y="285.22" font-size="9.0" font-weight="normal" fill="#222" textLength="44.17" lengthAdjust="spacingAndGlyphs" >Experiment</text>
<text x="273.73" y="297.22" font-size="9.0" font-weight="normal" fill="#222" textLength="26.59" lengthAdjust="spacingAndGlyphs" >Theory</text>
<defs><clipPath id="semd"><rect x="350.2" y="291.1" width="95.9" height="86.4"/></clipPath><linearGradient id="crossg" x1="0" y1="0" x2="0" y2="1"><stop offset="0" stop-color="#c8c8a8"/><stop offset="1" stop-color="#a2a284"/></linearGradient><filter id="bl05"><feGaussianBlur stdDeviation="0.35"/></filter></defs>
<g clip-path="url(#semd)">
<rect x="350.2" y="291.1" width="95.9" height="86.4" fill="#4f5f6f"/>
<g stroke="#d4d0a0" stroke-width="0.75" filter="url(#bl05)">
<path d="M352.50,295.40 H357.50 M355.00,292.90 V297.90"/>
<path d="M363.35,295.40 H368.35 M365.85,292.90 V297.90"/>
<path d="M374.20,295.40 H379.20 M376.70,292.90 V297.90"/>
<path d="M385.05,295.40 H390.05 M387.55,292.90 V297.90"/>
<path d="M395.90,295.40 H400.90 M398.40,292.90 V297.90"/>
<path d="M406.75,295.40 H411.75 M409.25,292.90 V297.90"/>
<path d="M417.60,295.40 H422.60 M420.10,292.90 V297.90"/>
<path d="M428.45,295.40 H433.45 M430.95,292.90 V297.90"/>
<path d="M439.30,295.40 H444.30 M441.80,292.90 V297.90"/>
<path d="M352.50,306.30 H357.50 M355.00,303.80 V308.80"/>
<path d="M363.35,306.30 H368.35 M365.85,303.80 V308.80"/>
<path d="M374.20,306.30 H379.20 M376.70,303.80 V308.80"/>
<path d="M385.05,306.30 H390.05 M387.55,303.80 V308.80"/>
<path d="M395.90,306.30 H400.90 M398.40,303.80 V308.80"/>
<path d="M406.75,306.30 H411.75 M409.25,303.80 V308.80"/>
<path d="M417.60,306.30 H422.60 M420.10,303.80 V308.80"/>
<path d="M428.45,306.30 H433.45 M430.95,303.80 V308.80"/>
<path d="M439.30,306.30 H444.30 M441.80,303.80 V308.80"/>
<path d="M352.50,317.20 H357.50 M355.00,314.70 V319.70"/>
<path d="M363.35,317.20 H368.35 M365.85,314.70 V319.70"/>
<path d="M374.20,317.20 H379.20 M376.70,314.70 V319.70"/>
<path d="M385.05,317.20 H390.05 M387.55,314.70 V319.70"/>
<path d="M395.90,317.20 H400.90 M398.40,314.70 V319.70"/>
<path d="M406.75,317.20 H411.75 M409.25,314.70 V319.70"/>
<path d="M417.60,317.20 H422.60 M420.10,314.70 V319.70"/>
<path d="M428.45,317.20 H433.45 M430.95,314.70 V319.70"/>
<path d="M439.30,317.20 H444.30 M441.80,314.70 V319.70"/>
<path d="M352.50,328.10 H357.50 M355.00,325.60 V330.60"/>
<path d="M363.35,328.10 H368.35 M365.85,325.60 V330.60"/>
<path d="M374.20,328.10 H379.20 M376.70,325.60 V330.60"/>
<path d="M385.05,328.10 H390.05 M387.55,325.60 V330.60"/>
<path d="M395.90,328.10 H400.90 M398.40,325.60 V330.60"/>
<path d="M406.75,328.10 H411.75 M409.25,325.60 V330.60"/>
<path d="M417.60,328.10 H422.60 M420.10,325.60 V330.60"/>
<path d="M428.45,328.10 H433.45 M430.95,325.60 V330.60"/>
<path d="M439.30,328.10 H444.30 M441.80,325.60 V330.60"/>
<path d="M352.50,339.00 H357.50 M355.00,336.50 V341.50"/>
<path d="M363.35,339.00 H368.35 M365.85,336.50 V341.50"/>
<path d="M374.20,339.00 H379.20 M376.70,336.50 V341.50"/>
<path d="M385.05,339.00 H390.05 M387.55,336.50 V341.50"/>
<path d="M395.90,339.00 H400.90 M398.40,336.50 V341.50"/>
<path d="M406.75,339.00 H411.75 M409.25,336.50 V341.50"/>
<path d="M417.60,339.00 H422.60 M420.10,336.50 V341.50"/>
<path d="M428.45,339.00 H433.45 M430.95,336.50 V341.50"/>
<path d="M439.30,339.00 H444.30 M441.80,336.50 V341.50"/>
<path d="M352.50,349.90 H357.50 M355.00,347.40 V352.40"/>
<path d="M363.35,349.90 H368.35 M365.85,347.40 V352.40"/>
<path d="M374.20,349.90 H379.20 M376.70,347.40 V352.40"/>
<path d="M385.05,349.90 H390.05 M387.55,347.40 V352.40"/>
<path d="M395.90,349.90 H400.90 M398.40,347.40 V352.40"/>
<path d="M406.75,349.90 H411.75 M409.25,347.40 V352.40"/>
<path d="M417.60,349.90 H422.60 M420.10,347.40 V352.40"/>
<path d="M428.45,349.90 H433.45 M430.95,347.40 V352.40"/>
<path d="M439.30,349.90 H444.30 M441.80,347.40 V352.40"/>
<path d="M352.50,360.80 H357.50 M355.00,358.30 V363.30"/>
<path d="M363.35,360.80 H368.35 M365.85,358.30 V363.30"/>
<path d="M374.20,360.80 H379.20 M376.70,358.30 V363.30"/>
<path d="M385.05,360.80 H390.05 M387.55,358.30 V363.30"/>
<path d="M395.90,360.80 H400.90 M398.40,358.30 V363.30"/>
<path d="M406.75,360.80 H411.75 M409.25,358.30 V363.30"/>
<path d="M417.60,360.80 H422.60 M420.10,358.30 V363.30"/>
<path d="M428.45,360.80 H433.45 M430.95,358.30 V363.30"/>
<path d="M439.30,360.80 H444.30 M441.80,358.30 V363.30"/>
<path d="M352.50,371.70 H357.50 M355.00,369.20 V374.20"/>
<path d="M363.35,371.70 H368.35 M365.85,369.20 V374.20"/>
<path d="M374.20,371.70 H379.20 M376.70,369.20 V374.20"/>
<path d="M385.05,371.70 H390.05 M387.55,369.20 V374.20"/>
<path d="M395.90,371.70 H400.90 M398.40,369.20 V374.20"/>
<path d="M406.75,371.70 H411.75 M409.25,369.20 V374.20"/>
<path d="M417.60,371.70 H422.60 M420.10,369.20 V374.20"/>
<path d="M428.45,371.70 H433.45 M430.95,369.20 V374.20"/>
<path d="M439.30,371.70 H444.30 M441.80,369.20 V374.20"/>
</g>
</g>
<rect x="404.2" y="312.9" width="9.4" height="9.4" fill="none" stroke="#e0d020" stroke-width="0.8" stroke-dasharray="1.6,1"/>
<line x1="404.40" y1="322.30" x2="395.60" y2="342.30" stroke="#e0d020" stroke-width="0.8" stroke-dasharray="2,1.4"/>
<line x1="413.40" y1="322.10" x2="446.30" y2="342.30" stroke="#e0d020" stroke-width="0.8" stroke-dasharray="2,1.4"/>
<rect x="395.6" y="342.5" width="50.8" height="35.1" fill="#576884" stroke="#d8d020" stroke-width="1"/>
<path d="M401.3,358.3 L417.9,358.3 L417.9,350.3 Q421,349.4 424.1,350.3 L424.1,358.3 L440.8,358.3 Q441.6,360.6 440.8,363 L424.1,363 L424.1,369.4 Q421,370.2 417.9,369.4 L417.9,363 L401.3,363 Q400.5,360.6 401.3,358.3 Z" fill="url(#crossg)" stroke="#8a8a70" stroke-width="0.4"/>
<rect x="418.4" y="350.8" width="5.2" height="3" fill="#cfcfb2" opacity="0.6"/>
<rect x="396.8" y="367.2" width="19.2" height="9.6" fill="#fff"/>
<text x="397.60" y="372.60" font-size="5.6" text-anchor="start" font-weight="normal" fill="#111" textLength="17.6" lengthAdjust="spacingAndGlyphs" >200 nm</text>
<line x1="404.00" y1="374.60" x2="409.70" y2="374.60" stroke="#111" stroke-width="1.2" />
<rect x="350.9" y="367" width="16.1" height="9.5" fill="#fff"/>
<text x="352.70" y="371.90" font-size="5.6" text-anchor="start" font-weight="normal" fill="#111" textLength="12.8" lengthAdjust="spacingAndGlyphs" >4 μm</text>
<line x1="353.10" y1="374.70" x2="364.40" y2="374.70" stroke="#111" stroke-width="1.3" />
<path d="M487.28,397.50 L487.40,397.50 L487.52,397.47 L487.65,397.44 L487.77,397.42 L487.90,397.39 L488.02,397.36 L488.14,397.33 L488.27,397.30 L488.39,397.28 L488.52,397.25 L488.64,397.22 L488.77,397.19 L488.89,397.16 L489.01,397.14 L489.14,397.11 L489.26,397.08 L489.39,397.05 L489.51,397.02 L489.63,396.99 L489.76,396.97 L489.88,396.94 L490.01,396.91 L490.13,396.88 L490.25,396.85 L490.38,396.83 L490.50,396.80 L490.63,396.77 L490.75,396.74 L490.87,396.71 L491.00,396.68 L491.12,396.62 L491.25,396.55 L491.37,396.48 L491.50,396.42 L491.62,396.35 L491.74,396.28 L491.87,396.22 L491.99,396.15 L492.12,396.08 L492.24,396.02 L492.36,395.95 L492.49,395.88 L492.61,395.82 L492.74,395.75 L492.86,395.68 L492.98,395.61 L493.11,395.55 L493.23,395.48 L493.36,395.41 L493.48,395.35 L493.61,395.28 L493.73,395.21 L493.85,395.15 L493.98,395.08 L494.10,395.18 L494.23,395.31 L494.35,395.44 L494.47,395.58 L494.60,395.71 L494.72,395.85 L494.85,395.98 L494.97,396.11 L495.09,396.25 L495.22,396.38 L495.34,396.51 L495.47,396.65 L495.59,396.78 L495.71,396.91 L495.84,397.05 L495.96,397.18 L496.09,397.32 L496.21,397.45 L496.34,397.58 L496.46,397.72 L496.58,397.85 L496.71,397.98 L496.83,398.12 L496.96,398.25 L497.08,398.38 L497.20,398.52 L497.33,398.65 L497.45,398.78 L497.58,398.85 L497.70,398.88 L497.82,398.91 L497.95,398.94 L498.07,398.97 L498.20,398.99 L498.32,399.02 L498.44,399.05 L498.57,399.08 L498.69,399.11 L498.82,399.13 L498.94,399.16 L499.07,399.19 L499.19,399.22 L499.31,399.25 L499.44,399.27 L499.56,399.30 L499.69,399.33 L499.81,399.36 L499.93,399.39 L500.06,399.41 L500.18,399.44 L500.31,399.47 L500.43,399.50 L500.55,399.52 L500.68,399.55 L500.80,399.58 L500.93,399.61 L501.05,399.64 L501.18,399.66 L501.30,399.69 L501.42,399.72 L501.55,399.75 L501.67,399.77 L501.80,399.80 L501.92,399.83 L502.04,399.86 L502.17,399.88 L502.29,399.91 L502.42,399.94 L502.54,399.97 L502.66,399.99 L502.79,400.02 L502.91,400.05 L503.04,400.07 L503.16,400.08 L503.28,400.08 L503.41,400.09 L503.53,400.10 L503.66,400.10 L503.78,400.11 L503.91,400.12 L504.03,400.12 L504.15,400.13 L504.28,400.13 L504.40,400.14 L504.53,400.15 L504.65,400.15 L504.77,400.16 L504.90,400.16 L505.02,400.17 L505.15,400.18 L505.27,400.18 L505.39,400.19 L505.52,400.19 L505.64,400.20 L505.77,400.21 L505.89,400.21 L506.01,400.22 L506.14,400.22 L506.26,400.23 L506.39,400.24 L506.51,400.24 L506.64,400.25 L506.76,400.25 L506.88,400.26 L507.01,400.26 L507.13,400.27 L507.26,400.27 L507.38,400.28 L507.50,400.28 L507.63,400.29 L507.75,400.30 L507.88,400.30 L508.00,400.31 L508.12,400.31 L508.25,400.32 L508.37,400.32 L508.50,400.33 L508.62,400.33 L508.75,400.34 L508.87,400.34 L508.99,400.35 L509.12,400.35 L509.24,400.35 L509.37,400.36 L509.49,400.36 L509.61,400.37 L509.74,400.37 L509.86,400.38 L509.99,400.38 L510.11,400.39 L510.23,400.39 L510.36,400.39 L510.48,400.39 L510.61,400.38 L510.73,400.37 L510.85,400.36 L510.98,400.35 L511.10,400.34 L511.23,400.33 L511.35,400.33 L511.48,400.32 L511.60,400.31 L511.72,400.30 L511.85,400.29 L511.97,400.28 L512.10,400.27 L512.22,400.26 L512.34,400.25 L512.47,400.24 L512.59,400.23 L512.72,400.22 L512.84,400.21 L512.96,400.20 L513.09,400.18 L513.21,400.17 L513.34,400.16 L513.46,400.15 L513.58,400.14 L513.71,400.13 L513.83,400.12 L513.96,400.11 L514.08,400.09 L514.21,400.08 L514.33,400.07 L514.45,400.06 L514.58,400.05 L514.70,400.03 L514.83,400.02 L514.95,400.01 L515.07,400.00 L515.20,399.98 L515.32,399.97 L515.45,399.96 L515.57,399.94 L515.69,399.93 L515.82,399.91 L515.94,399.90 L516.07,399.88 L516.19,399.84 L516.32,399.81 L516.44,399.78 L516.56,399.74 L516.69,399.71 L516.81,399.67 L516.94,399.64 L517.06,399.61 L517.18,399.57 L517.31,399.54 L517.43,399.50 L517.56,399.46 L517.68,399.43 L517.80,399.39 L517.93,399.36 L518.05,399.32 L518.18,399.28 L518.30,399.24 L518.42,399.20 L518.55,399.17 L518.67,399.13 L518.80,399.09 L518.92,399.05 L519.05,399.01 L519.17,398.97 L519.29,398.93 L519.42,398.88 L519.54,398.84 L519.67,398.80 L519.79,398.76 L519.91,398.71 L520.04,398.67 L520.16,398.62 L520.29,398.58 L520.41,398.53 L520.53,398.49 L520.66,398.44 L520.78,398.39 L520.91,398.33 L521.03,398.16 L521.15,397.98 L521.28,397.80 L521.40,397.62 L521.53,397.44 L521.65,397.26 L521.78,397.08 L521.90,396.90 L522.02,396.71 L522.15,396.53 L522.27,396.34 L522.40,396.15 L522.52,395.97 L522.64,395.78 L522.77,395.59 L522.89,395.39 L523.02,395.20 L523.14,395.00 L523.26,394.91 L523.39,394.90 L523.51,394.90 L523.64,394.89 L523.76,394.88 L523.89,394.87 L524.01,394.86 L524.13,394.84 L524.26,394.82 L524.38,394.80 L524.51,394.77 L524.63,394.74 L524.75,394.71 L524.88,394.68 L525.00,394.64 L525.13,394.60 L525.25,394.55 L525.37,394.50 L525.50,394.45 L525.62,394.37 L525.75,394.21 L525.87,394.05 L525.99,393.87 L526.12,393.70 L526.24,393.51 L526.37,393.32 L526.49,393.12 L526.62,392.92 L526.74,392.70 L526.86,392.48 L526.99,392.25 L527.11,392.10 L527.24,391.95 L527.36,391.78 L527.48,391.61 L527.61,391.42 L527.73,391.21 L527.86,390.99 L527.98,390.75 L528.10,390.49 L528.23,390.21 L528.35,389.90 L528.48,389.57 L528.60,389.21 L528.72,388.82 L528.85,388.40 L528.97,387.94 L529.10,387.43 L529.22,386.89 L529.35,386.29 L529.47,385.63 L529.59,384.92 L529.72,384.13 L529.84,383.27 L529.97,382.31 L530.09,381.23 L530.21,380.03 L530.34,378.71 L530.46,377.24 L530.59,375.61 L530.71,373.81 L530.83,371.80 L530.96,369.55 L531.08,367.03 L531.21,364.20 L531.33,361.02 L531.46,357.44 L531.58,353.41 L531.70,348.85 L531.83,343.71 L531.95,337.93 L532.08,331.45 L532.20,324.23 L532.32,316.27 L532.45,307.63 L532.57,298.44 L532.70,288.97 L532.82,279.62 L532.94,270.94 L533.07,263.62 L533.19,258.33 L533.32,255.66 L533.44,255.91 L533.56,259.07 L533.69,264.75 L533.81,272.36 L533.94,281.20 L534.06,290.62 L534.19,300.08 L534.31,309.20 L534.43,317.74 L534.56,325.59 L534.68,332.69 L534.81,339.06 L534.93,344.74 L535.05,349.79 L535.18,354.26 L535.30,358.23 L535.43,361.75 L535.55,364.88 L535.67,367.66 L535.80,370.15 L535.92,372.37 L536.05,374.36 L536.17,376.16 L536.29,377.79 L536.42,379.26 L536.54,380.60 L536.67,381.81 L536.79,382.91 L536.92,383.92 L537.04,384.85 L537.16,385.70 L537.29,386.48 L537.41,387.20 L537.54,387.86 L537.66,388.48 L537.78,389.05 L537.91,389.58 L538.03,390.08 L538.16,390.54 L538.28,390.97 L538.40,391.38 L538.53,391.76 L538.65,392.11 L538.78,392.45 L538.90,392.76 L539.03,393.06 L539.15,393.34 L539.27,393.61 L539.40,393.86 L539.52,394.10 L539.65,394.33 L539.77,394.55 L539.89,394.75 L540.02,394.95 L540.14,395.17 L540.27,395.38 L540.39,395.58 L540.51,395.77 L540.64,395.96 L540.76,396.14 L540.89,396.32 L541.01,396.49 L541.13,396.65 L541.26,396.81 L541.38,396.96 L541.51,397.11 L541.63,397.26 L541.76,397.40 L541.88,397.54 L542.00,397.68 L542.13,397.81 L542.25,397.94 L542.38,398.06 L542.50,398.19 L542.62,398.31 L542.75,398.42 L542.87,398.54 L543.00,398.65 L543.12,398.76 L543.24,398.87 L543.37,398.98 L543.49,399.09 L543.62,399.19 L543.74,399.29 L543.87,399.39 L543.99,399.49 L544.11,399.59 L544.24,399.68 L544.36,399.78 L544.49,399.87 L544.61,399.96 L544.73,400.05 L544.86,400.14 L544.98,400.23 L545.11,400.32 L545.23,400.40 L545.35,400.49 L545.48,400.55 L545.60,400.58 L545.73,400.62 L545.85,400.65 L545.97,400.69 L546.10,400.72 L546.22,400.75 L546.35,400.78 L546.47,400.82 L546.60,400.85 L546.72,400.88 L546.84,400.91 L546.97,400.93 L547.09,400.96 L547.22,400.99 L547.34,401.02 L547.46,401.04 L547.59,401.07 L547.71,401.10 L547.84,401.12 L547.96,401.15 L548.08,401.17 L548.21,401.19 L548.33,401.22 L548.46,401.24 L548.58,401.26 L548.70,401.29 L548.83,401.31 L548.95,401.33 L549.08,401.35 L549.20,401.37 L549.33,401.39 L549.45,401.41 L549.57,401.43 L549.70,401.45 L549.82,401.47 L549.95,401.49 L550.07,401.51 L550.19,401.53 L550.32,401.55 L550.44,401.57 L550.57,401.58 L550.69,401.60 L550.81,401.62 L550.94,401.64 L551.06,401.65 L551.19,401.67 L551.31,401.69 L551.44,401.70 L551.56,401.72 L551.68,401.74 L551.81,401.75 L551.93,401.77 L552.06,401.78 L552.18,401.78 L552.30,401.78 L552.43,401.78 L552.55,401.78 L552.68,401.78 L552.80,401.79 L552.92,401.79 L553.05,401.79 L553.17,401.79 L553.30,401.79 L553.42,401.79 L553.54,401.79 L553.67,401.79 L553.79,401.79 L553.92,401.79 L554.04,401.78 L554.17,401.78 L554.29,401.78 L554.41,401.78 L554.54,401.78 L554.66,401.78 L554.79,401.78 L554.91,401.78 L555.03,401.78 L555.16,401.77 L555.28,401.77 L555.41,401.77 L555.53,401.77 L555.65,401.77 L555.78,401.77 L555.90,401.76 L556.03,401.76 L556.15,401.76 L556.27,401.76 L556.40,401.76 L556.52,401.75 L556.65,401.75 L556.77,401.75 L556.90,401.75 L557.02,401.74 L557.14,401.74 L557.27,401.74 L557.39,401.73 L557.52,401.73 L557.64,401.73 L557.76,401.73 L557.89,401.72 L558.01,401.72 L558.14,401.72 L558.26,401.71 L558.38,401.71 L558.51,401.71 L558.63,401.70 L558.76,401.70 L558.88,401.70 L559.01,401.69 L559.13,401.69 L559.25,401.69 L559.38,401.68 L559.50,401.53 L559.63,401.35 L559.75,401.16 L559.87,400.98 L560.00,400.79 L560.12,400.61 L560.25,400.42 L560.37,400.24 L560.49,400.05 L560.62,399.87 L560.74,399.68 L560.87,399.50 L560.99,399.31 L561.11,399.13 L561.24,398.94 L561.36,398.76 L561.49,398.57 L561.61,398.39 L561.74,398.20 L561.86,398.01 L561.98,397.83 L562.11,397.64 L562.23,397.46 L562.36,397.27 L562.48,397.09 L562.60,396.90 L562.73,396.74 L562.85,396.64 L562.98,396.55 L563.10,396.45 L563.22,396.36 L563.35,396.26 L563.47,396.17 L563.60,396.08 L563.72,395.98 L563.84,395.89 L563.97,395.79 L564.09,395.70 L564.22,395.60 L564.34,395.51 L564.47,395.41 L564.59,395.42 L564.71,395.48 L564.84,395.53 L564.96,395.58 L565.09,395.63 L565.21,395.68 L565.33,395.73 L565.46,395.78 L565.58,395.83 L565.71,395.88 L565.83,395.94 L565.95,395.99 L566.08,396.04 L566.20,396.09 L566.33,396.14 L566.45,396.19 L566.58,396.24 L566.70,396.29 L566.82,396.34 L566.95,396.39 L567.07,396.45 L567.20,396.51 L567.32,396.57 L567.44,396.63 L567.57,396.69 L567.69,396.76 L567.82,396.82 L567.94,396.88 L568.06,396.94 L568.19,397.00 L568.31,397.06 L568.44,397.12 L568.56,397.18 L568.68,397.24 L568.81,397.30 L568.93,397.36 L569.06,397.42 L569.18,397.48 L569.31,397.54 L569.43,397.60 L569.55,397.67 L569.68,397.73 L569.80,397.79 L569.93,397.85 L570.05,397.91 L570.17,397.97 L570.30,398.03 L570.42,398.09 L570.55,398.15 L570.67,398.21 L570.79,398.27 L570.92,398.33 L571.04,398.39 L571.17,398.45 L571.29,398.51 L571.41,398.57 L571.54,398.63 L571.66,398.69 L571.79,398.75 L571.91,398.82 L572.04,398.87 L572.16,398.91 L572.28,398.94 L572.41,398.98 L572.53,399.02 L572.66,399.06 L572.78,399.09 L572.90,399.13 L573.03,399.17 L573.15,399.21 L573.28,399.24 L573.40,399.28 L573.52,399.32 L573.65,399.36 L573.77,399.39 L573.90,399.43 L574.02,399.47 L574.15,399.51 L574.27,399.54 L574.39,399.58 L574.52,399.62 L574.64,399.65 L574.77,399.69 L574.89,399.73 L575.01,399.77 L575.14,399.80 L575.26,399.84 L575.39,399.88 L575.51,399.92 L575.63,399.95 L575.76,399.99 L575.88,400.03 L576.01,400.06 L576.13,400.10 L576.25,400.14 L576.38,400.18 L576.50,400.21 L576.63,400.25 L576.75,400.29 L576.88,400.33 L577.00,400.36 L577.12,400.40 L577.25,400.44 L577.37,400.47 L577.50,400.51 L577.62,400.55 L577.74,400.59 L577.87,400.62 L577.99,400.66 L578.12,400.69 L578.24,400.66 L578.36,400.62 L578.49,400.59 L578.61,400.56 L578.74,400.53 L578.86,400.49 L578.98,400.46 L579.11,400.43 L579.23,400.40 L579.36,400.37 L579.48,400.33 L579.61,400.30 L579.73,400.27 L579.85,400.24 L579.98,400.20 L580.10,400.17 L580.23,400.14 L580.35,400.11 L580.47,400.07 L580.60,400.04 L580.72,400.01 L580.85,399.98 L580.97,399.94 L581.09,399.91 L581.22,399.88 L581.34,399.85 L581.47,399.81 L581.59,399.78 L581.72,399.75 L581.84,399.72 L581.96,399.68 L582.09,399.65 L582.21,399.62 L582.34,399.59 L582.46,399.56 L582.58,399.52 L582.71,399.49 L582.83,399.46 L582.96,399.43 L583.08,399.39 L583.20,399.36 L583.33,399.33 L583.45,399.29 L583.58,399.26 L583.70,399.23 L583.82,399.19 L583.95,399.16 L584.07,399.12 L584.20,399.09 L584.32,399.06 L584.45,399.02 L584.57,398.99 L584.69,398.96 L584.82,398.92 L584.94,398.89 L585.07,398.86 L585.19,398.82 L585.31,398.79 L585.44,398.76 L585.56,398.72 L585.69,398.69 L585.81,398.66 L585.93,398.62 L586.06,398.59 L586.18,398.56 L586.31,398.52 L586.43,398.49 L586.55,398.46 L586.68,398.42 L586.80,398.39 L586.93,398.36 L587.05,398.32 L587.18,398.29 L587.30,398.25 L587.42,398.21 L587.55,398.10 L587.67,397.99 L587.80,397.88 L587.92,397.77 L588.04,397.66 L588.17,397.55 L588.29,397.44 L588.42,397.33 L588.54,397.22 L588.66,397.11 L588.79,397.00 L588.91,396.89 L589.04,396.78 L589.16,396.68 L589.29,396.57 L589.41,396.46 L589.53,396.35 L589.66,396.24 L589.78,396.13 L589.91,396.02 L590.03,395.92 L590.15,395.86 L590.28,395.79 L590.40,395.73 L590.53,395.66 L590.65,395.60 L590.77,395.53 L590.90,395.47 L591.02,395.41 L591.15,395.34 L591.27,395.28 L591.39,395.21 L591.52,395.15 L591.64,395.08 L591.77,395.02 L591.89,394.96 L592.02,394.89 L592.14,394.83 L592.26,394.76 L592.39,394.70 L592.51,394.65 L592.64,394.68 L592.76,394.72 L592.88,394.76 L593.01,394.80 L593.13,394.84 L593.26,394.88 L593.38,394.92 L593.50,394.96 L593.63,395.00 L593.75,395.04 L593.88,395.08 L594.00,395.12 L594.13,395.16 L594.25,395.20 L594.37,395.24 L594.50,395.28 L594.62,395.32 L594.75,395.36 L594.87,395.40 L594.99,395.44 L595.12,395.59 L595.24,395.75 L595.37,395.91 L595.49,396.06 L595.61,396.22 L595.74,396.38 L595.86,396.53 L595.99,396.69 L596.11,396.85 L596.23,397.01 L596.36,397.16 L596.48,397.32 L596.61,397.48 L596.73,397.63 L596.86,397.79 L596.98,397.95 L597.10,398.10 L597.23,398.26 L597.35,398.42 L597.48,398.57 L597.60,398.73 L597.72,398.89 L597.85,399.04 L597.97,399.20 L598.10,399.36 L598.22,399.51 L598.34,399.67 L598.47,399.83 L598.59,399.98 L598.72,400.14 L598.84,400.30 L598.96,400.45 L599.09,400.61 L599.21,400.76 L599.34,400.82 L599.46,400.89 L599.59,400.96 L599.71,401.02 L599.83,401.09 L599.96,401.16 L600.08,401.22 L600.21,401.29 L600.33,401.36 L600.45,401.42 L600.58,401.49 L600.70,401.56 L600.83,401.62 L600.95,401.69 L601.07,401.76 L601.20,401.82 L601.32,401.89 L601.45,401.96 L601.57,402.02 L601.70,402.09 L601.82,402.16 L601.94,402.22 L602.07,402.27 L602.19,402.29 L602.32,402.31 L602.44,402.33 L602.56,402.35 L602.69,402.37 L602.81,402.39 L602.94,402.41 L603.06,402.43 L603.18,402.45 L603.31,402.47 L603.43,402.49 L603.56,402.52 L603.68,402.54 L603.80,402.56 L603.93,402.58 L604.05,402.60 L604.18,402.62 L604.30,402.64 L604.43,402.66 L604.55,402.68 L604.67,402.70 L604.80,402.72 L604.92,402.74 L605.05,402.77 L605.17,402.79 L605.29,402.81 L605.42,402.83 L605.54,402.85 L605.67,402.87 L605.79,402.89 L605.91,402.91 L606.04,402.93 L606.16,402.95 L606.29,402.96 L606.41,402.96 L606.53,402.96 L606.66,402.96 L606.78,402.96 L606.91,402.96 L607.03,402.96 L607.16,402.96 L607.28,402.96 L607.40,402.96 L607.53,402.96 L607.65,402.96 L607.78,402.96 L607.90,402.96 L608.02,402.96 L608.15,402.96 L608.27,402.96 L608.40,402.96 L608.52,402.96 L608.64,402.96 L608.77,402.96 L608.89,402.96 L609.02,402.96 L609.14,402.96 L609.27,402.96 L609.39,402.96 L609.51,402.96 L609.64,402.96 L609.76,402.96 L609.89,402.96 L610.01,402.96 L610.13,402.96 L610.26,402.96 L610.38,402.96 L610.51,402.96 L610.63,402.96 L610.75,402.96 L610.88,402.96 L611.00,402.96 L611.13,402.96 L611.25,402.96 L611.37,402.96 L611.50,402.96 L611.62,402.96 L611.75,402.96 L611.87,402.96 L612.00,402.96 L612.12,402.96 L612.24,402.97 L612.37,402.97 L612.49,402.97 L612.62,402.97 L612.74,402.97 L612.86,402.97 L612.99,402.97 L613.11,402.97 L613.24,402.97 L613.36,402.97 L613.48,402.97 L613.61,402.97 L613.73,402.97 L613.86,402.97 L613.98,402.97 L614.10,402.97 L614.23,402.97 L614.35,402.97 L614.48,402.97 L614.60,402.97 L614.73,402.97 L614.85,402.97 L614.97,402.97 L615.10,402.97 L615.22,402.97 L615.35,402.97 L615.47,402.97 L615.59,402.97 L615.72,402.97 L615.84,402.97 L615.97,402.97 L616.09,402.97 L616.21,402.97 L616.34,402.97 L616.46,402.97 L616.59,402.97 L616.71,402.97 L616.84,402.97 L616.96,402.97 L617.08,402.97 L617.21,402.97 L617.33,402.97 L617.46,402.97 L617.58,402.97 L617.70,402.97 L617.83,402.97 L617.95,402.97 L618.08,402.97 L618.20,402.97 L618.32,402.97 L618.45,402.97 L618.57,402.97 L618.70,402.97 L618.82,402.97 L618.94,402.97 L619.07,402.97 L619.19,402.97 L619.32,402.97 L619.44,402.97 L619.57,402.97 L619.69,402.97 L619.81,402.97 L619.94,402.97 L620.06,402.97 L620.19,402.97 L620.31,402.97 L620.43,402.97 L620.56,402.97 L620.68,402.97 L620.81,402.97 L620.93,402.97 L621.05,402.97 L621.18,402.97 L621.30,402.97 L621.43,402.97 L621.55,402.97 L621.67,402.97 L621.80,402.97 L621.92,402.97 L622.05,402.97 L622.17,402.97 L622.30,402.97 L622.42,402.97 L622.54,402.97 L622.67,402.97 L622.79,402.97 L622.92,402.97 L623.04,402.97 L623.16,402.97 L623.29,402.97 L623.41,402.97 L623.54,402.97 L623.66,402.97 L623.78,402.97 L623.91,402.97 L624.03,402.97 L624.16,402.97 L624.28,402.97 L624.41,402.97 L624.53,402.97 L624.65,402.97 L624.78,402.97 L624.90,402.97 L625.03,402.97 L625.15,402.97 L625.27,402.97 L625.40,402.97 L625.52,402.97 L625.65,402.97 L625.77,402.97 L625.89,402.97 L626.02,402.97 L626.14,402.97 L626.27,402.97 L626.39,402.97 L626.51,402.97 L626.64,402.97 L626.76,402.98 L626.89,402.98 L627.01,402.98 L627.14,402.98 L627.26,402.98 L627.38,402.98 L627.51,402.98 L627.63,402.98 L627.76,402.98 L627.88,402.98 L628.00,402.98 L628.13,402.98 L628.25,402.98 L628.38,402.98 L628.50,402.98 L628.62,402.98 L628.75,402.98 L628.87,402.98 L629.00,402.98 L629.12,402.98 L629.24,402.98 L629.37,402.98 L629.49,402.98 L629.62,402.98 L629.74,402.98 L629.87,402.98 L629.99,402.98 L630.11,402.98 L630.24,402.98 L630.36,402.98 L630.49,402.98 L630.61,402.98 L630.73,402.98 L630.86,402.98 L630.98,402.98 L631.11,402.98 L631.23,402.98 L631.35,402.98 L631.48,402.98 L631.60,402.98 L631.73,402.98 L631.85,402.98 L631.98,402.98 L632.10,402.98 L632.22,402.98 L632.35,402.98 L632.47,402.98 L632.60,402.98 L632.72,402.98 L632.84,402.98 L632.97,402.98 L633.09,402.98 L633.22,402.98 L633.34,402.98 L633.46,402.98 L633.59,402.98 L633.71,402.98 L633.84,402.98 L633.96,402.98 L634.08,402.98 L634.21,402.98 L634.33,402.98 L634.46,402.98 L634.58,402.98 L634.71,402.98 L634.83,402.98 L634.95,402.98 L635.08,402.98 L635.20,402.98 L635.33,402.98 L635.45,402.98 L635.57,402.98 L635.70,402.98 L635.82,402.98 L635.95,402.98 L636.07,402.98 L636.19,402.98 L636.32,402.98 L636.44,402.98 L636.57,402.98 L636.69,402.98 L636.81,402.98 L636.94,402.98 L637.06,402.98 L637.19,402.98 L637.31,402.98 L637.44,402.98 L637.56,402.98 L637.68,402.98 L637.81,402.98 L637.93,402.98 L638.06,402.98 L638.18,402.98 L638.30,402.98 L638.43,402.98 L638.55,402.98 L638.68,402.98 L638.80,402.98 L638.92,402.98 L639.05,402.98 L639.17,402.98 L639.30,402.98 L639.42,402.98 L639.55,402.98 L639.67,402.98 L639.79,402.98 L639.92,402.98 L640.04,402.98 L640.17,402.98 L640.29,402.98 L640.41,402.98 L640.54,402.98 L640.66,402.98 L640.79,402.98 L640.91,402.98 L641.03,402.98 L641.16,402.98 L641.28,402.98 L641.41,402.98 L641.53,402.98 L641.65,402.98 L641.78,402.98 L641.90,402.98 L642.03,402.98 L642.15,402.98 L642.28,402.98 L642.40,402.98 L642.52,402.98 L642.65,402.98 L642.77,402.98 L642.90,402.98 L643.02,402.98 L643.14,402.98 L643.27,402.98 L643.39,402.98 L643.52,402.98 L643.64,402.98 L643.76,402.98 L643.89,402.98 L644.01,402.98 L644.14,402.98 L644.26,402.98 L644.38,402.98 L644.51,402.98 L644.63,402.98 L644.76,402.98 L644.88,402.98 L645.01,402.98 L645.13,402.98 L645.25,402.98 L645.38,402.98 L645.50,402.98 L645.63,402.98 L645.75,402.98 L645.87,402.98 L646.00,402.98 L646.12,402.98 L646.25,402.98 L646.37,402.98 L646.49,402.98 L646.62,402.98 L646.74,402.98 L646.87,402.98 L646.99,402.98 L647.12,402.98 L647.24,402.98 L647.36,402.98 L647.49,402.98 L647.61,402.98 L647.74,402.98 L647.86,402.98 L647.98,402.98 L648.11,402.98 L648.23,402.98 L648.36,402.98 L648.48,402.98 L648.60,402.98 L648.73,402.98 L648.85,402.98 L648.98,402.98 L649.10,402.98 L649.22,402.98 L649.35,402.98 L649.47,402.98 L649.60,402.98 L649.72,402.98 L649.85,402.98 L649.97,402.98 L650.09,402.98 L650.22,402.98 L650.34,402.98 L650.47,402.98 L650.59,402.98 L650.71,402.98 L650.84,402.98 L650.96,402.98 L651.09,402.98 L651.21,402.98 L651.33,402.98 L651.46,402.98 L651.58,402.98 L651.71,402.98 L651.83,402.98 L651.96,402.98 L652.08,402.98 L652.20,402.98 L652.33,402.98 L652.45,402.98 L652.58,402.98 L652.70,402.98 L652.82,402.98 L652.95,402.98 L653.07,402.98 L653.20,402.98 L653.32,402.98 L653.44,402.98 L653.57,402.98 L653.69,402.98 L653.82,402.98 L653.94,402.99 L654.06,402.99 L654.19,402.99 L654.31,402.99 L654.44,402.99 L654.56,402.99 L654.69,402.99 L654.81,402.99 L654.93,402.99 L655.06,402.99 L655.18,402.99 L655.31,402.99 L655.43,402.99 L655.55,402.99 L655.68,402.99 L655.80,402.99 L655.93,402.99 L656.05,402.99 L656.17,402.99 L656.30,402.99 L656.42,402.99 L656.55,402.99 L656.67,402.99 L656.79,402.99 L656.92,402.99 L657.04,402.99 L657.17,402.99 L657.29,402.99 L657.42,402.99 L657.54,402.99 L657.66,402.99 L657.79,402.99 L657.91,402.99 L658.04,402.99 L658.16,402.99 L658.28,402.99 L658.41,402.99 L658.53,402.99 L658.66,402.99 L658.78,402.99 L658.90,402.99 L659.03,402.99 L659.15,402.99 L659.28,402.99 L659.40,402.99 L659.53,402.99 L659.65,402.99 L659.77,402.99 L659.90,402.99 L660.02,402.99 L660.15,402.99 L660.27,402.99 L660.39,402.99 L660.52,402.99 L660.64,402.99 L660.77,402.99 L660.89,402.99 L661.01,402.99 L661.14,402.99 L661.26,402.99 L661.39,402.99 L661.51,402.99 L661.63,402.99 L661.76,402.99 L661.88,402.99 L662.01,402.99 L662.13,402.99 L662.26,402.99 L662.38,402.99 L662.50,402.99 L662.63,402.99 L662.75,402.99 L662.88,402.99 L663.00,402.99 L663.12,402.99 L663.25,402.99 L663.37,402.99 L663.50,402.99 L663.62,402.99 L663.74,402.99 L663.87,402.99 L663.99,402.99 L664.12,402.99 L664.24,402.99 L664.36,402.99 L664.49,402.99 L664.61,402.99 L664.74,402.99 L664.86,402.99 L664.99,402.99 L665.11,402.99 L665.23,402.99 L665.36,402.99 L665.48,402.99 L665.61,402.99 L665.73,402.99 L665.85,402.99 L665.98,402.99 L666.10,402.99 L666.23,402.99 L666.35,402.99 L666.47,402.99 L666.60,402.99 L666.72,402.99 L666.85,402.99 L666.97,402.99 L667.10,402.99 L667.22,402.99 L667.34,402.99 L667.47,402.99 L667.59,402.99 L667.72,402.99 L667.84,402.99 L667.96,402.99 L668.09,402.99 L668.21,402.99 L668.34,402.99 L668.46,402.99 L668.58,402.99 L668.71,402.99 L668.83,402.99 L668.96,402.99 L669.08,402.99 L669.20,402.99 L669.33,402.99 L669.45,402.99 L669.58,402.99 L669.70,402.99 L669.83,402.99 L669.95,402.99 L670.07,402.99 L670.20,402.99 L670.32,402.99 L670.45,402.99 L670.57,402.99 L670.69,402.99 L670.82,402.99 L670.94,402.99 L671.07,402.99 L671.19,402.99 L671.31,402.99 L671.44,402.99 L671.56,402.99 L671.69,402.99 L671.81,402.99 L671.93,402.99 L672.06,402.99 L672.18,402.99 L672.31,402.99 L672.43,402.99 L672.56,402.99 L672.68,402.99 L672.80,402.99 L672.93,402.99 L673.05,402.99 L673.18,402.99 L673.30,402.99" fill="none" stroke="#2a2a2a" stroke-width="0.85" stroke-linejoin="round"/>
<path d="M487.28,403.79 L487.40,403.78 L487.52,403.78 L487.65,403.78 L487.77,403.78 L487.90,403.78 L488.02,403.78 L488.14,403.78 L488.27,403.78 L488.39,403.78 L488.52,403.78 L488.64,403.78 L488.77,403.78 L488.89,403.78 L489.01,403.78 L489.14,403.78 L489.26,403.77 L489.39,403.77 L489.51,403.77 L489.63,403.77 L489.76,403.77 L489.88,403.77 L490.01,403.77 L490.13,403.77 L490.25,403.77 L490.38,403.77 L490.50,403.77 L490.63,403.77 L490.75,403.77 L490.87,403.76 L491.00,403.76 L491.12,403.76 L491.25,403.76 L491.37,403.76 L491.50,403.76 L491.62,403.76 L491.74,403.76 L491.87,403.76 L491.99,403.76 L492.12,403.76 L492.24,403.76 L492.36,403.75 L492.49,403.75 L492.61,403.75 L492.74,403.75 L492.86,403.75 L492.98,403.75 L493.11,403.75 L493.23,403.75 L493.36,403.75 L493.48,403.75 L493.61,403.74 L493.73,403.74 L493.85,403.74 L493.98,403.74 L494.10,403.74 L494.23,403.74 L494.35,403.74 L494.47,403.74 L494.60,403.74 L494.72,403.74 L494.85,403.73 L494.97,403.73 L495.09,403.73 L495.22,403.73 L495.34,403.73 L495.47,403.73 L495.59,403.73 L495.71,403.73 L495.84,403.73 L495.96,403.72 L496.09,403.72 L496.21,403.72 L496.34,403.72 L496.46,403.72 L496.58,403.72 L496.71,403.72 L496.83,403.72 L496.96,403.71 L497.08,403.71 L497.20,403.71 L497.33,403.71 L497.45,403.71 L497.58,403.71 L497.70,403.71 L497.82,403.70 L497.95,403.70 L498.07,403.70 L498.20,403.70 L498.32,403.70 L498.44,403.70 L498.57,403.70 L498.69,403.69 L498.82,403.69 L498.94,403.69 L499.07,403.69 L499.19,403.69 L499.31,403.69 L499.44,403.69 L499.56,403.68 L499.69,403.68 L499.81,403.68 L499.93,403.68 L500.06,403.68 L500.18,403.68 L500.31,403.67 L500.43,403.67 L500.55,403.67 L500.68,403.67 L500.80,403.67 L500.93,403.67 L501.05,403.66 L501.18,403.66 L501.30,403.66 L501.42,403.66 L501.55,403.66 L501.67,403.65 L501.80,403.65 L501.92,403.65 L502.04,403.65 L502.17,403.65 L502.29,403.64 L502.42,403.64 L502.54,403.64 L502.66,403.64 L502.79,403.64 L502.91,403.63 L503.04,403.63 L503.16,403.63 L503.28,403.63 L503.41,403.62 L503.53,403.62 L503.66,403.62 L503.78,403.62 L503.91,403.61 L504.03,403.61 L504.15,403.61 L504.28,403.61 L504.40,403.60 L504.53,403.60 L504.65,403.60 L504.77,403.60 L504.90,403.59 L505.02,403.59 L505.15,403.59 L505.27,403.59 L505.39,403.58 L505.52,403.58 L505.64,403.58 L505.77,403.57 L505.89,403.57 L506.01,403.57 L506.14,403.57 L506.26,403.56 L506.39,403.56 L506.51,403.56 L506.64,403.55 L506.76,403.55 L506.88,403.55 L507.01,403.54 L507.13,403.54 L507.26,403.54 L507.38,403.53 L507.50,403.53 L507.63,403.53 L507.75,403.52 L507.88,403.52 L508.00,403.51 L508.12,403.51 L508.25,403.51 L508.37,403.50 L508.50,403.50 L508.62,403.49 L508.75,403.49 L508.87,403.49 L508.99,403.48 L509.12,403.48 L509.24,403.47 L509.37,403.47 L509.49,403.46 L509.61,403.46 L509.74,403.45 L509.86,403.45 L509.99,403.45 L510.11,403.44 L510.23,403.44 L510.36,403.43 L510.48,403.43 L510.61,403.42 L510.73,403.41 L510.85,403.41 L510.98,403.40 L511.10,403.40 L511.23,403.39 L511.35,403.39 L511.48,403.38 L511.60,403.38 L511.72,403.37 L511.85,403.36 L511.97,403.36 L512.10,403.35 L512.22,403.34 L512.34,403.34 L512.47,403.33 L512.59,403.32 L512.72,403.32 L512.84,403.31 L512.96,403.30 L513.09,403.29 L513.21,403.29 L513.34,403.28 L513.46,403.27 L513.58,403.26 L513.71,403.26 L513.83,403.25 L513.96,403.24 L514.08,403.23 L514.21,403.22 L514.33,403.21 L514.45,403.20 L514.58,403.20 L514.70,403.19 L514.83,403.18 L514.95,403.17 L515.07,403.16 L515.20,403.15 L515.32,403.14 L515.45,403.13 L515.57,403.11 L515.69,403.10 L515.82,403.09 L515.94,403.08 L516.07,403.07 L516.19,403.06 L516.32,403.04 L516.44,403.03 L516.56,403.02 L516.69,403.01 L516.81,402.99 L516.94,402.98 L517.06,402.96 L517.18,402.95 L517.31,402.94 L517.43,402.92 L517.56,402.90 L517.68,402.89 L517.80,402.87 L517.93,402.86 L518.05,402.84 L518.18,402.82 L518.30,402.80 L518.42,402.79 L518.55,402.77 L518.67,402.75 L518.80,402.73 L518.92,402.71 L519.05,402.69 L519.17,402.67 L519.29,402.65 L519.42,402.62 L519.54,402.60 L519.67,402.58 L519.79,402.55 L519.91,402.53 L520.04,402.50 L520.16,402.48 L520.29,402.45 L520.41,402.42 L520.53,402.39 L520.66,402.36 L520.78,402.33 L520.91,402.30 L521.03,402.27 L521.15,402.24 L521.28,402.20 L521.40,402.17 L521.53,402.13 L521.65,402.10 L521.78,402.06 L521.90,402.02 L522.02,401.98 L522.15,401.93 L522.27,401.89 L522.40,401.84 L522.52,401.80 L522.64,401.75 L522.77,401.70 L522.89,401.65 L523.02,401.59 L523.14,401.54 L523.26,401.48 L523.39,401.42 L523.51,401.36 L523.64,401.30 L523.76,401.23 L523.89,401.16 L524.01,401.09 L524.13,401.01 L524.26,400.94 L524.38,400.86 L524.51,400.77 L524.63,400.68 L524.75,400.59 L524.88,400.50 L525.00,400.40 L525.13,400.29 L525.25,400.19 L525.37,400.07 L525.50,399.95 L525.62,399.83 L525.75,399.70 L525.87,399.56 L525.99,399.42 L526.12,399.27 L526.24,399.11 L526.37,398.95 L526.49,398.77 L526.62,398.59 L526.74,398.40 L526.86,398.19 L526.99,397.98 L527.11,397.75 L527.24,397.51 L527.36,397.26 L527.48,396.99 L527.61,396.70 L527.73,396.40 L527.86,396.07 L527.98,395.73 L528.10,395.36 L528.23,394.97 L528.35,394.55 L528.48,394.10 L528.60,393.62 L528.72,393.10 L528.85,392.55 L528.97,391.95 L529.10,391.31 L529.22,390.61 L529.35,389.86 L529.47,389.04 L529.59,388.16 L529.72,387.19 L529.84,386.14 L529.97,384.99 L530.09,383.73 L530.21,382.35 L530.34,380.84 L530.46,379.16 L530.59,377.32 L530.71,375.27 L530.83,373.01 L530.96,370.49 L531.08,367.68 L531.21,364.56 L531.33,361.06 L531.46,357.16 L531.58,352.79 L531.70,347.91 L531.83,342.47 L531.95,336.42 L532.08,329.72 L532.20,322.38 L532.32,314.41 L532.45,305.91 L532.57,297.04 L532.70,288.06 L532.82,279.38 L532.94,271.47 L533.07,264.90 L533.19,260.22 L533.32,257.87 L533.44,258.09 L533.56,260.87 L533.69,265.91 L533.81,272.75 L533.94,280.83 L534.06,289.60 L534.19,298.58 L534.31,307.40 L534.43,315.82 L534.56,323.69 L534.68,330.92 L534.81,337.51 L534.93,343.45 L535.05,348.79 L535.18,353.58 L535.30,357.86 L535.43,361.69 L535.55,365.12 L535.67,368.19 L535.80,370.94 L535.92,373.42 L536.05,375.64 L536.17,377.65 L536.29,379.46 L536.42,381.11 L536.54,382.60 L536.67,383.96 L536.79,385.20 L536.92,386.33 L537.04,387.36 L537.16,388.31 L537.29,389.19 L537.41,389.99 L537.54,390.74 L537.66,391.42 L537.78,392.06 L537.91,392.65 L538.03,393.20 L538.16,393.70 L538.28,394.18 L538.40,394.62 L538.53,395.04 L538.65,395.42 L538.78,395.79 L538.90,396.13 L539.03,396.45 L539.15,396.75 L539.27,397.03 L539.40,397.30 L539.52,397.55 L539.65,397.79 L539.77,398.02 L539.89,398.23 L540.02,398.43 L540.14,398.62 L540.27,398.80 L540.39,398.98 L540.51,399.14 L540.64,399.30 L540.76,399.45 L540.89,399.59 L541.01,399.72 L541.13,399.85 L541.26,399.97 L541.38,400.09 L541.51,400.20 L541.63,400.31 L541.76,400.42 L541.88,400.51 L542.00,400.61 L542.13,400.70 L542.25,400.79 L542.38,400.87 L542.50,400.95 L542.62,401.03 L542.75,401.10 L542.87,401.17 L543.00,401.24 L543.12,401.31 L543.24,401.37 L543.37,401.43 L543.49,401.49 L543.62,401.55 L543.74,401.60 L543.87,401.66 L543.99,401.71 L544.11,401.76 L544.24,401.81 L544.36,401.85 L544.49,401.90 L544.61,401.94 L544.73,401.98 L544.86,402.02 L544.98,402.06 L545.11,402.10 L545.23,402.14 L545.35,402.17 L545.48,402.21 L545.60,402.24 L545.73,402.28 L545.85,402.31 L545.97,402.34 L546.10,402.37 L546.22,402.40 L546.35,402.43 L546.47,402.45 L546.60,402.48 L546.72,402.51 L546.84,402.53 L546.97,402.56 L547.09,402.58 L547.22,402.60 L547.34,402.63 L547.46,402.65 L547.59,402.67 L547.71,402.69 L547.84,402.71 L547.96,402.73 L548.08,402.75 L548.21,402.77 L548.33,402.79 L548.46,402.81 L548.58,402.82 L548.70,402.84 L548.83,402.86 L548.95,402.87 L549.08,402.89 L549.20,402.91 L549.33,402.92 L549.45,402.94 L549.57,402.95 L549.70,402.97 L549.82,402.98 L549.95,402.99 L550.07,403.01 L550.19,403.02 L550.32,403.03 L550.44,403.04 L550.57,403.06 L550.69,403.07 L550.81,403.08 L550.94,403.09 L551.06,403.10 L551.19,403.11 L551.31,403.12 L551.44,403.13 L551.56,403.15 L551.68,403.16 L551.81,403.17 L551.93,403.17 L552.06,403.18 L552.18,403.19 L552.30,403.20 L552.43,403.21 L552.55,403.22 L552.68,403.23 L552.80,403.24 L552.92,403.25 L553.05,403.25 L553.17,403.26 L553.30,403.27 L553.42,403.28 L553.54,403.28 L553.67,403.29 L553.79,403.30 L553.92,403.31 L554.04,403.31 L554.17,403.32 L554.29,403.33 L554.41,403.33 L554.54,403.34 L554.66,403.34 L554.79,403.35 L554.91,403.36 L555.03,403.36 L555.16,403.37 L555.28,403.37 L555.41,403.38 L555.53,403.39 L555.65,403.39 L555.78,403.40 L555.90,403.40 L556.03,403.41 L556.15,403.41 L556.27,403.42 L556.40,403.42 L556.52,403.43 L556.65,403.43 L556.77,403.43 L556.90,403.44 L557.02,403.44 L557.14,403.45 L557.27,403.45 L557.39,403.46 L557.52,403.46 L557.64,403.46 L557.76,403.47 L557.89,403.47 L558.01,403.47 L558.14,403.48 L558.26,403.48 L558.38,403.49 L558.51,403.49 L558.63,403.49 L558.76,403.50 L558.88,403.50 L559.01,403.50 L559.13,403.50 L559.25,403.51 L559.38,403.51 L559.50,403.51 L559.63,403.52 L559.75,403.52 L559.87,403.52 L560.00,403.52 L560.12,403.53 L560.25,403.53 L560.37,403.53 L560.49,403.53 L560.62,403.54 L560.74,403.54 L560.87,403.54 L560.99,403.54 L561.11,403.54 L561.24,403.55 L561.36,403.55 L561.49,403.55 L561.61,403.55 L561.74,403.55 L561.86,403.55 L561.98,403.56 L562.11,403.56 L562.23,403.56 L562.36,403.56 L562.48,403.56 L562.60,403.56 L562.73,403.56 L562.85,403.56 L562.98,403.56 L563.10,403.57 L563.22,403.57 L563.35,403.57 L563.47,403.57 L563.60,403.57 L563.72,403.57 L563.84,403.57 L563.97,403.57 L564.09,403.57 L564.22,403.57 L564.34,403.57 L564.47,403.57 L564.59,403.57 L564.71,403.57 L564.84,403.57 L564.96,403.57 L565.09,403.57 L565.21,403.57 L565.33,403.57 L565.46,403.57 L565.58,403.57 L565.71,403.57 L565.83,403.57 L565.95,403.57 L566.08,403.57 L566.20,403.57 L566.33,403.57 L566.45,403.57 L566.58,403.56 L566.70,403.56 L566.82,403.56 L566.95,403.56 L567.07,403.56 L567.20,403.56 L567.32,403.56 L567.44,403.56 L567.57,403.55 L567.69,403.55 L567.82,403.55 L567.94,403.55 L568.06,403.55 L568.19,403.55 L568.31,403.54 L568.44,403.54 L568.56,403.54 L568.68,403.54 L568.81,403.54 L568.93,403.53 L569.06,403.53 L569.18,403.53 L569.31,403.53 L569.43,403.52 L569.55,403.52 L569.68,403.52 L569.80,403.51 L569.93,403.51 L570.05,403.51 L570.17,403.50 L570.30,403.50 L570.42,403.50 L570.55,403.49 L570.67,403.49 L570.79,403.49 L570.92,403.48 L571.04,403.48 L571.17,403.48 L571.29,403.47 L571.41,403.47 L571.54,403.46 L571.66,403.46 L571.79,403.46 L571.91,403.45 L572.04,403.45 L572.16,403.44 L572.28,403.44 L572.41,403.43 L572.53,403.43 L572.66,403.42 L572.78,403.42 L572.90,403.41 L573.03,403.41 L573.15,403.40 L573.28,403.40 L573.40,403.39 L573.52,403.39 L573.65,403.38 L573.77,403.38 L573.90,403.37 L574.02,403.36 L574.15,403.36 L574.27,403.35 L574.39,403.35 L574.52,403.34 L574.64,403.33 L574.77,403.33 L574.89,403.32 L575.01,403.32 L575.14,403.31 L575.26,403.30 L575.39,403.30 L575.51,403.29 L575.63,403.28 L575.76,403.28 L575.88,403.27 L576.01,403.26 L576.13,403.25 L576.25,403.25 L576.38,403.24 L576.50,403.23 L576.63,403.23 L576.75,403.22 L576.88,403.21 L577.00,403.20 L577.12,403.19 L577.25,403.19 L577.37,403.18 L577.50,403.17 L577.62,403.16 L577.74,403.16 L577.87,403.15 L577.99,403.14 L578.12,403.13 L578.24,403.12 L578.36,403.11 L578.49,403.11 L578.61,403.10 L578.74,403.09 L578.86,403.08 L578.98,403.07 L579.11,403.06 L579.23,403.06 L579.36,403.05 L579.48,403.04 L579.61,403.03 L579.73,403.02 L579.85,403.01 L579.98,403.00 L580.10,402.99 L580.23,402.99 L580.35,402.98 L580.47,402.97 L580.60,402.96 L580.72,402.95 L580.85,402.94 L580.97,402.93 L581.09,402.92 L581.22,402.91 L581.34,402.91 L581.47,402.90 L581.59,402.89 L581.72,402.88 L581.84,402.87 L581.96,402.86 L582.09,402.85 L582.21,402.84 L582.34,402.83 L582.46,402.82 L582.58,402.81 L582.71,402.81 L582.83,402.80 L582.96,402.79 L583.08,402.78 L583.20,402.77 L583.33,402.76 L583.45,402.75 L583.58,402.74 L583.70,402.73 L583.82,402.73 L583.95,402.72 L584.07,402.71 L584.20,402.70 L584.32,402.69 L584.45,402.68 L584.57,402.67 L584.69,402.67 L584.82,402.66 L584.94,402.65 L585.07,402.64 L585.19,402.63 L585.31,402.62 L585.44,402.62 L585.56,402.61 L585.69,402.60 L585.81,402.59 L585.93,402.58 L586.06,402.58 L586.18,402.57 L586.31,402.56 L586.43,402.55 L586.55,402.55 L586.68,402.54 L586.80,402.53 L586.93,402.53 L587.05,402.52 L587.18,402.51 L587.30,402.51 L587.42,402.50 L587.55,402.49 L587.67,402.49 L587.80,402.48 L587.92,402.47 L588.04,402.47 L588.17,402.46 L588.29,402.46 L588.42,402.45 L588.54,402.44 L588.66,402.44 L588.79,402.43 L588.91,402.43 L589.04,402.42 L589.16,402.42 L589.29,402.41 L589.41,402.41 L589.53,402.40 L589.66,402.40 L589.78,402.40 L589.91,402.39 L590.03,402.39 L590.15,402.38 L590.28,402.38 L590.40,402.38 L590.53,402.37 L590.65,402.37 L590.77,402.37 L590.90,402.36 L591.02,402.36 L591.15,402.36 L591.27,402.36 L591.39,402.35 L591.52,402.35 L591.64,402.35 L591.77,402.35 L591.89,402.35 L592.02,402.35 L592.14,402.34 L592.26,402.34 L592.39,402.34 L592.51,402.34 L592.64,402.34 L592.76,402.34 L592.88,402.34 L593.01,402.34 L593.13,402.34 L593.26,402.34 L593.38,402.34 L593.50,402.34 L593.63,402.34 L593.75,402.34 L593.88,402.34 L594.00,402.34 L594.13,402.35 L594.25,402.35 L594.37,402.35 L594.50,402.35 L594.62,402.35 L594.75,402.36 L594.87,402.36 L594.99,402.36 L595.12,402.36 L595.24,402.37 L595.37,402.37 L595.49,402.37 L595.61,402.38 L595.74,402.38 L595.86,402.38 L595.99,402.39 L596.11,402.39 L596.23,402.39 L596.36,402.40 L596.48,402.40 L596.61,402.41 L596.73,402.41 L596.86,402.42 L596.98,402.42 L597.10,402.43 L597.23,402.43 L597.35,402.44 L597.48,402.44 L597.60,402.45 L597.72,402.45 L597.85,402.46 L597.97,402.47 L598.10,402.47 L598.22,402.48 L598.34,402.49 L598.47,402.49 L598.59,402.50 L598.72,402.51 L598.84,402.51 L598.96,402.52 L599.09,402.53 L599.21,402.53 L599.34,402.54 L599.46,402.55 L599.59,402.56 L599.71,402.56 L599.83,402.57 L599.96,402.58 L600.08,402.59 L600.21,402.59 L600.33,402.60 L600.45,402.61 L600.58,402.62 L600.70,402.63 L600.83,402.64 L600.95,402.64 L601.07,402.65 L601.20,402.66 L601.32,402.67 L601.45,402.68 L601.57,402.69 L601.70,402.70 L601.82,402.71 L601.94,402.72 L602.07,402.72 L602.19,402.73 L602.32,402.74 L602.44,402.75 L602.56,402.76 L602.69,402.77 L602.81,402.78 L602.94,402.79 L603.06,402.80 L603.18,402.81 L603.31,402.82 L603.43,402.83 L603.56,402.84 L603.68,402.85 L603.80,402.86 L603.93,402.87 L604.05,402.88 L604.18,402.89 L604.30,402.90 L604.43,402.91 L604.55,402.92 L604.67,402.93 L604.80,402.94 L604.92,402.94 L605.05,402.95 L605.17,402.96 L605.29,402.97 L605.42,402.98 L605.54,402.99 L605.67,403.00 L605.79,403.01 L605.91,403.02 L606.04,403.03 L606.16,403.04 L606.29,403.05 L606.41,403.06 L606.53,403.07 L606.66,403.08 L606.78,403.09 L606.91,403.10 L607.03,403.11 L607.16,403.12 L607.28,403.13 L607.40,403.14 L607.53,403.15 L607.65,403.16 L607.78,403.17 L607.90,403.17 L608.02,403.18 L608.15,403.19 L608.27,403.20 L608.40,403.21 L608.52,403.22 L608.64,403.23 L608.77,403.24 L608.89,403.25 L609.02,403.26 L609.14,403.26 L609.27,403.27 L609.39,403.28 L609.51,403.29 L609.64,403.30 L609.76,403.31 L609.89,403.32 L610.01,403.32 L610.13,403.33 L610.26,403.34 L610.38,403.35 L610.51,403.36 L610.63,403.36 L610.75,403.37 L610.88,403.38 L611.00,403.39 L611.13,403.40 L611.25,403.40 L611.37,403.41 L611.50,403.42 L611.62,403.43 L611.75,403.43 L611.87,403.44 L612.00,403.45 L612.12,403.45 L612.24,403.46 L612.37,403.47 L612.49,403.48 L612.62,403.48 L612.74,403.49 L612.86,403.50 L612.99,403.50 L613.11,403.51 L613.24,403.52 L613.36,403.52 L613.48,403.53 L613.61,403.53 L613.73,403.54 L613.86,403.55 L613.98,403.55 L614.10,403.56 L614.23,403.56 L614.35,403.57 L614.48,403.58 L614.60,403.58 L614.73,403.59 L614.85,403.59 L614.97,403.60 L615.10,403.60 L615.22,403.61 L615.35,403.61 L615.47,403.62 L615.59,403.62 L615.72,403.63 L615.84,403.63 L615.97,403.64 L616.09,403.64 L616.21,403.65 L616.34,403.65 L616.46,403.66 L616.59,403.66 L616.71,403.67 L616.84,403.67 L616.96,403.67 L617.08,403.68 L617.21,403.68 L617.33,403.69 L617.46,403.69 L617.58,403.70 L617.70,403.70 L617.83,403.70 L617.95,403.71 L618.08,403.71 L618.20,403.71 L618.32,403.72 L618.45,403.72 L618.57,403.72 L618.70,403.73 L618.82,403.73 L618.94,403.73 L619.07,403.74 L619.19,403.74 L619.32,403.74 L619.44,403.75 L619.57,403.75 L619.69,403.75 L619.81,403.76 L619.94,403.76 L620.06,403.76 L620.19,403.76 L620.31,403.77 L620.43,403.77 L620.56,403.77 L620.68,403.77 L620.81,403.78 L620.93,403.78 L621.05,403.78 L621.18,403.78 L621.30,403.79 L621.43,403.79 L621.55,403.79 L621.67,403.79 L621.80,403.79 L621.92,403.80 L622.05,403.80 L622.17,403.80 L622.30,403.80 L622.42,403.80 L622.54,403.81 L622.67,403.81 L622.79,403.81 L622.92,403.81 L623.04,403.81 L623.16,403.82 L623.29,403.82 L623.41,403.82 L623.54,403.82 L623.66,403.82 L623.78,403.82 L623.91,403.82 L624.03,403.83 L624.16,403.83 L624.28,403.83 L624.41,403.83 L624.53,403.83 L624.65,403.83 L624.78,403.83 L624.90,403.83 L625.03,403.84 L625.15,403.84 L625.27,403.84 L625.40,403.84 L625.52,403.84 L625.65,403.84 L625.77,403.84 L625.89,403.84 L626.02,403.84 L626.14,403.85 L626.27,403.85 L626.39,403.85 L626.51,403.85 L626.64,403.85 L626.76,403.85 L626.89,403.85 L627.01,403.85 L627.14,403.85 L627.26,403.85 L627.38,403.85 L627.51,403.85 L627.63,403.86 L627.76,403.86 L627.88,403.86 L628.00,403.86 L628.13,403.86 L628.25,403.86 L628.38,403.86 L628.50,403.86 L628.62,403.86 L628.75,403.86 L628.87,403.86 L629.00,403.86 L629.12,403.86 L629.24,403.86 L629.37,403.86 L629.49,403.86 L629.62,403.86 L629.74,403.86 L629.87,403.87 L629.99,403.87 L630.11,403.87 L630.24,403.87 L630.36,403.87 L630.49,403.87 L630.61,403.87 L630.73,403.87 L630.86,403.87 L630.98,403.87 L631.11,403.87 L631.23,403.87 L631.35,403.87 L631.48,403.87 L631.60,403.87 L631.73,403.87 L631.85,403.87 L631.98,403.87 L632.10,403.87 L632.22,403.87 L632.35,403.87 L632.47,403.87 L632.60,403.87 L632.72,403.87 L632.84,403.87 L632.97,403.87 L633.09,403.87 L633.22,403.87 L633.34,403.87 L633.46,403.87 L633.59,403.87 L633.71,403.87 L633.84,403.88 L633.96,403.88 L634.08,403.88 L634.21,403.88 L634.33,403.88 L634.46,403.88 L634.58,403.88 L634.71,403.88 L634.83,403.88 L634.95,403.88 L635.08,403.88 L635.20,403.88 L635.33,403.88 L635.45,403.88 L635.57,403.88 L635.70,403.88 L635.82,403.88 L635.95,403.88 L636.07,403.88 L636.19,403.88 L636.32,403.88 L636.44,403.88 L636.57,403.88 L636.69,403.88 L636.81,403.88 L636.94,403.88 L637.06,403.88 L637.19,403.88 L637.31,403.88 L637.44,403.88 L637.56,403.88 L637.68,403.88 L637.81,403.88 L637.93,403.88 L638.06,403.88 L638.18,403.88 L638.30,403.88 L638.43,403.88 L638.55,403.88 L638.68,403.88 L638.80,403.88 L638.92,403.88 L639.05,403.88 L639.17,403.88 L639.30,403.88 L639.42,403.88 L639.55,403.88 L639.67,403.88 L639.79,403.88 L639.92,403.88 L640.04,403.88 L640.17,403.88 L640.29,403.88 L640.41,403.88 L640.54,403.88 L640.66,403.88 L640.79,403.88 L640.91,403.88 L641.03,403.88 L641.16,403.88 L641.28,403.88 L641.41,403.88 L641.53,403.88 L641.65,403.88 L641.78,403.88 L641.90,403.88 L642.03,403.88 L642.15,403.88 L642.28,403.88 L642.40,403.88 L642.52,403.88 L642.65,403.88 L642.77,403.88 L642.90,403.88 L643.02,403.88 L643.14,403.88 L643.27,403.88 L643.39,403.88 L643.52,403.88 L643.64,403.88 L643.76,403.88 L643.89,403.88 L644.01,403.88 L644.14,403.88 L644.26,403.88 L644.38,403.88 L644.51,403.88 L644.63,403.88 L644.76,403.88 L644.88,403.88 L645.01,403.88 L645.13,403.88 L645.25,403.88 L645.38,403.88 L645.50,403.88 L645.63,403.88 L645.75,403.88 L645.87,403.88 L646.00,403.88 L646.12,403.88 L646.25,403.88 L646.37,403.88 L646.49,403.88 L646.62,403.88 L646.74,403.88 L646.87,403.88 L646.99,403.88 L647.12,403.88 L647.24,403.88 L647.36,403.88 L647.49,403.88 L647.61,403.88 L647.74,403.88 L647.86,403.88 L647.98,403.88 L648.11,403.88 L648.23,403.88 L648.36,403.88 L648.48,403.88 L648.60,403.88 L648.73,403.88 L648.85,403.88 L648.98,403.88 L649.10,403.88 L649.22,403.88 L649.35,403.88 L649.47,403.88 L649.60,403.88 L649.72,403.89 L649.85,403.89 L649.97,403.89 L650.09,403.89 L650.22,403.89 L650.34,403.89 L650.47,403.89 L650.59,403.89 L650.71,403.89 L650.84,403.89 L650.96,403.89 L651.09,403.89 L651.21,403.89 L651.33,403.89 L651.46,403.89 L651.58,403.89 L651.71,403.89 L651.83,403.89 L651.96,403.89 L652.08,403.89 L652.20,403.89 L652.33,403.89 L652.45,403.89 L652.58,403.89 L652.70,403.89 L652.82,403.89 L652.95,403.89 L653.07,403.89 L653.20,403.89 L653.32,403.89 L653.44,403.89 L653.57,403.89 L653.69,403.89 L653.82,403.89 L653.94,403.89 L654.06,403.89 L654.19,403.89 L654.31,403.89 L654.44,403.89 L654.56,403.89 L654.69,403.89 L654.81,403.89 L654.93,403.89 L655.06,403.89 L655.18,403.89 L655.31,403.89 L655.43,403.89 L655.55,403.89 L655.68,403.89 L655.80,403.89 L655.93,403.89 L656.05,403.89 L656.17,403.89 L656.30,403.89 L656.42,403.89 L656.55,403.89 L656.67,403.89 L656.79,403.89 L656.92,403.89 L657.04,403.89 L657.17,403.89 L657.29,403.89 L657.42,403.89 L657.54,403.89 L657.66,403.89 L657.79,403.89 L657.91,403.89 L658.04,403.89 L658.16,403.89 L658.28,403.89 L658.41,403.89 L658.53,403.89 L658.66,403.89 L658.78,403.89 L658.90,403.89 L659.03,403.89 L659.15,403.89 L659.28,403.89 L659.40,403.89 L659.53,403.89 L659.65,403.89 L659.77,403.89 L659.90,403.89 L660.02,403.89 L660.15,403.89 L660.27,403.89 L660.39,403.89 L660.52,403.89 L660.64,403.89 L660.77,403.89 L660.89,403.89 L661.01,403.89 L661.14,403.89 L661.26,403.89 L661.39,403.89 L661.51,403.89 L661.63,403.89 L661.76,403.89 L661.88,403.89 L662.01,403.89 L662.13,403.89 L662.26,403.89 L662.38,403.89 L662.50,403.89 L662.63,403.89 L662.75,403.89 L662.88,403.89 L663.00,403.89 L663.12,403.89 L663.25,403.89 L663.37,403.89 L663.50,403.89 L663.62,403.89 L663.74,403.89 L663.87,403.89 L663.99,403.89 L664.12,403.89 L664.24,403.89 L664.36,403.89 L664.49,403.89 L664.61,403.89 L664.74,403.89 L664.86,403.89 L664.99,403.89 L665.11,403.89 L665.23,403.89 L665.36,403.89 L665.48,403.89 L665.61,403.89 L665.73,403.89 L665.85,403.89 L665.98,403.89 L666.10,403.89 L666.23,403.89 L666.35,403.89 L666.47,403.89 L666.60,403.89 L666.72,403.89 L666.85,403.89 L666.97,403.89 L667.10,403.89 L667.22,403.89 L667.34,403.89 L667.47,403.89 L667.59,403.89 L667.72,403.89 L667.84,403.89 L667.96,403.89 L668.09,403.89 L668.21,403.89 L668.34,403.89 L668.46,403.89 L668.58,403.89 L668.71,403.89 L668.83,403.89 L668.96,403.89 L669.08,403.89 L669.20,403.89 L669.33,403.89 L669.45,403.89 L669.58,403.89 L669.70,403.89 L669.83,403.89 L669.95,403.89 L670.07,403.89 L670.20,403.89 L670.32,403.89 L670.45,403.89 L670.57,403.89 L670.69,403.89 L670.82,403.89 L670.94,403.89 L671.07,403.89 L671.19,403.89 L671.31,403.89 L671.44,403.89 L671.56,403.89 L671.69,403.89 L671.81,403.89 L671.93,403.89 L672.06,403.89 L672.18,403.89 L672.31,403.89 L672.43,403.89 L672.56,403.89 L672.68,403.89 L672.80,403.89 L672.93,403.89 L673.05,403.89 L673.18,403.89 L673.30,403.89" fill="none" stroke="#e8403a" stroke-width="0.9" stroke-dasharray="1.6,1.4"/>
<line x1="534.20" y1="256.50" x2="556.00" y2="290.60" stroke="#1a1a1a" stroke-width="1.3" stroke-dasharray="6.5,3"/>
<line x1="534.40" y1="257.50" x2="555.80" y2="357.50" stroke="#1a1a1a" stroke-width="1.3" stroke-dasharray="6.5,3"/>
<path d="M487.4,255.4 L673.9,255.4 L673.9,404.8 L487.4,404.8 Z" fill="none" stroke="#6e6e6e" stroke-width="0.9"/>
<line x1="484.60" y1="404.80" x2="487.40" y2="404.80" stroke="#6e6e6e" stroke-width="0.8" />
<text x="465.75" y="408.38" font-size="10.0" font-weight="bold" fill="#111" textLength="15.60" lengthAdjust="spacingAndGlyphs" >0.0</text>
<line x1="485.60" y1="389.86" x2="487.40" y2="389.86" stroke="#6e6e6e" stroke-width="0.8" />
<line x1="484.60" y1="374.92" x2="487.40" y2="374.92" stroke="#6e6e6e" stroke-width="0.8" />
<text x="465.75" y="378.50" font-size="10.0" font-weight="bold" fill="#111" textLength="15.60" lengthAdjust="spacingAndGlyphs" >0.2</text>
<line x1="485.60" y1="359.98" x2="487.40" y2="359.98" stroke="#6e6e6e" stroke-width="0.8" />
<line x1="484.60" y1="345.04" x2="487.40" y2="345.04" stroke="#6e6e6e" stroke-width="0.8" />
<text x="465.76" y="348.62" font-size="10.0" font-weight="bold" fill="#111" textLength="15.19" lengthAdjust="spacingAndGlyphs" >0.4</text>
<line x1="485.60" y1="330.10" x2="487.40" y2="330.10" stroke="#6e6e6e" stroke-width="0.8" />
<line x1="484.60" y1="315.16" x2="487.40" y2="315.16" stroke="#6e6e6e" stroke-width="0.8" />
<text x="465.75" y="318.74" font-size="10.0" font-weight="bold" fill="#111" textLength="15.54" lengthAdjust="spacingAndGlyphs" >0.6</text>
<line x1="485.60" y1="300.22" x2="487.40" y2="300.22" stroke="#6e6e6e" stroke-width="0.8" />
<line x1="484.60" y1="285.28" x2="487.40" y2="285.28" stroke="#6e6e6e" stroke-width="0.8" />
<text x="465.75" y="288.86" font-size="10.0" font-weight="bold" fill="#111" textLength="15.48" lengthAdjust="spacingAndGlyphs" >0.8</text>
<line x1="485.60" y1="270.34" x2="487.40" y2="270.34" stroke="#6e6e6e" stroke-width="0.8" />
<line x1="484.60" y1="255.40" x2="487.40" y2="255.40" stroke="#6e6e6e" stroke-width="0.8" />
<text x="465.46" y="258.98" font-size="10.0" font-weight="bold" fill="#111" textLength="15.90" lengthAdjust="spacingAndGlyphs" >1.0</text>
<line x1="493.90" y1="404.80" x2="493.90" y2="406.40" stroke="#6e6e6e" stroke-width="0.8" />
<line x1="507.70" y1="404.80" x2="507.70" y2="407.20" stroke="#6e6e6e" stroke-width="0.8" />
<text x="504.68" y="420.61" font-size="9.8" font-weight="bold" fill="#111" textLength="6.13" lengthAdjust="spacingAndGlyphs" >4</text>
<line x1="521.50" y1="404.80" x2="521.50" y2="406.40" stroke="#6e6e6e" stroke-width="0.8" />
<line x1="535.30" y1="404.80" x2="535.30" y2="407.20" stroke="#6e6e6e" stroke-width="0.8" />
<text x="532.02" y="420.61" font-size="9.8" font-weight="bold" fill="#111" textLength="6.77" lengthAdjust="spacingAndGlyphs" >6</text>
<line x1="549.10" y1="404.80" x2="549.10" y2="406.40" stroke="#6e6e6e" stroke-width="0.8" />
<line x1="562.90" y1="404.80" x2="562.90" y2="407.20" stroke="#6e6e6e" stroke-width="0.8" />
<text x="559.69" y="420.61" font-size="9.8" font-weight="bold" fill="#111" textLength="6.63" lengthAdjust="spacingAndGlyphs" >8</text>
<line x1="576.70" y1="404.80" x2="576.70" y2="406.40" stroke="#6e6e6e" stroke-width="0.8" />
<line x1="590.50" y1="404.80" x2="590.50" y2="407.20" stroke="#6e6e6e" stroke-width="0.8" />
<text x="584.78" y="420.61" font-size="9.8" font-weight="bold" fill="#111" textLength="11.40" lengthAdjust="spacingAndGlyphs" >10</text>
<line x1="604.30" y1="404.80" x2="604.30" y2="406.40" stroke="#6e6e6e" stroke-width="0.8" />
<line x1="618.10" y1="404.80" x2="618.10" y2="407.20" stroke="#6e6e6e" stroke-width="0.8" />
<text x="612.39" y="420.61" font-size="9.8" font-weight="bold" fill="#111" textLength="11.34" lengthAdjust="spacingAndGlyphs" >12</text>
<line x1="631.90" y1="404.80" x2="631.90" y2="406.40" stroke="#6e6e6e" stroke-width="0.8" />
<line x1="645.70" y1="404.80" x2="645.70" y2="407.20" stroke="#6e6e6e" stroke-width="0.8" />
<text x="640.01" y="420.61" font-size="9.8" font-weight="bold" fill="#111" textLength="11.02" lengthAdjust="spacingAndGlyphs" >14</text>
<line x1="659.50" y1="404.80" x2="659.50" y2="406.40" stroke="#6e6e6e" stroke-width="0.8" />
<line x1="673.30" y1="404.80" x2="673.30" y2="407.20" stroke="#6e6e6e" stroke-width="0.8" />
<text x="667.59" y="420.61" font-size="9.8" font-weight="bold" fill="#111" textLength="11.34" lengthAdjust="spacingAndGlyphs" >16</text>
<text x="539.60" y="433.60" font-size="10.0" font-weight="bold" fill="#111" textLength="82.31" lengthAdjust="spacingAndGlyphs" >Wavelength (μm)</text>
<text x="0" y="0" font-size="8.9" font-weight="bold" fill="#111" textLength="63.09" lengthAdjust="spacingAndGlyphs" transform="translate(456.30,360.46) rotate(-90)" >Absorptance</text>
<line x1="590.10" y1="264.00" x2="610.50" y2="264.00" stroke="#333" stroke-width="0.9" />
<line x1="590.10" y1="275.90" x2="610.50" y2="275.90" stroke="#e8403a" stroke-width="0.9" stroke-dasharray="1.6,1.4"/>
<text x="614.63" y="264.90" font-size="8.2" font-weight="bold" fill="#111" textLength="56.37" lengthAdjust="spacingAndGlyphs" >Measurement</text>
<text x="614.85" y="277.50" font-size="8.2" font-weight="bold" fill="#111" textLength="56.16" lengthAdjust="spacingAndGlyphs" >Circuit model</text>
<rect x="556.4" y="291.3" width="85.0" height="72.09999999999997" fill="#fff" stroke="#555" stroke-width="0.8"/>
<clipPath id="insd"><rect x="556.4" y="291.3" width="85.0" height="72.09999999999997"/></clipPath>
<g clip-path="url(#insd)">
<path d="M555.58,356.87 L555.90,356.84 L556.22,356.80 L556.54,356.76 L556.87,356.72 L557.19,356.69 L557.51,356.65 L557.83,356.61 L558.15,356.56 L558.48,356.52 L558.80,356.48 L559.12,356.43 L559.44,356.39 L559.76,356.34 L560.09,356.29 L560.41,356.24 L560.73,356.19 L561.05,356.14 L561.37,356.09 L561.70,356.03 L562.02,355.98 L562.34,355.92 L562.66,355.86 L562.98,355.80 L563.30,355.74 L563.63,355.67 L563.95,355.61 L564.27,355.54 L564.59,355.47 L564.91,355.40 L565.24,355.33 L565.56,355.25 L565.88,355.18 L566.20,355.10 L566.52,355.01 L566.85,354.93 L567.17,354.84 L567.49,354.75 L567.81,354.66 L568.13,354.57 L568.46,354.47 L568.78,354.37 L569.10,354.26 L569.42,354.16 L569.74,354.05 L570.07,353.93 L570.39,353.81 L570.71,353.69 L571.03,353.57 L571.35,353.44 L571.68,353.30 L572.00,353.16 L572.32,353.02 L572.64,352.87 L572.96,352.72 L573.29,352.56 L573.61,352.39 L573.93,352.22 L574.25,352.05 L574.57,351.86 L574.89,351.67 L575.22,351.47 L575.54,351.27 L575.86,351.05 L576.18,350.83 L576.50,350.60 L576.83,350.36 L577.15,350.12 L577.47,349.86 L577.79,349.59 L578.11,349.31 L578.44,349.01 L578.76,348.71 L579.08,348.39 L579.40,348.06 L579.72,347.72 L580.05,347.36 L580.37,346.98 L580.69,346.59 L581.01,346.18" fill="none" stroke="#333" stroke-width="0.85"/>
<path d="M555.58,358.80 L555.90,358.77 L556.22,358.73 L556.54,358.70 L556.87,358.67 L557.19,358.64 L557.51,358.60 L557.83,358.57 L558.15,358.53 L558.48,358.50 L558.80,358.46 L559.12,358.42 L559.44,358.38 L559.76,358.34 L560.09,358.30 L560.41,358.26 L560.73,358.22 L561.05,358.17 L561.37,358.13 L561.70,358.08 L562.02,358.03 L562.34,357.98 L562.66,357.93 L562.98,357.88 L563.30,357.83 L563.63,357.77 L563.95,357.72 L564.27,357.66 L564.59,357.60 L564.91,357.54 L565.24,357.48 L565.56,357.41 L565.88,357.35 L566.20,357.28 L566.52,357.21 L566.85,357.13 L567.17,357.06 L567.49,356.98 L567.81,356.90 L568.13,356.82 L568.46,356.74 L568.78,356.65 L569.10,356.56 L569.42,356.47 L569.74,356.37 L570.07,356.27 L570.39,356.17 L570.71,356.07 L571.03,355.96 L571.35,355.85 L571.68,355.73 L572.00,355.61 L572.32,355.48 L572.64,355.36 L572.96,355.22 L573.29,355.08 L573.61,354.94 L573.93,354.79 L574.25,354.64 L574.57,354.48 L574.89,354.31 L575.22,354.14 L575.54,353.96 L575.86,353.77 L576.18,353.58 L576.50,353.37 L576.83,353.16 L577.15,352.94 L577.47,352.72 L577.79,352.48 L578.11,352.23 L578.44,351.97 L578.76,351.70 L579.08,351.42 L579.40,351.13 L579.72,350.82 L580.05,350.50 L580.37,350.16 L580.69,349.81 L581.01,349.44" fill="none" stroke="#e8403a" stroke-width="0.85" stroke-dasharray="1.4,1.2"/>
<path d="M614.92,348.34 L615.27,348.69 L615.62,349.01 L615.96,349.33 L616.31,349.63 L616.65,349.91 L617.00,350.19 L617.34,350.45 L617.69,350.71 L618.04,350.95 L618.38,351.18 L618.73,351.41 L619.07,351.62 L619.42,351.83 L619.77,352.03 L620.11,352.22 L620.46,352.40 L620.80,352.58 L621.15,352.75 L621.49,352.91 L621.84,353.07 L622.19,353.22 L622.53,353.37 L622.88,353.51 L623.22,353.65 L623.57,353.78 L623.91,353.91 L624.26,354.03 L624.61,354.15 L624.95,354.26 L625.30,354.38 L625.64,354.48 L625.99,354.59 L626.34,354.69 L626.68,354.79 L627.03,354.88 L627.37,354.97 L627.72,355.06 L628.06,355.15 L628.41,355.23 L628.76,355.31 L629.10,355.39 L629.45,355.47 L629.79,355.54 L630.14,355.62 L630.48,355.69 L630.83,355.75 L631.18,355.82 L631.52,355.88 L631.87,355.95 L632.21,356.01 L632.56,356.07 L632.91,356.12 L633.25,356.18 L633.60,356.24 L633.94,356.29 L634.29,356.34 L634.63,356.39 L634.98,356.44 L635.33,356.49 L635.67,356.53 L636.02,356.58 L636.36,356.62 L636.71,356.67 L637.06,356.71 L637.40,356.75 L637.75,356.79 L638.09,356.83 L638.44,356.87 L638.78,356.91 L639.13,356.94 L639.48,356.98 L639.82,357.01 L640.17,357.05 L640.51,357.08 L640.86,357.11 L641.20,357.14 L641.55,357.18 L641.90,357.21 L642.24,357.24" fill="none" stroke="#333" stroke-width="0.85"/>
<path d="M614.92,351.38 L615.27,351.68 L615.62,351.97 L615.96,352.25 L616.31,352.51 L616.65,352.77 L617.00,353.01 L617.34,353.24 L617.69,353.46 L618.04,353.68 L618.38,353.88 L618.73,354.08 L619.07,354.26 L619.42,354.45 L619.77,354.62 L620.11,354.78 L620.46,354.94 L620.80,355.10 L621.15,355.25 L621.49,355.39 L621.84,355.53 L622.19,355.66 L622.53,355.79 L622.88,355.91 L623.22,356.03 L623.57,356.14 L623.91,356.25 L624.26,356.36 L624.61,356.46 L624.95,356.56 L625.30,356.66 L625.64,356.75 L625.99,356.84 L626.34,356.93 L626.68,357.01 L627.03,357.09 L627.37,357.17 L627.72,357.25 L628.06,357.32 L628.41,357.39 L628.76,357.46 L629.10,357.53 L629.45,357.60 L629.79,357.66 L630.14,357.72 L630.48,357.78 L630.83,357.84 L631.18,357.90 L631.52,357.95 L631.87,358.01 L632.21,358.06 L632.56,358.11 L632.91,358.16 L633.25,358.21 L633.60,358.25 L633.94,358.30 L634.29,358.34 L634.63,358.39 L634.98,358.43 L635.33,358.47 L635.67,358.51 L636.02,358.55 L636.36,358.58 L636.71,358.62 L637.06,358.66 L637.40,358.69 L637.75,358.73 L638.09,358.76 L638.44,358.79 L638.78,358.82 L639.13,358.86 L639.48,358.89 L639.82,358.92 L640.17,358.94 L640.51,358.97 L640.86,359.00 L641.20,359.03 L641.55,359.05 L641.90,359.08 L642.24,359.11" fill="none" stroke="#e8403a" stroke-width="0.85" stroke-dasharray="1.4,1.2"/>
<path d="M586.8,333.5 L596.5,291.3 L606.5,333.5" fill="none" stroke="#444" stroke-width="0.85"/>
<path d="M586.5,333.5 L596.5,291.3 L606.8,333.5" fill="none" stroke="#e8403a" stroke-width="0.85" stroke-dasharray="1.4,1.2"/>
</g>
<rect x="560" y="333.3" width="78" height="17.1" fill="#fff"/>
<line x1="641.40" y1="360.00" x2="643.60" y2="360.00" stroke="#555" stroke-width="0.8" />
<line x1="641.40" y1="343.70" x2="643.60" y2="343.70" stroke="#555" stroke-width="0.8" />
<line x1="641.40" y1="327.40" x2="643.60" y2="327.40" stroke="#555" stroke-width="0.8" />
<line x1="641.40" y1="311.10" x2="643.60" y2="311.10" stroke="#555" stroke-width="0.8" />
<line x1="641.40" y1="294.80" x2="643.60" y2="294.80" stroke="#555" stroke-width="0.8" />
<text x="644.40" y="297.88" font-size="8.6" font-weight="bold" fill="#111" textLength="12.87" lengthAdjust="spacingAndGlyphs" >1.0</text>
<text x="644.64" y="330.68" font-size="8.6" font-weight="bold" fill="#111" textLength="12.53" lengthAdjust="spacingAndGlyphs" >0.5</text>
<text x="644.64" y="362.88" font-size="8.6" font-weight="bold" fill="#111" textLength="12.63" lengthAdjust="spacingAndGlyphs" >0.0</text>
<line x1="566.10" y1="363.40" x2="566.10" y2="361.40" stroke="#555" stroke-width="0.8" />
<line x1="580.30" y1="363.40" x2="580.30" y2="361.40" stroke="#555" stroke-width="0.8" />
<line x1="594.50" y1="363.40" x2="594.50" y2="361.40" stroke="#555" stroke-width="0.8" />
<line x1="608.70" y1="363.40" x2="608.70" y2="361.40" stroke="#555" stroke-width="0.8" />
<line x1="622.90" y1="363.40" x2="622.90" y2="361.40" stroke="#555" stroke-width="0.8" />
<line x1="637.10" y1="363.40" x2="637.10" y2="361.40" stroke="#555" stroke-width="0.8" />
<text x="560.13" y="375.28" font-size="8.6" font-weight="bold" fill="#111" textLength="12.33" lengthAdjust="spacingAndGlyphs" >5.5</text>
<text x="587.93" y="375.28" font-size="8.6" font-weight="bold" fill="#111" textLength="12.33" lengthAdjust="spacingAndGlyphs" >5.8</text>
<text x="616.59" y="375.28" font-size="8.6" font-weight="bold" fill="#111" textLength="12.38" lengthAdjust="spacingAndGlyphs" >6.1</text>
<text x="560.10" y="384.28" font-size="8.6" font-weight="bold" fill="#111" textLength="70.33" lengthAdjust="spacingAndGlyphs" >Wavelength (μm)</text>
<text x="0" y="0" font-size="7.6" font-weight="bold" fill="#111" textLength="53.10" lengthAdjust="spacingAndGlyphs" transform="translate(669.10,351.52) rotate(-90)" >Absorptance</text>
<line x1="561.80" y1="327.80" x2="586.00" y2="327.80" stroke="#222" stroke-width="1.4" />
<path d="M580.5,324.1 L586.8,327.8 L580.5,331.6" fill="none" stroke="#222" stroke-width="1.3"/>
<line x1="606.60" y1="327.80" x2="631.30" y2="327.80" stroke="#222" stroke-width="1.4" />
<path d="M612.7,324.1 L605.8,327.8 L612.7,331.6" fill="none" stroke="#222" stroke-width="1.3"/>
<text x="565.33" y="344.40" font-size="7.6" font-weight="bold" fill="#111" textLength="67.10" lengthAdjust="spacingAndGlyphs" >FWHM = 180 nm</text>
<text x="2.61" y="28.50" font-size="15" font-weight="bold" fill="#000" textLength="7.28" lengthAdjust="spacingAndGlyphs" >a</text>
<text x="356.18" y="29.70" font-size="15" font-weight="bold" fill="#000" textLength="9.56" lengthAdjust="spacingAndGlyphs" >b</text>
<text x="2.62" y="252.60" font-size="15" font-weight="bold" fill="#000" textLength="8.03" lengthAdjust="spacingAndGlyphs" >c</text>
<text x="355.86" y="252.50" font-size="15" font-weight="bold" fill="#000" textLength="11.37" lengthAdjust="spacingAndGlyphs" >d</text>
</svg>
</body></html>
